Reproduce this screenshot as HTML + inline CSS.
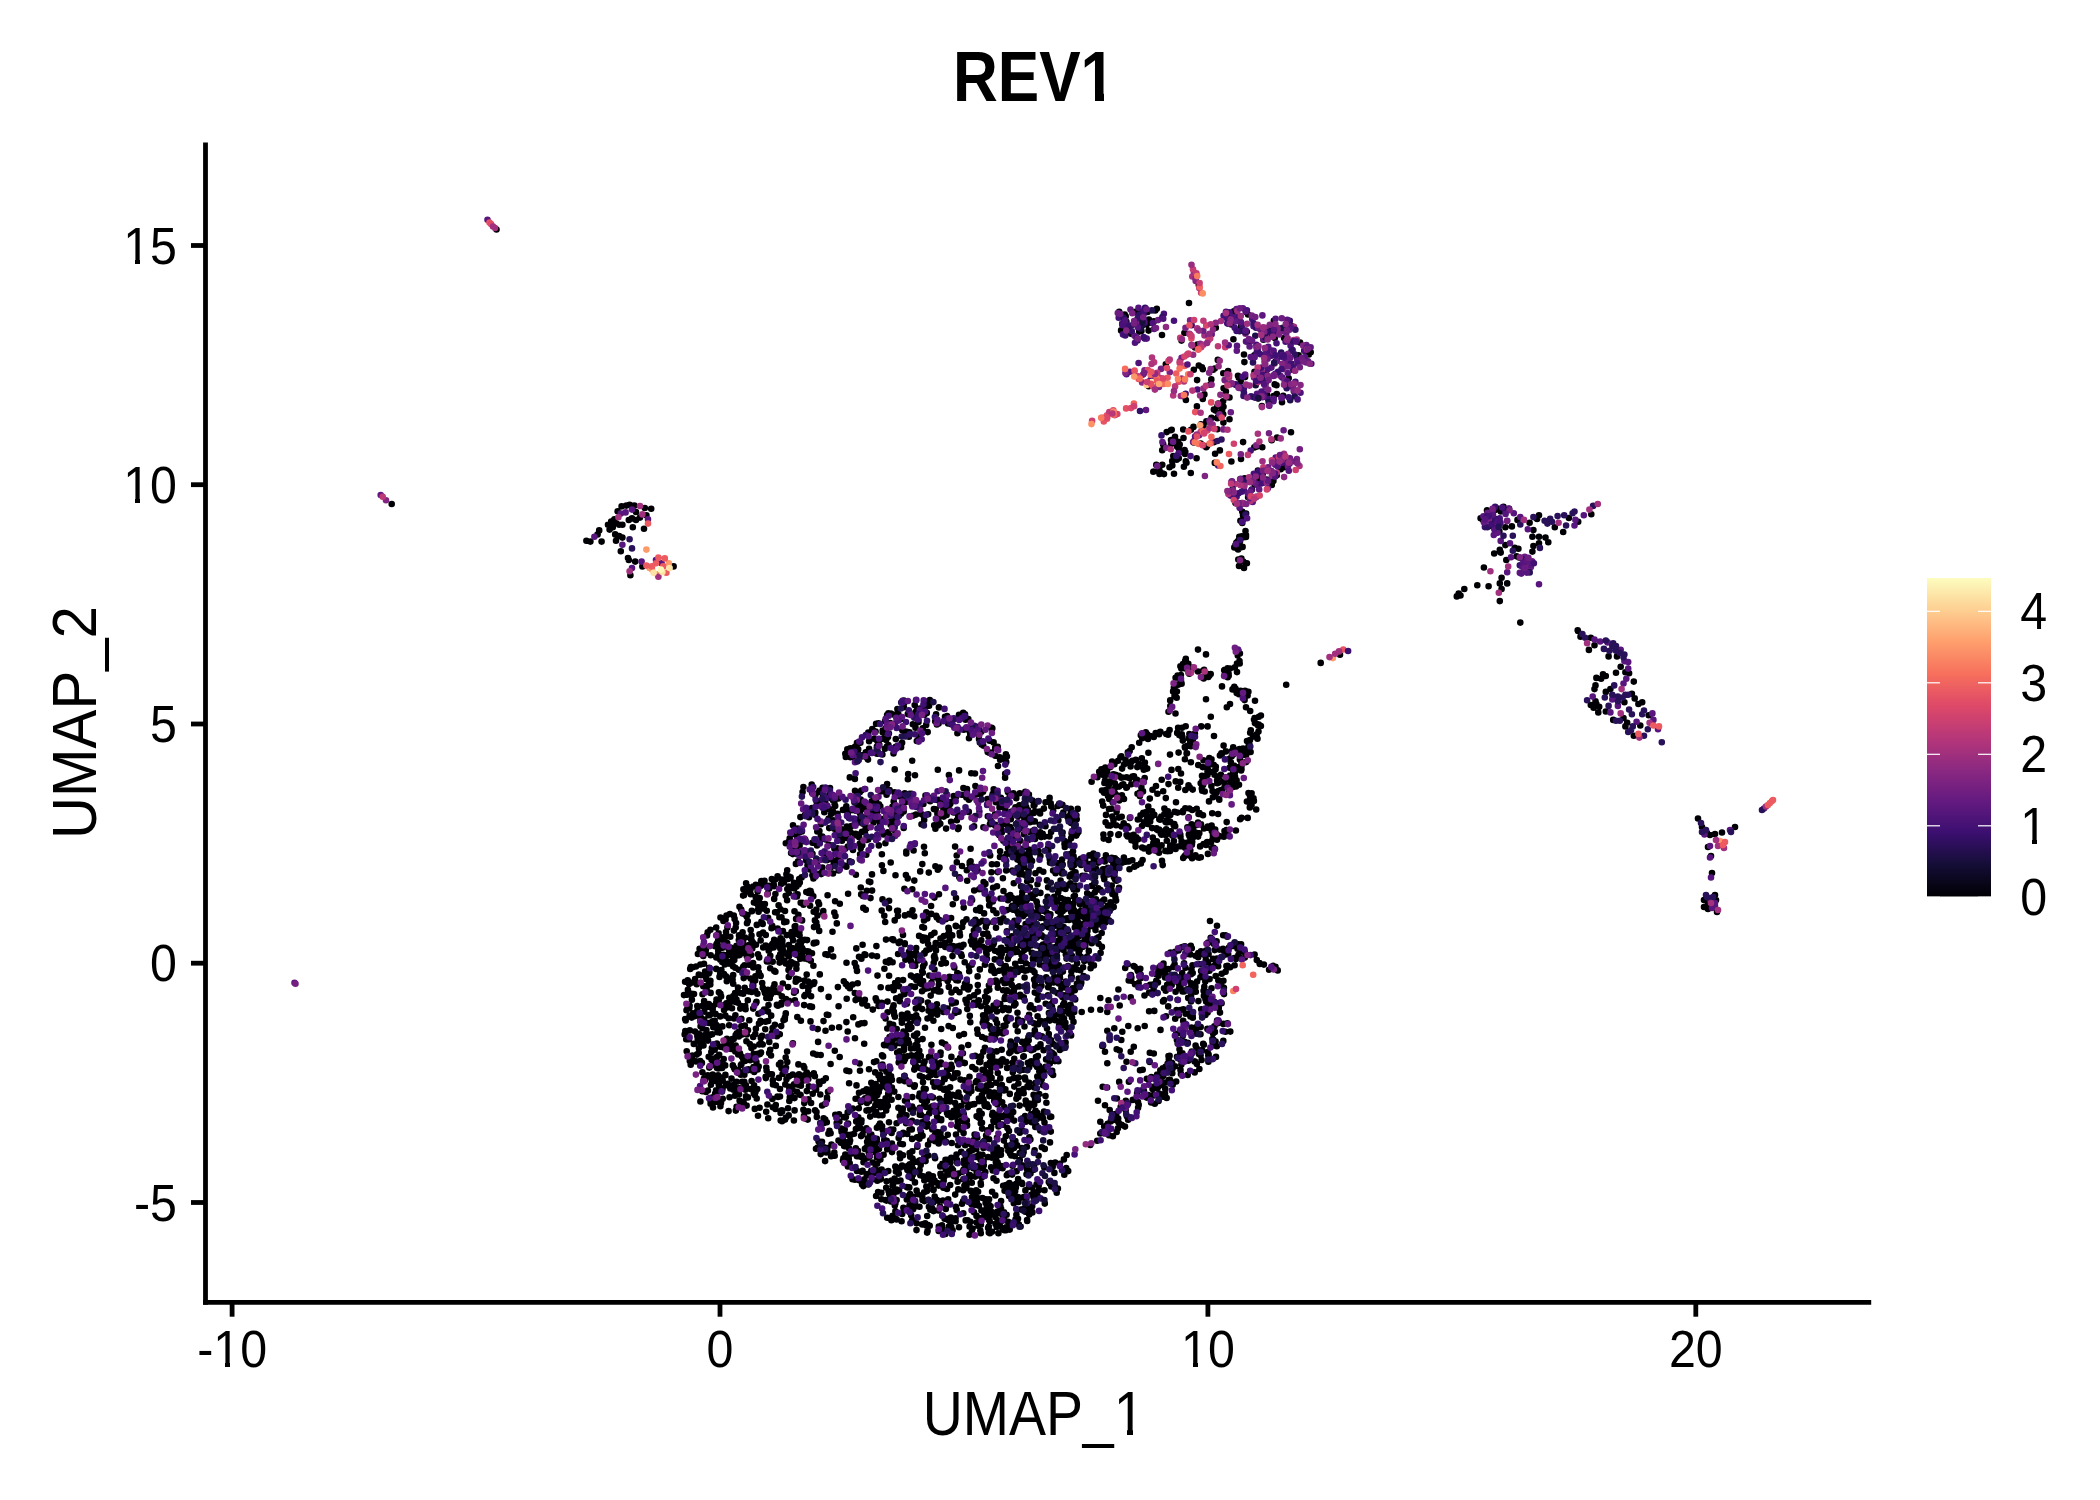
<!DOCTYPE html><html><head><meta charset="utf-8"><style>
html,body{margin:0;padding:0;background:#fff;width:2100px;height:1500px;overflow:hidden}
svg{display:block}
.tk{font-family:"Liberation Sans",sans-serif;font-size:52px;fill:#000}
.at{font-family:"Liberation Sans",sans-serif;font-size:63.4px;fill:#000}
.ttl{font-family:"Liberation Sans",sans-serif;font-size:70.9px;font-weight:bold;fill:#000}
</style></head><body><svg width="2100" height="1500" viewBox="0 0 2100 1500">
<line x1="205.5" y1="142.5" x2="205.5" y2="1304.8" stroke="#000" stroke-width="4.8" stroke-linecap="butt"/><line x1="203.1" y1="1302.4" x2="1871.2" y2="1302.4" stroke="#000" stroke-width="4.8"/><line x1="191" y1="245.5" x2="205.5" y2="245.5" stroke="#000" stroke-width="4.8"/><text transform="translate(177,263.5) scale(0.93,1)" text-anchor="end" class="tk">15</text><line x1="191" y1="484.7" x2="205.5" y2="484.7" stroke="#000" stroke-width="4.8"/><text transform="translate(177,502.7) scale(0.93,1)" text-anchor="end" class="tk">10</text><line x1="191" y1="724.0" x2="205.5" y2="724.0" stroke="#000" stroke-width="4.8"/><text transform="translate(177,742.0) scale(0.93,1)" text-anchor="end" class="tk">5</text><line x1="191" y1="963.2" x2="205.5" y2="963.2" stroke="#000" stroke-width="4.8"/><text transform="translate(177,981.2) scale(0.93,1)" text-anchor="end" class="tk">0</text><line x1="191" y1="1202.5" x2="205.5" y2="1202.5" stroke="#000" stroke-width="4.8"/><text transform="translate(177,1220.5) scale(0.93,1)" text-anchor="end" class="tk">-5</text><line x1="232.1" y1="1302.4" x2="232.1" y2="1316.7" stroke="#000" stroke-width="4.8"/><text transform="translate(232.1,1366.7) scale(0.93,1)" text-anchor="middle" class="tk">-10</text><line x1="720.0" y1="1302.4" x2="720.0" y2="1316.7" stroke="#000" stroke-width="4.8"/><text transform="translate(720.0,1366.7) scale(0.93,1)" text-anchor="middle" class="tk">0</text><line x1="1207.9" y1="1302.4" x2="1207.9" y2="1316.7" stroke="#000" stroke-width="4.8"/><text transform="translate(1207.9,1366.7) scale(0.93,1)" text-anchor="middle" class="tk">10</text><line x1="1695.8" y1="1302.4" x2="1695.8" y2="1316.7" stroke="#000" stroke-width="4.8"/><text transform="translate(1695.8,1366.7) scale(0.93,1)" text-anchor="middle" class="tk">20</text><text transform="translate(1034,100.8) scale(0.876,1)" text-anchor="middle" class="ttl">REV1</text><text transform="translate(1033.6,1435.3) scale(0.875,1)" text-anchor="middle" class="at">UMAP_1</text><text transform="translate(95.5,722.5) rotate(-90) scale(0.918,1)" x="0" y="0" text-anchor="middle" class="at">UMAP_2</text><defs><linearGradient id="cb" x1="0" y1="1" x2="0" y2="0"><stop offset="0.00" stop-color="#000004"/><stop offset="0.10" stop-color="#140E36"/><stop offset="0.20" stop-color="#3B0F70"/><stop offset="0.30" stop-color="#641A80"/><stop offset="0.40" stop-color="#8C2981"/><stop offset="0.50" stop-color="#B73779"/><stop offset="0.60" stop-color="#DE4968"/><stop offset="0.70" stop-color="#F7705C"/><stop offset="0.80" stop-color="#FE9F6D"/><stop offset="0.90" stop-color="#FECF92"/><stop offset="1.00" stop-color="#FCFDBF"/></linearGradient></defs><rect x="1927" y="578" width="64" height="318.5" fill="url(#cb)"/><line x1="1927" y1="897.3" x2="1940" y2="897.3" stroke="#fff" stroke-width="1.2"/><line x1="1978" y1="897.3" x2="1991" y2="897.3" stroke="#fff" stroke-width="1.2"/><text transform="translate(2020.2,915.3) scale(0.93,1)" class="tk">0</text><line x1="1927" y1="825.8" x2="1940" y2="825.8" stroke="#fff" stroke-width="1.2"/><line x1="1978" y1="825.8" x2="1991" y2="825.8" stroke="#fff" stroke-width="1.2"/><text transform="translate(2020.2,843.8) scale(0.93,1)" class="tk">1</text><line x1="1927" y1="754.3" x2="1940" y2="754.3" stroke="#fff" stroke-width="1.2"/><line x1="1978" y1="754.3" x2="1991" y2="754.3" stroke="#fff" stroke-width="1.2"/><text transform="translate(2020.2,772.3) scale(0.93,1)" class="tk">2</text><line x1="1927" y1="682.8" x2="1940" y2="682.8" stroke="#fff" stroke-width="1.2"/><line x1="1978" y1="682.8" x2="1991" y2="682.8" stroke="#fff" stroke-width="1.2"/><text transform="translate(2020.2,700.8) scale(0.93,1)" class="tk">3</text><line x1="1927" y1="611.3" x2="1940" y2="611.3" stroke="#fff" stroke-width="1.2"/><line x1="1978" y1="611.3" x2="1991" y2="611.3" stroke="#fff" stroke-width="1.2"/><text transform="translate(2020.2,629.3) scale(0.93,1)" class="tk">4</text><rect x="126" y="259" width="9" height="6" fill="#fff"/><rect x="140" y="259" width="9" height="6" fill="#fff"/><rect x="126" y="498" width="9" height="6" fill="#fff"/><rect x="140" y="498" width="9" height="6" fill="#fff"/><rect x="216" y="1362" width="9" height="6" fill="#fff"/><rect x="230" y="1362" width="9" height="6" fill="#fff"/><rect x="1183" y="1362" width="10" height="6" fill="#fff"/><rect x="1198" y="1362" width="9" height="6" fill="#fff"/><rect x="1083" y="92" width="12" height="10" fill="#fff"/><rect x="1104" y="92" width="11" height="10" fill="#fff"/><rect x="1117" y="1429" width="10" height="7" fill="#fff"/><rect x="1133" y="1429" width="10" height="7" fill="#fff"/><rect x="2023" y="839" width="9" height="6" fill="#fff"/><rect x="2037" y="839" width="9" height="6" fill="#fff"/><path stroke="#000004" stroke-width="6.6" stroke-linecap="round" fill="none" d="M1062.9 971.6h0M1520.3 622.6h0M793.1 940.3h0M927.7 1123.7h0M892.1 939.3h0M1049.7 925.0h0M843.0 1160.6h0M819.5 1147.8h0M737.3 955.4h0M1239.5 661.1h0M1610.4 689.1h0M848.1 893.8h0M1012.7 1185.3h0M839.7 838.4h0M1095.5 930.1h0M1026.5 908.0h0M1242.6 537.4h0M1178.2 787.8h0M1002.6 1059.2h0M739.5 906.8h0M725.4 1074.9h0M1090.1 919.5h0M760.5 1020.9h0M943.8 962.7h0M894.6 1190.2h0M825.5 1030.8h0M872.6 811.5h0M1187.6 745.7h0M1214.8 462.9h0M958.7 1114.0h0M1145.3 1095.7h0M1594.5 645.2h0M1130.7 997.4h0M1032.2 1105.1h0M1071.1 838.2h0M771.9 1074.4h0M919.6 1170.0h0M622.4 537.6h0M885.5 1200.0h0M1027.2 1221.0h0M938.4 1137.8h0M797.3 1076.7h0M1244.5 951.4h0M889.6 1037.1h0M914.7 705.0h0M1175.6 991.7h0M1005.3 809.5h0M1126.5 1102.9h0M1190.3 954.5h0M1145.8 732.2h0M898.0 1181.2h0M838.0 824.0h0M965.5 719.7h0M1158.0 830.2h0M913.6 1109.4h0M795.4 926.0h0M974.3 1104.1h0M924.5 963.7h0M750.7 894.3h0M786.5 1079.2h0M1101.4 769.2h0M1174.2 835.0h0M1036.6 1184.3h0M1129.7 751.1h0M958.6 1011.8h0M990.7 820.7h0M736.5 999.5h0M835.2 806.1h0M1036.5 901.5h0M1005.8 1136.3h0M845.3 848.7h0M1021.0 869.3h0M916.2 1015.3h0M1075.7 923.5h0M929.7 1225.8h0M733.4 1089.7h0M1013.0 838.7h0M1031.3 831.5h0M700.2 1021.0h0M808.2 1111.3h0M756.0 944.7h0M904.6 1075.9h0M916.0 700.3h0M966.9 1156.2h0M1039.7 811.6h0M1256.8 960.1h0M1016.3 851.1h0M1060.8 994.0h0M774.2 898.9h0M779.4 917.2h0M1023.2 916.1h0M1165.0 830.7h0M1071.4 971.6h0M758.7 1066.6h0M1013.8 883.2h0M1191.4 735.0h0M1090.7 962.6h0M1217.1 780.4h0M745.5 976.4h0M911.5 1055.6h0M800.9 1085.8h0M718.6 1002.8h0M1211.5 759.2h0M974.2 869.0h0M684.0 995.1h0M1623.5 718.0h0M882.7 732.2h0M740.9 1105.5h0M799.0 1074.4h0M802.6 1077.4h0M1172.7 1084.8h0M1144.1 822.3h0M814.6 872.6h0M590.4 541.6h0M910.2 1156.8h0M1192.2 810.0h0M1203.6 990.8h0M882.4 1064.6h0M745.0 1060.9h0M1005.6 805.6h0M988.5 936.8h0M1200.6 1055.3h0M744.8 1025.5h0M1028.8 1048.7h0M777.1 941.5h0M1048.1 847.9h0M1267.0 394.8h0M1580.5 636.8h0M1006.2 1019.0h0M1030.2 1116.4h0M1009.0 1131.1h0M1036.7 912.0h0M1025.9 908.5h0M985.6 1038.6h0M1119.2 1081.9h0M929.1 705.7h0M1226.0 952.7h0M933.9 1070.3h0M989.9 824.2h0M1487.0 510.4h0M1000.4 898.5h0M1624.4 702.2h0M1005.9 983.0h0M1032.4 1212.1h0M1210.8 716.8h0M1055.7 947.9h0M1054.1 967.0h0M948.3 1075.6h0M980.9 1184.8h0M1148.9 319.6h0M1052.5 900.5h0M1027.1 937.1h0M1211.5 988.2h0M1080.3 970.2h0M1217.8 359.9h0M882.0 1055.2h0M1157.2 829.1h0M860.7 848.3h0M1180.2 1053.2h0M1025.5 889.8h0M746.8 1034.5h0M1099.0 910.9h0M1456.8 596.4h0M1500.7 552.6h0M921.1 1000.6h0M1215.2 1045.7h0M1240.1 819.3h0M1266.8 479.5h0M933.4 1020.7h0M685.3 1033.5h0M1087.9 908.4h0M766.2 1111.7h0M1509.1 508.7h0M959.8 1096.7h0M1023.3 874.4h0M926.7 1126.6h0M1192.7 789.6h0M1010.7 1196.1h0M1039.1 931.5h0M984.2 1145.8h0M928.4 1199.7h0M1017.0 911.3h0M988.9 985.6h0M781.6 879.6h0M704.0 1078.6h0M1073.7 889.5h0M718.2 1027.8h0M1015.8 854.3h0M739.6 1100.8h0M951.1 918.0h0M1217.3 418.3h0M959.6 932.7h0M1249.1 741.1h0M916.6 710.9h0M1168.5 1056.0h0M1078.3 929.8h0M1116.5 863.7h0M1029.0 1186.7h0M1066.3 1027.3h0M1215.4 1004.7h0M1188.5 785.3h0M797.6 894.2h0M1013.7 1000.7h0M903.8 1209.9h0M805.2 839.6h0M869.7 1156.3h0M988.4 1085.1h0M838.8 832.1h0M993.4 922.0h0M967.7 1220.3h0M1251.4 799.4h0M689.5 1016.0h0M834.3 912.5h0M1191.6 824.4h0M746.7 916.5h0M826.6 954.3h0M798.1 1084.8h0M1038.9 833.5h0M1002.5 1228.3h0M970.8 1190.9h0M700.4 1101.5h0M1171.7 985.0h0M1025.9 963.2h0M974.1 995.2h0M755.2 980.6h0M1031.0 945.5h0M1033.1 835.7h0M1185.0 453.9h0M1192.1 858.3h0M1013.2 1112.0h0M789.4 877.8h0M1037.7 999.8h0M1005.1 856.7h0M1044.0 1111.5h0M980.9 1224.8h0M1108.7 785.8h0M996.9 864.2h0M750.7 938.8h0M1111.3 808.8h0M1216.7 834.4h0M838.5 857.6h0M976.6 1222.6h0M741.4 1064.2h0M780.3 948.4h0M959.5 992.3h0M819.8 974.4h0M1266.0 382.3h0M975.2 1201.0h0M948.8 1172.3h0M933.3 1190.0h0M1022.4 1165.3h0M843.0 1140.0h0M1221.4 985.2h0M1049.8 1183.5h0M995.1 814.4h0M953.7 1110.9h0M884.4 1045.2h0M827.1 855.4h0M790.1 1086.8h0M883.9 1133.3h0M926.4 1225.5h0M960.0 935.5h0M969.0 966.4h0M852.7 1108.6h0M1015.2 1191.0h0M1054.1 1054.8h0M708.3 1076.5h0M1223.2 935.2h0M1196.6 458.2h0M723.7 1059.0h0M1062.4 997.1h0M1202.3 781.0h0M986.6 954.4h0M986.0 1199.3h0M1266.7 352.2h0M1252.9 736.6h0M1093.8 859.2h0M1123.7 823.4h0M935.2 1141.2h0M728.8 949.5h0M863.5 1162.3h0M1031.2 1114.2h0M893.1 1024.8h0M1064.0 936.6h0M762.1 1035.9h0M1085.6 941.3h0M914.8 1085.4h0M995.0 950.8h0M1208.3 677.0h0M1170.2 821.9h0M955.8 1073.3h0M938.0 1140.2h0M1128.8 861.4h0M1038.7 1185.8h0M933.7 963.1h0M772.7 961.7h0M716.4 1081.3h0M1247.0 741.1h0M1037.3 1076.5h0M1028.0 1210.5h0M906.3 853.4h0M889.7 1023.9h0M1229.5 419.3h0M1168.5 784.1h0M1170.3 815.1h0M1225.9 751.4h0M787.3 889.0h0M733.2 1085.0h0M1064.0 967.6h0M1225.4 935.3h0M1007.1 1067.9h0M997.0 1137.9h0M1215.6 1041.5h0M1052.9 951.4h0M774.3 970.9h0M814.9 920.4h0M749.0 991.4h0M706.4 979.3h0M954.3 967.4h0M1171.5 769.9h0M1248.5 793.1h0M1140.0 312.7h0M1006.2 870.5h0M1207.5 775.1h0M934.0 947.6h0M1180.5 836.8h0M848.8 1158.9h0M918.5 720.3h0M1246.1 513.6h0M747.5 950.2h0M1163.8 1000.5h0M1263.4 339.7h0M888.2 1093.9h0M694.0 994.1h0M813.3 896.2h0M1039.1 1066.0h0M911.3 1209.3h0M1059.7 921.9h0M1010.7 1051.8h0M878.8 845.4h0M1230.0 704.0h0M1152.1 811.4h0M1213.2 834.9h0M1201.2 726.4h0M849.6 1142.5h0M1203.6 844.0h0M882.5 899.4h0M845.8 983.9h0M965.3 729.0h0M983.5 1019.9h0M751.8 910.8h0M992.0 1231.7h0M1100.6 952.9h0M1037.6 1016.3h0M1171.0 440.1h0M632.0 518.4h0M1058.5 911.3h0M867.0 1102.9h0M1216.9 837.7h0M1209.0 801.4h0M1102.2 925.4h0M772.2 944.4h0M925.3 937.7h0M706.1 1034.0h0M1146.4 986.2h0M1175.1 951.8h0M937.2 1014.6h0M810.5 1021.4h0M804.6 1112.0h0M969.2 971.3h0M1006.9 990.4h0M999.5 1154.2h0M897.4 709.1h0M1016.4 967.9h0M1121.3 1040.0h0M833.1 820.4h0M933.9 990.4h0M987.4 1091.5h0M1132.4 760.7h0M1074.8 927.6h0M1073.0 851.3h0M735.1 993.1h0M1008.9 956.1h0M1230.3 780.6h0M946.7 803.0h0M991.1 1167.2h0M930.7 995.6h0M1080.8 984.4h0M889.0 908.3h0M963.9 987.5h0M786.4 921.8h0M806.1 860.6h0M1077.7 918.0h0M1189.8 670.9h0M1256.4 446.7h0M708.7 1056.8h0M1019.0 913.8h0M1193.1 827.5h0M1180.9 675.0h0M846.5 984.5h0M884.4 968.8h0M1037.5 1047.2h0M701.1 975.2h0M1019.1 899.2h0M817.3 831.4h0M903.5 1031.6h0M1114.4 764.2h0M937.1 1116.5h0M886.8 1087.7h0M1013.8 991.6h0M1105.1 908.4h0M977.7 870.6h0M879.6 1088.5h0M736.1 1093.9h0M1258.8 481.1h0M817.7 1029.1h0M713.4 1101.3h0M899.1 1190.3h0M771.5 928.3h0M813.4 965.7h0M782.8 983.5h0M1190.6 946.9h0M866.6 1147.3h0M974.0 1167.2h0M813.8 1073.3h0M1062.7 864.5h0M1163.2 444.4h0M759.9 1054.1h0M1190.5 838.9h0M749.3 1020.2h0M1098.5 937.3h0M1027.5 1086.4h0M822.0 1141.8h0M764.5 880.9h0M1116.6 811.7h0M870.9 752.6h0M1034.1 1034.3h0M926.4 1116.8h0M959.1 770.4h0M716.5 999.5h0M747.4 953.7h0M753.6 1070.1h0M902.8 1108.5h0M1072.1 867.5h0M775.1 912.2h0M1156.0 786.0h0M825.1 1104.0h0M1215.2 829.5h0M903.4 990.6h0M1211.1 966.7h0M1163.2 791.2h0M1233.6 750.2h0M988.7 897.0h0M905.4 959.8h0M931.4 1073.1h0M911.2 986.3h0M967.0 789.0h0M1170.3 706.0h0M748.9 945.0h0M753.3 985.4h0M1090.6 968.3h0M898.2 715.2h0M856.2 1121.4h0M1189.7 787.4h0M1063.6 938.2h0M814.9 1076.3h0M904.1 1056.6h0M1034.8 927.8h0M1015.5 949.1h0M1191.9 844.8h0M1232.1 750.7h0M1234.6 495.0h0M810.6 891.1h0M889.1 900.7h0M1013.8 1203.2h0M979.0 739.0h0M945.8 1088.8h0M912.2 1174.1h0M1244.1 751.5h0M1026.8 942.4h0M995.9 1166.7h0M785.3 1084.4h0M628.0 558.0h0M1144.0 848.4h0M875.0 1114.6h0M1274.9 475.2h0M1248.9 341.9h0M986.1 1135.5h0M843.7 1131.2h0M1036.9 1119.0h0M1260.9 726.0h0M1241.9 503.0h0M1087.3 935.5h0M1021.3 827.7h0M977.7 1166.4h0M909.3 1187.4h0M1219.1 776.8h0M764.9 904.0h0M630.4 575.2h0M1199.4 1069.0h0M846.3 806.2h0M785.8 1013.4h0M952.4 977.4h0M958.3 1189.4h0M1060.8 898.1h0M812.5 853.8h0M889.7 960.4h0M1120.9 798.5h0M970.3 1022.3h0M796.4 950.2h0M868.2 1173.7h0M976.7 1172.4h0M891.4 1220.2h0M1029.8 853.6h0M938.7 1231.0h0M933.0 1097.5h0M1205.8 959.7h0M1072.1 959.3h0M1001.9 1085.1h0M965.7 1220.4h0M1024.6 977.5h0M1071.2 912.2h0M1190.2 741.2h0M720.4 993.8h0M969.6 986.7h0M911.8 1178.1h0M968.8 1093.6h0M1110.3 825.6h0M906.1 1035.0h0M881.4 1199.2h0M877.2 740.7h0M1058.1 1045.3h0M1179.2 1032.7h0M948.7 946.5h0M965.4 1170.8h0M707.9 1090.5h0M1006.0 1230.2h0M955.6 1218.2h0M1052.2 1070.9h0M1048.1 981.7h0M1017.8 845.3h0M757.8 904.6h0M1141.4 331.0h0M920.8 1056.1h0M1181.1 451.6h0M1044.8 1203.6h0M1142.5 735.0h0M1221.7 973.8h0M971.3 773.2h0M1073.6 988.6h0M808.4 813.5h0M691.9 999.8h0M978.4 1000.5h0M985.1 1024.3h0M951.3 724.2h0M804.5 980.5h0M1053.1 1075.0h0M1013.5 1146.4h0M720.3 1077.2h0M1062.7 1020.5h0M1025.6 846.4h0M780.6 1113.0h0M1022.5 928.6h0M1131.0 333.7h0M1206.9 775.0h0M1005.1 997.0h0M851.9 756.3h0M896.9 834.0h0M808.2 981.6h0M848.0 986.4h0M929.4 949.2h0M1172.3 465.4h0M755.4 976.4h0M744.5 1070.8h0M930.2 1140.2h0M783.0 950.2h0M988.1 1227.9h0M763.9 908.7h0M1213.9 409.6h0M1080.0 957.0h0M1002.4 1220.7h0M753.8 1053.7h0M844.0 1117.1h0M1017.6 951.8h0M1026.0 1121.8h0M856.3 948.4h0M1006.6 1214.7h0M788.8 893.0h0M712.7 1097.3h0M1034.2 1104.6h0M952.1 1003.5h0M1004.0 1090.4h0M939.5 867.6h0M1138.1 1107.8h0M983.9 1216.8h0M819.1 904.3h0M717.0 1068.1h0M1218.1 416.8h0M875.3 1105.3h0M778.9 1077.9h0M1115.2 863.3h0M931.2 913.9h0M924.9 702.7h0M1168.2 1006.4h0M964.4 1086.3h0M1165.6 822.0h0M877.0 1171.7h0M881.3 1192.7h0M810.2 808.7h0M1125.5 759.8h0M816.6 801.7h0M1125.0 1126.6h0M989.7 1026.0h0M1160.8 833.6h0M834.3 828.8h0M1340.0 654.8h0M1217.0 839.8h0M1026.5 1174.2h0M1116.9 795.4h0M927.5 1018.5h0M846.1 1146.3h0M980.2 1062.1h0M1005.6 974.9h0M1049.6 797.9h0M864.8 821.9h0M838.5 861.3h0M876.6 1000.8h0M1627.2 722.7h0M1198.1 836.6h0M1077.7 923.6h0M802.1 948.0h0M843.0 809.9h0M1005.0 1115.0h0M1257.5 738.7h0M923.8 1088.5h0M1239.8 547.7h0M1015.2 808.8h0M907.5 1013.5h0M788.6 841.7h0M993.4 1120.9h0M1083.3 924.8h0M997.6 1162.4h0M789.3 1089.0h0M1019.3 853.1h0M816.8 1054.7h0M1173.7 825.2h0M1071.9 955.8h0M1237.7 541.2h0M1027.6 936.9h0M1243.1 442.1h0M1249.4 744.3h0M1122.3 1031.7h0M1111.8 857.7h0M858.3 1117.2h0M755.3 990.7h0M1063.7 927.1h0M1000.4 1206.2h0M815.3 812.6h0M1176.7 459.7h0M1030.0 1118.2h0M1118.4 1122.2h0M1031.1 922.5h0M928.0 1144.7h0M1105.0 1051.7h0M1122.2 784.7h0M894.1 1192.6h0M1110.0 907.7h0M924.2 963.2h0M1460.5 595.5h0M879.8 826.9h0M1118.8 775.9h0M1118.9 817.6h0M815.1 1088.3h0M712.2 1034.3h0M796.0 978.9h0M1203.3 670.5h0M717.7 955.6h0M951.4 1056.9h0M771.8 879.1h0M799.8 882.6h0M1171.4 441.2h0M1026.1 795.3h0M751.8 941.1h0M887.1 784.0h0M1030.4 1139.6h0M890.7 862.5h0M1187.7 979.7h0M718.2 951.2h0M1203.9 1044.7h0M718.9 999.7h0M850.4 757.2h0M786.0 1067.6h0M1021.8 1182.8h0M1022.3 1183.9h0M777.6 876.3h0M1180.4 666.2h0M969.4 1151.7h0M748.5 1070.1h0M922.6 1039.1h0M1153.6 989.1h0M1052.7 1053.3h0M1018.1 1179.0h0M1257.9 470.5h0M975.3 794.7h0M788.1 878.9h0M959.2 1035.6h0M1152.8 837.6h0M993.9 943.0h0M996.5 1180.7h0M1205.1 973.3h0M1014.2 795.8h0M812.1 792.7h0M892.0 1152.1h0M983.1 1167.4h0M771.0 1055.5h0M939.5 1084.3h0M1292.0 326.4h0M1598.3 712.4h0M998.4 1126.5h0M831.0 814.0h0M840.7 1142.7h0M973.9 1200.4h0M926.8 712.9h0M931.2 935.1h0M967.8 1091.3h0M1017.8 971.9h0M969.5 1234.8h0M996.0 927.8h0M1138.7 1104.9h0M1135.0 984.2h0M1049.8 1063.4h0M1102.3 1046.0h0M859.0 956.8h0M1198.5 833.2h0M913.2 1055.9h0M1195.6 1045.6h0M1156.3 464.9h0M875.7 998.4h0M796.7 933.9h0M758.8 972.4h0M1143.0 791.4h0M1199.3 833.3h0M1236.0 786.4h0M1076.7 819.2h0M983.1 1015.4h0M935.4 828.8h0M965.6 1188.3h0M922.0 991.2h0M745.6 945.6h0M887.8 832.2h0M929.8 700.0h0M1142.7 1069.8h0M930.5 1075.2h0M906.7 1187.0h0M1200.5 1034.3h0M790.4 953.0h0M1150.2 821.4h0M1196.7 1048.2h0M912.3 889.3h0M1107.9 792.2h0M1142.6 860.0h0M947.0 716.0h0M1215.8 766.7h0M904.6 797.5h0M1033.5 1192.9h0M1212.9 835.2h0M742.0 1056.7h0M1219.3 799.8h0M1156.5 847.8h0M958.0 1145.3h0M935.1 1158.3h0M597.6 534.4h0M823.6 1118.3h0M709.7 1007.0h0M983.8 1165.2h0M1181.5 340.6h0M760.8 1037.9h0M855.7 810.8h0M879.9 1074.9h0M943.4 958.8h0M997.1 1023.3h0M951.8 1067.6h0M1070.6 858.0h0M1010.8 834.8h0M1109.2 798.9h0M983.2 889.4h0M760.7 975.9h0M1007.4 1128.1h0M1212.2 966.5h0M987.8 816.2h0M1059.7 928.7h0M897.4 911.3h0M976.5 924.8h0M1246.9 801.5h0M1245.1 377.1h0M839.7 1057.0h0M859.1 803.7h0M973.9 930.5h0M1191.1 995.6h0M1226.7 822.1h0M938.7 1143.4h0M904.0 1050.0h0M1143.9 1091.1h0M1090.2 904.0h0M757.4 993.7h0M789.0 1000.8h0M789.1 876.6h0M1186.8 980.0h0M1131.4 977.6h0M729.2 1025.2h0M705.8 976.7h0M1163.5 963.6h0M1183.2 810.8h0M966.9 792.3h0M1008.7 1008.6h0M1073.7 896.5h0M872.5 1146.4h0M1082.9 902.1h0M1005.9 800.2h0M816.4 909.6h0M855.1 819.5h0M1057.2 923.3h0M1027.2 881.2h0M1103.2 805.6h0M1162.8 1068.4h0M1096.1 868.9h0M703.5 1005.8h0M1015.0 1046.3h0M1710.0 835.0h0M798.1 861.3h0M1215.8 327.7h0M1064.1 899.5h0M1138.0 1102.1h0M1043.9 937.2h0M842.0 840.8h0M886.9 1106.7h0M1491.5 518.8h0M906.0 1079.9h0M782.2 1111.4h0M1066.2 1168.1h0M1625.4 672.3h0M907.8 714.1h0M966.5 919.4h0M811.1 1103.0h0M1225.9 391.6h0M1178.1 727.9h0M1108.0 796.0h0M859.2 837.2h0M1198.8 365.5h0M1229.1 792.5h0M1224.0 994.1h0M868.7 1110.0h0M1246.0 312.1h0M792.7 843.9h0M1034.5 805.0h0M1037.9 1100.0h0M722.2 962.1h0M1633.8 681.6h0M1086.4 931.4h0M1030.5 1173.4h0M724.0 1010.0h0M1514.7 547.9h0M1042.8 926.4h0M716.3 1025.9h0M697.4 1010.5h0M922.3 1197.0h0M1061.6 905.0h0M896.6 1200.0h0M1160.0 819.8h0M1012.8 943.2h0M850.4 831.9h0M936.9 1004.3h0M1247.7 817.9h0M967.2 880.7h0M901.6 1221.3h0M1196.1 1030.3h0M958.0 980.5h0M1091.2 895.2h0M1018.2 816.1h0M794.1 992.8h0M1104.3 879.2h0M1074.3 948.3h0M931.5 982.9h0M689.8 1061.1h0M988.9 1078.9h0M1045.5 802.2h0M1259.2 725.7h0M1241.8 536.2h0M1249.8 807.4h0M1007.9 813.0h0M916.4 980.1h0M1176.0 802.3h0M979.2 1101.2h0M804.4 996.1h0M785.8 843.2h0M1146.6 324.6h0M1102.1 773.6h0M995.2 747.9h0M1027.0 1169.3h0M1194.8 832.2h0M1010.9 1049.4h0M916.6 1034.0h0M1125.0 1106.9h0M736.6 1106.9h0M991.2 727.9h0M689.1 984.1h0M735.3 1047.5h0M858.1 1127.3h0M1181.3 668.5h0M749.3 891.4h0M868.3 732.6h0M987.3 933.6h0M1273.4 480.9h0M1223.2 414.3h0M1211.8 830.9h0M753.0 983.0h0M781.5 1068.2h0M786.8 935.1h0M726.8 944.5h0M804.7 939.8h0M827.8 955.0h0M1156.6 828.2h0M718.6 933.3h0M781.9 996.2h0M1177.2 732.9h0M821.2 874.1h0M1205.4 999.1h0M1019.5 928.0h0M1185.9 400.0h0M907.9 779.2h0M978.1 1191.7h0M804.3 1103.1h0M1578.0 631.0h0M1064.3 1174.7h0M845.3 1154.5h0M1040.5 1045.4h0M825.3 802.5h0M832.5 931.7h0M1018.1 1199.2h0M1043.1 1085.3h0M922.6 1122.3h0M1150.0 1078.9h0M1215.1 965.0h0M1258.9 716.8h0M919.5 1206.8h0M870.3 882.1h0M696.0 966.5h0M969.3 1151.2h0M934.6 1180.6h0M1180.5 1069.9h0M1012.6 906.1h0M1237.6 944.2h0M790.0 949.2h0M891.9 1087.6h0M1025.5 945.8h0M791.1 1095.1h0M720.2 1046.8h0M1151.8 321.2h0M759.7 898.1h0M705.0 1080.0h0M1013.4 972.5h0M877.3 811.5h0M981.3 940.3h0M1197.4 833.3h0M1127.8 752.4h0M920.0 982.9h0M948.9 775.0h0M807.4 958.8h0M740.9 1065.0h0M790.6 877.4h0M710.4 980.9h0M824.3 812.2h0M1060.6 948.2h0M704.0 963.8h0M1147.7 823.9h0M944.0 1139.4h0M888.5 1073.5h0M729.6 962.2h0M1142.5 324.0h0M967.3 1009.1h0M946.6 719.8h0M890.6 824.8h0M790.5 974.0h0M1028.4 1037.4h0M972.1 900.0h0M1212.4 1039.0h0M1140.3 968.7h0M895.5 875.2h0M1074.9 895.7h0M1006.8 1175.3h0M1037.3 932.7h0M997.6 1220.2h0M1200.1 846.4h0M1159.2 845.2h0M804.1 1005.1h0M947.6 1008.6h0M723.7 955.4h0M1032.5 1164.7h0M1235.5 545.1h0M924.0 920.5h0M1545.5 537.6h0M1103.1 869.4h0M1025.6 924.1h0M729.8 1002.7h0M1027.1 970.2h0M1018.3 914.1h0M891.9 987.2h0M912.1 1120.8h0M803.7 853.4h0M958.2 1126.8h0M852.5 1179.2h0M905.0 1100.8h0M763.1 932.5h0M1075.2 885.5h0M798.0 945.6h0M1004.4 1230.2h0M951.7 1168.2h0M1292.5 367.0h0M780.9 955.6h0M1066.5 1171.4h0M1007.4 1017.5h0M1238.4 693.1h0M906.1 1121.8h0M732.0 1008.2h0M864.5 1023.1h0M898.2 980.2h0M1103.4 909.6h0M1042.7 833.7h0M1000.3 1004.1h0M689.8 1030.4h0M1199.8 964.3h0M1154.8 1103.7h0M916.2 948.1h0M1161.3 816.6h0M962.2 927.0h0M794.9 1000.3h0M1001.7 954.0h0M1202.7 767.1h0M848.1 1123.6h0M1118.2 798.8h0M1226.8 707.2h0M923.0 1097.2h0M1179.3 985.1h0M716.3 957.4h0M743.9 895.3h0M689.0 1039.3h0M858.8 998.6h0M909.6 1153.0h0M979.7 1118.3h0M1118.3 834.9h0M914.2 1086.8h0M1023.7 1093.3h0M903.0 1155.2h0M985.4 883.9h0M1119.7 1050.6h0M1029.3 1208.1h0M1057.2 951.0h0M1233.1 771.2h0M876.9 1142.0h0M792.3 1089.2h0M1214.4 1026.4h0M1107.4 1133.4h0M1140.9 863.4h0M954.0 1174.4h0M866.5 1110.6h0M836.8 834.8h0M1192.8 740.1h0M1134.4 866.7h0M1214.5 774.8h0M1029.6 856.6h0M937.8 869.8h0M950.8 1068.7h0M827.6 1152.2h0M855.0 790.8h0M1085.0 858.3h0M644.0 528.8h0M917.9 1194.3h0M1204.4 954.4h0M803.4 787.0h0M980.8 1233.2h0M754.2 1072.0h0M1000.9 1154.7h0M971.8 1182.8h0M1174.7 811.8h0M845.0 831.3h0M1038.0 936.6h0M734.8 996.4h0M902.6 1110.8h0M927.7 988.3h0M1003.3 1116.9h0M1168.5 711.8h0M1191.2 983.2h0M922.1 1009.1h0M714.7 1049.8h0M759.2 957.4h0M1258.1 725.5h0M1016.4 1078.1h0M727.2 943.0h0M937.7 1119.9h0M1074.5 820.3h0M797.8 830.6h0M1019.7 805.3h0M961.1 954.4h0M856.9 1156.2h0M995.3 1195.4h0M975.9 1176.0h0M861.3 1156.6h0M1125.6 861.7h0M828.0 1091.7h0M1203.1 785.1h0M896.6 1219.4h0M1048.9 1013.0h0M736.2 953.4h0M1214.7 368.5h0M1016.4 1214.8h0M691.3 982.7h0M1025.3 1211.8h0M1148.4 752.7h0M974.5 939.9h0M1136.1 779.5h0M988.7 949.1h0M874.1 738.8h0M1207.4 1028.9h0M1036.0 1057.1h0M900.6 719.2h0M1063.3 936.6h0M1022.2 827.4h0M1219.9 755.5h0M1187.4 979.6h0M756.8 924.9h0M774.5 984.4h0M1077.7 808.9h0M774.1 886.2h0M722.7 1098.7h0M1254.3 447.4h0M1025.0 934.3h0M968.2 989.5h0M719.5 976.9h0M1034.8 821.4h0M1191.2 671.0h0M993.6 742.4h0M801.0 831.8h0M996.7 1002.7h0M1020.0 1091.4h0M727.1 1007.5h0M858.2 819.2h0M1207.9 853.9h0M895.8 739.1h0M916.6 1161.8h0M739.0 1031.6h0M1245.0 690.8h0M1288.7 378.3h0M908.4 956.9h0M1227.4 1023.2h0M1009.9 947.7h0M824.0 1147.3h0M815.2 795.4h0M1264.6 357.3h0M1516.6 556.3h0M1240.6 690.8h0M1246.8 331.8h0M1101.2 912.9h0M991.5 966.1h0M1023.7 899.9h0M846.4 1070.6h0M864.0 1161.9h0M701.9 1062.9h0M716.1 1090.3h0M946.5 1008.6h0M791.6 932.1h0M880.3 806.3h0M898.7 1062.5h0M1039.0 1190.0h0M1078.9 923.0h0M757.3 1065.7h0M733.3 996.0h0M905.9 875.1h0M811.7 784.5h0M1192.5 965.4h0M1003.1 990.3h0M860.5 859.8h0M899.0 986.2h0M1007.1 1185.4h0M1106.1 869.3h0M726.8 981.2h0M829.1 844.9h0M1021.0 811.5h0M1148.3 806.5h0M1050.1 1116.9h0M1004.7 973.3h0M1077.1 963.2h0M859.9 813.2h0M874.0 1062.1h0M833.0 873.5h0M1215.1 453.7h0M1246.9 563.3h0M1146.9 734.0h0M1248.0 314.5h0M803.4 1109.8h0M1142.3 316.2h0M1095.6 859.0h0M1001.3 947.8h0M1005.1 968.9h0M989.0 899.8h0M1175.6 677.8h0M695.1 979.0h0M792.9 1043.3h0M885.7 902.9h0M962.9 1053.3h0M1259.8 476.1h0M955.1 1103.1h0M1052.7 1166.7h0M724.8 964.4h0M1212.5 791.0h0M1118.0 1128.2h0M1164.2 969.3h0M1137.8 819.5h0M1029.3 1103.5h0M1014.2 1005.4h0M876.1 802.5h0M1219.7 415.8h0M824.1 1122.9h0M964.4 1185.8h0M815.1 876.7h0M1239.5 749.1h0M997.1 1147.5h0M775.8 1045.9h0M807.3 959.1h0M1109.7 1110.0h0M876.6 1102.5h0M1092.2 865.5h0M1057.6 981.5h0M1032.5 1195.1h0M909.4 913.9h0M686.7 1051.3h0M1194.6 1061.6h0M1002.3 824.6h0M995.4 1217.0h0M941.9 1042.6h0M690.8 967.1h0M1016.8 969.3h0M1064.5 843.9h0M1708.0 847.0h0M721.5 937.4h0M1702.0 827.0h0M780.2 954.3h0M1213.8 764.8h0M1017.4 859.6h0M1207.1 673.8h0M1224.5 831.1h0M1167.6 1063.9h0M1539.0 536.7h0M869.7 806.5h0M950.6 1225.9h0M1123.3 784.2h0M690.7 1064.8h0M1629.1 673.2h0M1241.8 949.7h0M1062.4 906.1h0M1073.1 908.3h0M1221.4 413.0h0M1226.2 777.2h0M1107.5 914.4h0M860.7 799.5h0M964.1 1163.4h0M893.5 1045.5h0M888.3 1171.0h0M918.1 1060.3h0M876.1 723.8h0M1090.2 909.4h0M1155.1 992.6h0M903.4 1207.7h0M990.9 752.5h0M1194.7 1072.4h0M1203.7 678.5h0M1182.8 1057.2h0M880.1 1102.1h0M743.8 1103.2h0M1224.8 669.9h0M1068.8 955.1h0M1262.9 473.3h0M893.3 1129.5h0M782.6 1073.7h0M730.3 1088.4h0M982.6 1142.9h0M1109.0 1135.3h0M942.5 805.9h0M969.0 1175.9h0M1053.2 810.5h0M902.5 805.3h0M1111.0 908.4h0M997.4 797.1h0M1199.2 857.7h0M391.7 504.0h0M891.9 1079.9h0M1196.4 1033.8h0M891.9 1146.7h0M1717.0 912.0h0M819.2 930.9h0M993.5 1152.7h0M1115.3 787.5h0M1084.5 936.4h0M1160.5 970.0h0M928.9 1206.8h0M912.1 1138.9h0M1244.8 957.6h0M987.7 998.3h0M1181.2 451.2h0M781.1 884.1h0M907.4 1169.9h0M1050.2 938.5h0M955.9 989.8h0M765.8 935.0h0M1157.4 793.7h0M965.5 999.9h0M932.3 1129.4h0M1013.9 925.4h0M1166.9 820.5h0M867.8 1098.9h0M693.0 1013.2h0M835.5 916.0h0M784.8 1019.5h0M787.8 953.4h0M1165.8 975.0h0M1051.3 1186.4h0M1057.4 993.1h0M1010.0 842.5h0M904.8 794.3h0M1010.1 1226.5h0M778.3 940.7h0M928.6 1178.9h0M739.0 1088.1h0M920.2 871.4h0M1059.4 927.9h0M1240.4 479.4h0M1035.6 1110.8h0M1191.8 948.2h0M915.5 1045.4h0M898.7 943.1h0M964.5 1080.3h0M915.2 955.6h0M830.8 867.3h0M1153.9 1095.5h0M774.6 942.5h0M816.5 1112.1h0M1191.5 667.5h0M733.8 915.6h0M956.5 1154.6h0M1187.4 827.3h0M989.6 1056.2h0M1040.4 856.1h0M693.9 1015.0h0M842.7 836.1h0M1153.2 844.4h0M865.8 752.3h0M1083.8 917.1h0M1121.7 816.8h0M993.5 1178.3h0M1287.6 328.4h0M1127.6 964.3h0M1284.1 467.2h0M933.9 809.1h0M1183.4 1009.3h0M1532.4 551.6h0M1024.6 806.5h0M697.7 1039.1h0M1212.3 772.0h0M1023.6 1152.3h0M699.7 1041.9h0M762.7 1044.5h0M1235.9 830.5h0M894.4 1045.5h0M1230.1 967.3h0M1180.9 1073.9h0M1233.9 311.4h0M752.7 1070.8h0M822.0 872.5h0M1711.0 856.0h0M797.3 1017.0h0M1210.7 1002.6h0M1071.1 993.7h0M1108.6 839.9h0M869.9 1134.3h0M850.1 1140.5h0M1055.6 873.2h0M991.8 967.3h0M1050.4 914.4h0M1159.5 732.4h0M878.9 804.3h0M685.7 1020.5h0M1223.4 1023.9h0M902.7 1119.0h0M1025.1 914.1h0M1047.0 948.6h0M933.2 1202.5h0M1037.7 1196.5h0M1033.5 1197.0h0M868.0 759.6h0M710.4 929.8h0M1105.6 822.2h0M1255.3 735.7h0M868.9 881.5h0M1496.0 507.7h0M1242.3 523.0h0M1075.5 872.2h0M1205.5 675.1h0M1117.2 797.7h0M1114.9 879.2h0M887.2 1149.3h0M1283.2 395.7h0M1001.8 832.4h0M818.4 792.2h0M732.8 1065.4h0M1172.1 846.6h0M984.1 1212.0h0M1040.2 832.2h0M869.1 1101.3h0M1229.0 947.6h0M735.2 967.7h0M945.9 963.1h0M1024.9 1077.5h0M981.2 1089.0h0M876.9 1157.3h0M1113.3 863.8h0M978.5 1225.9h0M819.4 1084.3h0M1182.0 727.8h0M976.2 943.2h0M1207.2 827.8h0M1019.6 1105.6h0M1175.0 436.8h0M803.5 1066.1h0M729.5 1097.3h0M1004.8 1061.6h0M890.5 1193.3h0M895.8 746.7h0M1198.5 814.0h0M944.4 1108.5h0M945.7 1169.6h0M949.9 1065.6h0M1238.0 375.8h0M927.1 1232.6h0M947.8 934.9h0M1238.9 542.0h0M958.5 1173.6h0M909.9 1024.0h0M845.9 1117.1h0M995.8 1162.0h0M757.8 1053.9h0M889.3 1143.6h0M1084.6 916.6h0M923.4 803.9h0M687.9 989.9h0M1225.5 1031.8h0M1196.5 1027.0h0M1205.1 955.6h0M1049.7 1020.6h0M1041.5 956.3h0M1228.1 371.1h0M798.6 979.6h0M996.4 1157.1h0M1195.4 832.5h0M860.1 1128.0h0M794.0 882.8h0M972.3 1067.0h0M1064.2 1003.1h0M1075.3 945.8h0M748.9 964.8h0M1243.1 754.9h0M869.9 1092.3h0M937.7 1010.0h0M907.1 1040.7h0M1191.0 429.7h0M1060.6 880.5h0M772.8 1080.4h0M705.6 953.1h0M1261.7 377.4h0M1177.2 446.7h0M1131.3 835.6h0M914.2 916.2h0M1137.1 1093.3h0M817.7 1147.5h0M1156.8 308.7h0M1033.5 1049.4h0M1230.7 384.1h0M740.0 1053.2h0M1124.0 764.5h0M770.2 1049.7h0M1238.3 559.6h0M797.1 836.9h0M1115.4 867.9h0M1062.1 859.6h0M898.3 714.1h0M1003.5 891.0h0M1157.2 1074.6h0M799.2 879.1h0M800.2 955.5h0M963.8 1115.2h0M1059.9 1163.7h0M804.0 1116.0h0M916.5 1230.1h0M1104.2 899.6h0M1177.5 812.6h0M1599.2 706.8h0M1034.6 1112.7h0M950.2 1222.1h0M1060.0 978.0h0M940.3 823.8h0M1178.6 752.6h0M700.5 1044.5h0M961.3 1121.1h0M970.9 941.2h0M1131.5 840.3h0M1198.4 1001.1h0M1011.2 897.2h0M1201.8 788.5h0M1006.1 1185.1h0M903.5 808.2h0M857.2 810.4h0M903.7 827.9h0M760.7 940.4h0M1159.2 1093.6h0M1178.9 980.7h0M1276.8 394.0h0M1019.8 1160.0h0M980.1 907.8h0M1256.7 734.2h0M976.7 1081.1h0M1214.8 794.2h0M1153.6 471.5h0M900.1 1143.7h0M1149.8 798.6h0M957.4 1060.7h0M1202.2 790.7h0M1524.8 568.2h0M1019.5 874.6h0M1122.3 777.5h0M1292.2 341.5h0M857.7 983.2h0M912.6 1196.5h0M1104.7 869.3h0M978.8 1000.4h0M924.6 953.6h0M1193.8 990.6h0M975.7 929.2h0M947.0 1096.1h0M1002.9 878.3h0M1164.4 814.0h0M768.5 1005.0h0M1156.8 841.3h0M875.6 731.5h0M974.0 1195.2h0M1223.4 980.8h0M1132.3 860.2h0M1000.1 805.4h0M930.2 1056.4h0M715.2 1093.6h0M970.4 1221.8h0M775.2 879.6h0M1097.2 1140.7h0M978.8 1098.5h0M1043.9 1068.9h0M969.6 1226.6h0M899.5 1080.4h0M1077.4 948.9h0M788.9 1076.4h0M974.6 1205.1h0M934.5 959.0h0M963.5 944.7h0M916.9 999.9h0M1004.1 1219.0h0M889.0 1089.4h0M743.3 1101.5h0M808.0 987.4h0M1135.5 311.9h0M916.0 814.6h0M1044.5 1122.6h0M1020.2 1049.8h0M801.5 841.8h0M728.6 1018.2h0M1048.2 961.5h0M872.9 1173.3h0M1000.0 857.0h0M1027.4 899.1h0M1000.7 1124.2h0M984.0 1210.8h0M1078.9 936.2h0M760.9 1043.2h0M1027.2 1040.6h0M1193.2 827.5h0M981.8 1177.5h0M902.2 1213.9h0M899.4 1051.3h0M1061.4 984.1h0M906.5 1115.2h0M800.2 958.7h0M970.6 861.2h0M766.9 961.4h0M938.8 1226.5h0M756.5 1001.9h0M1215.6 769.2h0M1129.1 835.9h0M1113.1 781.7h0M872.4 803.7h0M938.7 1185.6h0M1042.8 957.7h0M1189.9 1013.4h0M1099.2 771.8h0M1223.3 373.2h0M1140.5 978.3h0M759.6 1107.8h0M971.7 964.8h0M982.5 1154.8h0M1064.6 887.2h0M691.5 993.8h0M755.9 1028.7h0M1201.0 824.4h0M1023.7 854.4h0M745.5 1089.8h0M1237.5 948.7h0M1147.2 768.6h0M878.0 741.8h0M979.3 1079.2h0M997.8 1073.0h0M1104.8 790.4h0M753.1 963.1h0M900.5 996.5h0M1067.9 885.4h0M1070.4 958.0h0M1185.6 1013.8h0M1019.8 812.1h0M786.4 874.3h0M1005.4 1089.3h0M1034.5 1116.7h0M783.5 1020.3h0M1180.3 1010.0h0M1246.1 755.0h0M1183.5 438.0h0M1081.7 1012.0h0M1199.8 813.9h0M1011.8 850.6h0M1012.0 793.5h0M1141.8 765.5h0M1529.6 522.7h0M803.5 904.8h0M1159.3 819.3h0M963.7 907.6h0M1539.0 515.2h0M698.7 1052.9h0M968.3 719.1h0M758.4 1013.7h0M1101.9 946.9h0M725.8 961.9h0M1233.2 747.2h0M716.8 1025.6h0M785.7 1013.9h0M935.3 958.8h0M841.6 829.4h0M1106.0 814.9h0M1203.2 1043.9h0M750.7 964.9h0M751.4 1048.1h0M861.3 1122.6h0M1015.9 1187.5h0M717.9 1091.1h0M1067.4 944.1h0M1012.9 1139.5h0M928.2 814.3h0M755.8 884.8h0M981.3 731.8h0M816.1 1089.6h0M708.8 973.4h0M871.3 1082.7h0M1074.1 941.0h0M994.8 959.4h0M928.7 1174.6h0M1086.6 936.5h0M1091.1 920.3h0M857.9 1150.8h0M1238.2 944.2h0M718.2 940.2h0M990.6 1206.2h0M946.6 815.0h0M844.4 865.5h0M882.1 1126.2h0M889.2 1085.5h0M1120.7 1106.8h0M707.0 1006.7h0M1212.2 813.2h0M1095.1 876.9h0M1176.9 691.6h0M825.1 1161.1h0M1019.8 1132.7h0M1153.4 842.7h0M1148.9 851.6h0M1170.2 845.7h0M909.5 1129.7h0M715.9 1024.6h0M1159.2 1081.9h0M1166.7 432.1h0M789.0 956.2h0M1298.6 355.4h0M783.9 882.5h0M1232.5 689.4h0M747.9 1097.4h0M870.2 1116.6h0M782.2 943.5h0M1046.7 1127.5h0M958.2 816.0h0M923.0 1082.3h0M823.1 912.5h0M920.1 1068.1h0M1149.8 1052.8h0M915.8 1045.1h0M917.4 1046.0h0M957.6 1181.8h0M796.1 918.9h0M958.9 1114.7h0M1162.0 335.0h0M880.8 791.4h0M1034.4 1087.4h0M1161.7 779.8h0M1055.1 1186.9h0M1237.8 655.5h0M1158.7 1085.3h0M1074.2 910.6h0M990.2 855.5h0M1715.0 895.0h0M979.2 889.3h0M1631.9 693.8h0M1156.3 980.8h0M1603.0 674.2h0M1095.2 923.2h0M1014.6 1186.8h0M857.6 1117.3h0M1175.0 1066.2h0M1183.0 664.0h0M1167.9 811.2h0M948.8 986.9h0M1008.7 1010.3h0M883.1 1056.4h0M1068.7 1029.6h0M1220.0 1012.6h0M1119.1 786.6h0M1036.3 976.8h0M1068.9 1012.1h0M1181.4 846.2h0M915.5 727.8h0M978.0 1088.6h0M1057.5 941.0h0M969.8 1175.0h0M1147.5 312.0h0M1014.5 920.8h0M786.9 877.3h0M1028.3 1038.6h0M892.6 962.3h0M1048.6 1036.2h0M923.1 1176.3h0M893.3 1006.6h0M1114.8 871.5h0M1063.0 920.2h0M1084.4 924.5h0M745.2 1006.1h0M908.2 988.8h0M1178.8 1015.2h0M1030.4 859.3h0M1009.4 1183.1h0M780.3 959.0h0M1211.1 841.9h0M957.6 1073.4h0M822.9 797.4h0M928.4 1077.2h0M921.5 824.2h0M702.3 1091.2h0M959.6 1061.8h0M876.1 801.0h0M1153.3 471.7h0M1041.2 837.1h0M948.1 1047.5h0M919.9 1107.9h0M1170.1 850.9h0M1016.8 922.8h0M841.8 835.2h0M1012.6 1062.9h0M1183.2 858.0h0M700.3 1037.6h0M1013.0 909.7h0M1109.0 809.0h0M858.4 1024.4h0M1107.7 905.8h0M1032.1 861.1h0M861.3 1171.7h0M975.4 786.1h0M781.8 1110.4h0M1507.2 583.4h0M1061.0 864.9h0M758.0 1115.8h0M880.1 1179.5h0M1029.3 908.6h0M881.2 739.0h0M927.9 702.4h0M882.8 1067.4h0M830.6 1133.3h0M996.6 1051.4h0M1135.0 324.2h0M1040.4 953.3h0M989.7 1221.3h0M1215.7 976.1h0M938.5 1111.2h0M827.5 1014.8h0M931.8 797.9h0M962.0 1203.8h0M871.8 801.2h0M1043.1 1118.6h0M719.4 1062.9h0M999.7 757.3h0M1003.1 980.0h0M1085.7 907.8h0M1229.6 767.8h0M894.7 920.4h0M752.3 948.5h0M877.6 1093.8h0M698.8 1040.1h0M898.4 1097.0h0M1001.6 1214.1h0M1069.9 815.5h0M734.0 1067.8h0M979.9 910.8h0M1081.2 865.0h0M1082.5 875.8h0M1198.0 671.5h0M930.3 1209.8h0M1088.5 959.6h0M1050.8 1131.6h0M1107.3 1012.0h0M974.1 826.2h0M1185.3 790.0h0M897.2 1052.6h0M980.5 794.2h0M759.0 1023.6h0M966.8 1120.6h0M936.2 915.9h0M1175.5 713.5h0M774.9 1024.8h0M790.2 888.1h0M1185.9 953.1h0M1017.9 1199.8h0M1185.3 451.7h0M899.7 1153.6h0M1080.2 942.8h0M917.6 1040.5h0M1170.8 831.2h0M945.9 809.1h0M875.2 1072.4h0M903.0 934.9h0M1160.4 731.9h0M1172.2 1063.2h0M956.0 797.1h0M749.2 954.4h0M1067.9 900.1h0M740.9 1074.7h0M1043.8 965.8h0M878.2 745.6h0M992.7 1112.8h0M794.5 1098.1h0M1178.3 769.0h0M1034.8 992.6h0M1046.2 977.3h0M640.0 517.6h0M1148.2 1095.1h0M1275.5 966.9h0M1097.8 918.4h0M862.0 1155.8h0M1594.5 689.1h0M1104.2 1126.6h0M895.4 1211.2h0M769.2 888.4h0M1175.9 691.1h0M1189.4 836.1h0M990.1 1062.2h0M1141.8 758.2h0M1625.4 726.4h0M979.8 969.4h0M1181.0 947.6h0M1235.5 503.1h0M983.2 1091.7h0M747.8 921.2h0M1004.0 1212.2h0M1034.7 930.3h0M791.1 962.0h0M726.0 976.2h0M1240.3 947.6h0M1021.7 968.4h0M981.4 1210.4h0M1165.4 850.9h0M1200.4 977.2h0M883.4 870.9h0M940.9 1062.5h0M1214.7 950.1h0M1151.1 1102.5h0M743.4 889.2h0M1242.2 511.5h0M1023.8 1056.3h0M845.3 753.7h0M1244.4 482.9h0M966.4 1186.1h0M1196.7 808.7h0M915.4 712.2h0M1208.6 992.0h0M782.7 946.6h0M1018.2 1022.6h0M886.2 1110.5h0M859.0 808.6h0M1172.3 1073.2h0M987.2 1008.1h0M730.5 947.6h0M1020.8 862.2h0M1012.1 855.0h0M1198.3 953.0h0M797.9 850.2h0M750.8 978.6h0M1114.3 1028.3h0M938.7 1063.8h0M855.9 1129.0h0M1046.5 912.3h0M1482.5 519.5h0M775.8 1105.1h0M969.5 1076.8h0M911.1 800.5h0M1519.1 557.5h0M847.9 1157.4h0M927.9 1002.6h0M931.4 1110.7h0M709.4 972.2h0M1218.8 782.6h0M1187.1 989.3h0M915.1 1065.3h0M1500.8 511.4h0M1128.1 1119.8h0M1064.8 929.6h0M1228.6 673.7h0M816.7 801.1h0M982.0 1122.8h0M1014.2 1202.0h0M1320.7 662.9h0M950.8 1217.5h0M953.0 1170.0h0M1010.8 819.3h0M1000.7 957.4h0M866.7 1174.6h0M780.5 909.3h0M912.1 1106.6h0M706.4 1030.0h0M756.0 1003.0h0M906.8 1101.2h0M738.0 1069.9h0M720.4 1106.2h0M1115.5 897.7h0M788.5 970.1h0M725.4 1075.2h0M726.8 961.3h0M1068.0 918.2h0M977.2 1029.6h0M963.2 712.9h0M1240.9 559.3h0M1045.5 826.2h0M1181.9 976.9h0M944.4 978.3h0M1183.9 466.7h0M1192.7 973.1h0M1163.2 1096.7h0M985.1 996.8h0M1181.4 1064.4h0M956.1 1176.6h0M880.0 1079.1h0M1208.4 1061.7h0M1077.0 939.6h0M1076.4 815.3h0M915.0 1182.4h0M861.3 790.6h0M734.9 1095.8h0M1009.8 1093.9h0M1506.3 560.0h0M947.0 1113.0h0M1031.3 922.9h0M982.5 1198.0h0M1173.9 687.5h0M984.9 1047.9h0M719.8 946.6h0M972.3 940.7h0M1262.7 472.0h0M1640.3 725.5h0M869.1 1110.3h0M1239.9 759.4h0M1075.6 942.6h0M1145.5 734.3h0M1533.4 546.0h0M1060.5 888.4h0M1060.4 941.9h0M955.0 1116.6h0M1149.2 817.8h0M797.0 1084.0h0M991.6 1157.6h0M735.3 1051.5h0M830.0 788.1h0M1134.7 966.8h0M796.5 964.4h0M779.6 1034.2h0M956.6 1096.3h0M697.3 1036.1h0M1103.7 874.9h0M833.9 800.0h0M1203.5 760.2h0M979.8 1158.2h0M799.8 1094.6h0M831.6 796.8h0M1015.5 905.5h0M863.0 823.7h0M918.6 1137.1h0M940.5 1132.3h0M697.9 1015.4h0M1276.5 385.3h0M988.1 1157.0h0M1176.5 1010.0h0M1026.9 1146.7h0M1227.3 936.7h0M703.3 986.2h0M942.5 1228.9h0M739.6 955.1h0M1016.2 1183.9h0M1061.1 932.5h0M1033.7 939.9h0M1090.8 909.4h0M931.3 1184.6h0M1054.1 899.1h0M795.8 991.2h0M1634.7 698.4h0M1035.8 1200.6h0M769.8 948.7h0M955.1 846.6h0M1212.1 1000.7h0M1158.1 851.5h0M909.5 1205.6h0M880.2 824.8h0M878.7 1125.8h0M980.0 1088.1h0M753.7 1046.5h0M1072.8 988.2h0M1087.2 956.6h0M987.2 1130.4h0M947.1 1074.4h0M1198.2 857.5h0M1083.1 967.3h0M980.5 1218.2h0M996.5 913.3h0M944.2 1177.0h0M722.1 1067.9h0M1027.7 948.5h0M1028.2 935.5h0M825.6 839.5h0M1008.7 938.8h0M945.3 946.9h0M717.4 945.7h0M847.8 814.1h0M1130.6 766.4h0M1034.1 1103.0h0M1047.5 896.8h0M982.2 1099.3h0M847.7 1112.4h0M1005.4 1117.0h0M1178.5 950.4h0M759.3 1044.5h0M954.0 1176.3h0M988.8 1226.6h0M1028.9 1086.4h0M1004.6 1190.8h0M707.7 932.3h0M1210.1 384.8h0M1240.7 381.2h0M748.9 951.1h0M1239.0 694.2h0M963.4 1179.4h0M1050.2 940.7h0M748.2 956.1h0M1172.6 1068.4h0M736.1 923.1h0M1174.0 473.8h0M949.5 976.8h0M1036.4 1063.4h0M770.3 955.8h0M905.7 1018.1h0M1193.0 837.4h0M784.2 922.3h0M873.5 822.4h0M1241.6 817.8h0M1010.6 832.6h0M876.9 746.5h0M906.2 1167.5h0M718.8 1085.0h0M1116.7 1131.9h0M980.7 1183.1h0M1596.4 704.0h0M827.6 895.3h0M708.8 1004.1h0M969.5 997.3h0M1216.0 793.3h0M1141.6 766.6h0M749.1 1056.5h0M898.4 1107.8h0M855.6 833.9h0M1035.0 985.7h0M750.8 1089.1h0M1183.2 1020.9h0M778.6 905.3h0M838.2 817.5h0M1192.0 1053.3h0M1054.6 954.1h0M893.5 940.3h0M1035.4 894.1h0M949.7 940.3h0M651.2 508.8h0M1129.7 778.2h0M847.8 846.6h0M996.2 1082.8h0M856.9 1170.9h0M1170.0 754.6h0M726.9 1038.7h0M952.8 1028.0h0M1054.9 905.6h0M712.7 1074.5h0M995.9 802.2h0M1219.3 949.6h0M1012.5 1165.8h0M784.9 1017.5h0M1016.8 1067.9h0M941.2 1120.3h0M829.5 1130.7h0M710.3 984.5h0M1176.7 697.8h0M758.2 967.3h0M1217.0 925.7h0M1044.7 947.5h0M951.3 719.5h0M994.2 1100.9h0M938.9 707.4h0M967.0 1142.6h0M1140.8 735.2h0M917.2 1033.6h0M923.1 981.0h0M1052.9 1012.3h0M798.6 884.5h0M1273.6 396.0h0M938.4 1210.5h0M884.0 1044.8h0M1191.5 1027.5h0M1079.7 950.0h0M705.0 986.4h0M719.7 1032.6h0M785.7 1057.6h0M940.1 1087.7h0M940.6 1052.6h0M1184.9 946.4h0M1089.4 855.4h0M818.1 1041.9h0M1244.4 362.1h0M1165.8 831.1h0M1040.3 1130.4h0M771.9 1033.0h0M1245.6 693.4h0M787.2 870.3h0M1057.9 1188.5h0M1144.5 995.5h0M920.0 708.5h0M885.2 922.0h0M995.3 755.7h0M907.7 878.4h0M1186.5 462.8h0M1069.8 947.3h0M992.8 969.0h0M1069.4 1008.4h0M922.2 1224.4h0M794.7 926.5h0M686.5 1010.3h0M943.9 1089.8h0M975.0 773.5h0M991.4 872.2h0M979.2 1062.0h0M1110.9 795.0h0M1024.5 1026.5h0M1539.0 543.2h0M1151.4 1077.1h0M851.4 826.0h0M952.6 1078.1h0M881.7 910.6h0M1062.9 1017.6h0M826.5 859.2h0M921.1 1115.0h0M1048.2 968.4h0M981.7 1113.7h0M790.7 844.3h0M983.5 1147.9h0M815.1 1110.3h0M957.1 1126.2h0M930.5 1201.8h0M759.5 934.3h0M919.9 1075.7h0M1235.0 776.6h0M734.6 918.9h0M1101.7 933.0h0M1022.4 1130.8h0M791.1 853.0h0M966.8 1161.4h0M871.3 1134.6h0M903.1 980.1h0M1226.4 966.0h0M1109.1 885.8h0M1070.7 874.8h0M710.7 955.3h0M964.3 1143.6h0M1060.6 910.9h0M957.2 1162.7h0M830.7 798.0h0M764.9 993.2h0M868.8 1152.7h0M717.5 1032.3h0M776.9 1036.3h0M907.0 990.4h0M765.6 1021.7h0M1147.6 1096.3h0M716.2 927.5h0M915.0 986.9h0M849.7 1163.2h0M1006.9 1145.9h0M1068.1 966.0h0M920.3 1175.3h0M1224.2 781.3h0M1274.8 338.1h0M781.2 1026.1h0M808.9 1086.4h0M820.2 1143.2h0M910.3 1109.1h0M888.7 1071.8h0M877.3 1180.8h0M1054.2 896.7h0M1230.3 1031.6h0M1045.1 1021.2h0M992.7 1170.5h0M903.9 707.2h0M861.4 958.7h0M906.5 797.4h0M966.2 1101.3h0M1026.6 808.7h0M1049.5 836.5h0M915.9 952.6h0M982.1 1037.0h0M898.1 954.0h0M762.7 923.9h0M1251.6 793.3h0M1248.1 497.2h0M910.2 914.5h0M1039.9 1021.7h0M955.7 925.7h0M1008.2 1190.2h0M834.2 860.9h0M886.0 939.6h0M1159.1 734.3h0M725.2 1065.4h0M912.0 804.8h0M1081.3 982.7h0M1183.4 665.4h0M781.5 1002.7h0M1196.9 406.4h0M769.1 885.9h0M741.8 1033.7h0M1035.4 873.3h0M1184.5 1041.8h0M1201.9 975.2h0M1190.8 473.0h0M1187.0 753.2h0M1181.0 1057.2h0M986.1 1075.0h0M1722.0 832.5h0M938.2 816.7h0M1524.2 561.8h0M1041.8 1147.2h0M1159.1 829.5h0M989.1 1139.2h0M884.9 748.7h0M894.8 1205.6h0M994.3 1121.8h0M1208.1 962.3h0M1293.4 369.9h0M1217.4 406.3h0M1098.0 1100.7h0M684.7 1034.4h0M1016.4 1098.8h0M1131.2 980.7h0M817.5 915.4h0M1240.4 520.8h0M919.8 1114.8h0M1181.9 1030.9h0M890.2 723.0h0M922.7 728.3h0M1091.7 885.9h0M947.8 1134.8h0M716.9 1043.5h0M1050.0 1142.4h0M894.3 817.7h0M1015.5 807.3h0M969.7 862.4h0M1001.4 1166.0h0M1014.8 812.6h0M1236.6 780.3h0M877.6 751.3h0M1090.9 863.8h0M1220.2 836.2h0M785.7 895.8h0M1016.7 932.4h0M1008.4 1173.7h0M820.8 839.2h0M1548.3 542.3h0M846.4 1022.1h0M690.2 968.9h0M714.7 1020.7h0M1027.9 1062.8h0M1172.3 835.6h0M841.5 1131.0h0M813.6 984.0h0M1210.0 921.0h0M1039.3 917.6h0M1165.8 835.0h0M1075.8 917.4h0M1158.6 975.7h0M869.6 1156.5h0M1031.3 1194.8h0M1079.0 954.0h0M1013.5 1194.0h0M881.7 1068.5h0M880.1 1174.7h0M1035.3 1127.0h0M724.9 1040.7h0M763.2 1011.3h0M1017.7 1031.3h0M720.2 1016.4h0M777.6 928.6h0M1040.9 918.0h0M644.8 508.0h0M1182.8 740.6h0M1051.7 1073.6h0M1086.9 869.0h0M755.7 897.1h0M1150.3 736.0h0M862.5 1134.6h0M1142.2 847.5h0M924.4 1201.1h0M947.7 981.0h0M1085.9 959.1h0M1091.0 1009.7h0M978.0 733.8h0M1164.3 972.8h0M1046.1 1059.4h0M1058.2 892.5h0M1145.9 814.2h0M689.6 1005.8h0M919.4 709.6h0M988.8 1219.8h0M1269.1 969.7h0M729.0 963.6h0M1029.3 1082.8h0M1258.2 398.4h0M1129.7 763.4h0M995.8 980.6h0M1023.5 1042.9h0M814.0 927.1h0M1112.3 816.5h0M904.6 994.1h0M1499.8 549.8h0M787.3 1062.0h0M1069.0 919.9h0M914.7 964.7h0M954.5 718.8h0M1207.2 842.0h0M813.4 878.5h0M996.2 1005.7h0M1222.2 790.5h0M1020.3 939.9h0M1102.7 1086.7h0M1025.7 1100.6h0M761.0 885.7h0M985.3 1172.0h0M1007.8 998.7h0M1169.2 983.1h0M989.0 1216.3h0M943.4 1181.6h0M898.7 1137.9h0M1189.3 673.8h0M1051.2 1052.2h0M912.7 954.2h0M1008.0 900.2h0M1041.7 1116.9h0M869.1 748.7h0M882.8 1080.1h0M1062.2 871.4h0M751.9 911.3h0M744.4 1074.8h0M766.3 1067.6h0M855.0 835.3h0M975.2 947.6h0M1178.1 441.7h0M1091.7 940.4h0M1181.2 682.0h0M788.1 987.1h0M919.4 1138.7h0M696.0 1061.4h0M1135.6 846.6h0M1108.1 874.5h0M820.1 838.8h0M944.6 1218.8h0M1529.0 566.3h0M1071.8 938.6h0M861.5 1120.2h0M1125.2 968.0h0M1232.8 944.5h0M864.9 999.8h0M740.6 1088.8h0M868.0 1138.3h0M977.8 985.1h0M1160.5 1029.9h0M1239.0 784.8h0M748.1 891.5h0M769.2 1053.1h0M1202.8 369.2h0M983.1 791.8h0M876.1 1196.0h0M1153.3 1094.9h0M889.6 790.0h0M727.7 1083.9h0M636.0 520.0h0M948.0 1112.7h0M792.4 948.0h0M1197.1 981.6h0M826.8 1122.2h0M899.3 796.3h0M1707.0 833.0h0M901.1 747.3h0M809.7 985.9h0M739.1 1094.2h0M1029.0 924.8h0M872.7 1086.8h0M1020.6 1226.5h0M1040.5 1044.2h0M981.8 1095.2h0M1532.4 536.7h0M989.5 740.7h0M1577.7 630.3h0M1007.7 943.8h0M947.0 1188.9h0M1024.5 909.8h0M1023.9 834.3h0M822.1 1105.5h0M869.9 779.5h0M885.6 1018.5h0M1149.5 847.1h0M1182.4 1061.4h0M986.2 952.4h0M816.0 1148.7h0M1109.2 781.5h0M1222.0 686.4h0M889.2 1199.6h0M1005.6 823.2h0M1064.3 918.9h0M776.2 945.6h0M1081.2 910.5h0M725.6 919.5h0M825.4 954.3h0M924.2 916.0h0M1493.3 508.9h0M773.5 1031.3h0M729.9 914.0h0M1033.7 805.6h0M868.2 839.4h0M1071.1 1035.4h0M860.4 742.7h0M1220.9 982.2h0M885.6 1098.2h0M1236.3 542.8h0M1033.2 821.5h0M892.5 1008.8h0M941.2 1029.0h0M751.2 955.1h0M753.5 1067.1h0M938.7 980.0h0M837.9 987.1h0M1161.6 1082.9h0M959.4 814.5h0M685.1 1019.1h0M718.1 1075.4h0M1073.3 903.8h0M952.2 935.4h0M1116.1 900.6h0M1133.6 834.8h0M1062.8 911.1h0M1240.0 541.5h0M997.6 1211.6h0M1284.1 338.0h0M1116.4 859.9h0M1070.5 1004.8h0M731.3 1044.6h0M621.6 506.4h0M1605.8 711.5h0M1052.2 1014.6h0M1000.3 1078.4h0M802.1 920.4h0M745.6 1009.3h0M975.6 1069.2h0M845.8 757.0h0M974.1 1139.8h0M951.3 1227.4h0M1166.2 734.0h0M698.9 1048.0h0M1213.2 369.8h0M1030.7 965.1h0M934.5 932.8h0M1142.7 781.1h0M1246.0 536.9h0M1238.6 956.5h0M872.3 729.0h0M850.3 748.3h0M797.0 955.1h0M989.3 989.7h0M1112.6 781.2h0M1191.2 740.6h0M1048.5 918.4h0M1010.9 1150.1h0M761.4 921.9h0M1185.1 747.7h0M895.4 1211.3h0M822.3 836.5h0M922.6 1135.7h0M1026.2 807.1h0M1008.1 847.9h0M1008.7 1118.9h0M1185.8 1024.2h0M1233.2 787.0h0M780.0 1089.0h0M1234.3 958.0h0M857.5 834.3h0M911.4 1027.6h0M953.6 812.5h0M761.0 903.8h0M1081.2 927.6h0M904.0 1061.3h0M1235.6 688.7h0M1608.6 656.4h0M1065.8 954.6h0M985.8 926.9h0M1108.9 920.4h0M1037.1 1193.0h0M1103.1 1045.5h0M1061.5 945.0h0M794.1 1084.4h0M892.6 1185.6h0M1230.8 762.2h0M978.1 1117.2h0M996.7 1227.0h0M887.3 789.4h0M1013.4 990.5h0M1241.5 766.3h0M1045.6 1066.8h0M896.7 1029.1h0M895.4 1203.4h0M856.2 967.0h0M860.0 1070.8h0M945.8 1141.5h0M882.4 1102.5h0M973.3 1143.7h0M966.8 1164.4h0M1039.2 1094.1h0M935.7 943.1h0M1276.8 475.2h0M1209.6 979.1h0M973.9 1002.8h0M991.2 1067.8h0M989.4 1096.1h0M725.4 1015.6h0M1193.5 426.9h0M841.2 1128.6h0M903.7 798.1h0M866.8 890.8h0M888.9 1082.2h0M1018.5 1202.0h0M1008.3 1150.8h0M864.9 831.9h0M893.7 990.3h0M1133.8 1046.8h0M1256.2 809.5h0M912.5 1158.5h0M939.0 894.2h0M1048.3 850.6h0M1022.3 892.0h0M720.2 973.9h0M1034.1 979.6h0M1176.2 1081.5h0M1182.4 947.0h0M1029.2 813.6h0M1056.9 886.4h0M1028.9 794.5h0M1213.8 1041.7h0M1062.8 1048.2h0M890.1 814.0h0M702.4 1023.5h0M868.5 1142.0h0M823.6 800.7h0M946.9 809.4h0M772.4 1098.9h0M753.3 967.5h0M922.0 1122.4h0M880.0 1123.5h0M877.2 819.9h0M1499.4 531.5h0M1118.4 989.5h0M943.7 1180.5h0M951.4 1117.3h0M1103.5 1133.1h0M873.4 1109.0h0M923.7 1064.0h0M952.9 949.5h0M1067.4 816.7h0M1057.9 806.0h0M1190.5 856.0h0M994.8 1033.5h0M943.5 1011.9h0M1207.6 1012.6h0M893.5 753.5h0M830.3 867.3h0M912.8 724.2h0M979.5 1154.5h0M1023.8 1069.7h0M976.1 910.1h0M1003.3 840.7h0M1059.8 975.6h0M998.3 1114.4h0M1000.2 1065.5h0M964.0 1100.6h0M944.9 942.8h0M866.5 1130.0h0M1150.3 848.5h0M1202.1 1050.1h0M1259.8 963.9h0M710.2 1034.9h0M929.0 1057.1h0M1204.4 394.4h0M1221.7 754.5h0M953.7 796.1h0M909.7 1083.9h0M726.5 915.6h0M1244.6 515.8h0M1488.6 586.2h0M862.0 831.9h0M712.6 1021.4h0M896.7 1036.1h0M839.1 1027.2h0M938.8 984.6h0M928.6 1010.7h0M994.9 1151.0h0M1033.0 959.6h0M1039.3 1035.5h0M806.5 1073.1h0M952.6 1230.3h0M948.9 1174.4h0M812.7 1093.8h0M927.7 1224.8h0M744.8 1085.5h0M1013.4 793.2h0M1004.6 983.3h0M1010.6 969.5h0M983.6 1161.4h0M702.4 1072.2h0M690.4 993.7h0M1065.5 1046.3h0M882.4 1080.6h0M924.8 853.3h0M903.2 1132.8h0M716.6 944.0h0M1204.7 791.5h0M949.6 1099.9h0M870.4 815.2h0M1019.8 793.2h0M685.3 1031.0h0M1036.5 954.1h0M890.4 836.1h0M1234.3 547.4h0M1126.4 321.7h0M1011.3 1155.4h0M1214.9 1031.9h0M708.5 1015.3h0M774.9 991.9h0M1126.3 787.7h0M917.0 1137.2h0M963.3 1213.3h0M1064.6 841.1h0M894.7 769.4h0M712.8 1058.5h0M983.6 882.1h0M888.5 962.6h0M849.8 988.3h0M1078.8 926.0h0M974.0 1004.1h0M769.3 1041.9h0M765.8 945.5h0M1065.7 919.9h0M1716.0 900.0h0M1180.3 834.5h0M1226.5 785.9h0M646.4 515.2h0M1233.2 754.6h0M1057.5 925.2h0M1165.8 798.1h0M985.3 1015.8h0M1028.1 810.2h0M1021.9 996.6h0M1027.7 911.4h0M1060.9 1010.4h0M1171.7 429.8h0M1208.3 770.6h0M984.9 1105.9h0M1262.5 473.7h0M993.3 910.2h0M689.4 1007.8h0M873.4 801.0h0M948.2 1199.4h0M1067.7 1007.0h0M937.1 1132.0h0M750.5 889.4h0M1191.2 837.8h0M1006.0 1227.4h0M801.6 877.4h0M1062.6 832.5h0M861.2 894.4h0M858.8 1108.3h0M906.1 1123.3h0M1139.2 331.6h0M877.8 753.6h0M1223.9 836.8h0M1204.3 986.9h0M926.9 1191.1h0M1533.4 530.1h0M977.7 1033.7h0M982.1 1128.6h0M1121.6 1124.8h0M1071.1 823.0h0M1477.3 585.2h0M1216.6 941.4h0M1198.0 822.6h0M947.8 1114.8h0M1060.2 1048.0h0M871.6 1098.3h0M1035.2 811.4h0M1156.5 1078.8h0M1525.9 571.0h0M1092.3 922.1h0M820.6 873.2h0M1019.7 903.8h0M1063.6 950.0h0M1084.5 941.1h0M1058.4 820.2h0M1010.5 1109.4h0M990.9 1029.0h0M831.6 859.2h0M711.3 1052.0h0M1118.2 760.8h0M1152.5 1089.0h0M1024.0 1208.9h0M1179.8 1059.1h0M1178.3 1058.3h0M1180.1 678.5h0M723.6 1047.5h0M1156.3 974.2h0M831.0 949.4h0M1201.1 971.0h0M1173.9 841.1h0M855.9 874.8h0M912.8 815.8h0M922.3 864.1h0M889.3 1194.1h0M970.2 1202.6h0M999.3 920.0h0M773.0 1084.5h0M856.5 1085.4h0M1043.0 944.5h0M966.2 1090.0h0M1002.7 1010.1h0M1207.1 943.7h0M743.7 978.1h0M1055.6 1014.9h0M839.1 1114.4h0M928.1 944.1h0M916.4 1066.8h0M991.3 970.5h0M927.3 939.2h0M828.4 1133.7h0M1036.0 850.8h0M786.0 999.1h0M1055.7 954.5h0M713.1 1006.5h0M971.8 1104.6h0M922.5 1200.1h0M769.2 961.5h0M1277.1 437.6h0M838.6 1006.2h0M722.4 1026.4h0M1009.4 1119.3h0M1195.8 991.7h0M780.8 931.6h0M994.1 1061.5h0M801.9 831.5h0M1128.1 1103.6h0M937.5 989.4h0M868.2 1157.6h0M958.0 829.1h0M1026.0 1104.4h0M1003.6 969.2h0M1242.8 752.3h0M726.4 1041.5h0M823.1 1080.8h0M1031.8 952.7h0M1024.3 950.1h0M844.5 1141.7h0M1097.4 777.3h0M773.0 943.3h0M1086.9 914.1h0M836.8 827.2h0M700.3 1061.1h0M1049.3 1018.4h0M959.0 1227.2h0M1057.4 863.0h0M901.4 1112.0h0M877.0 956.2h0M926.3 912.2h0M1237.0 672.1h0M984.1 913.4h0M1221.5 404.1h0M1210.3 1059.4h0M1075.2 999.5h0M1085.2 860.5h0M711.0 1006.1h0M1051.3 806.4h0M814.1 942.8h0M908.4 1196.0h0M1025.8 902.9h0M796.4 930.6h0M931.0 1015.1h0M1064.1 1025.7h0M1021.2 857.6h0M761.3 881.0h0M673.6 566.4h0M925.0 1027.7h0M961.4 947.1h0M789.3 965.2h0M1243.6 519.1h0M795.9 863.9h0M1071.4 997.3h0M817.1 862.1h0M897.8 814.9h0M792.7 1074.6h0M1000.1 851.2h0M1098.5 943.7h0M1187.8 1042.9h0M712.6 1097.6h0M1064.8 847.0h0M785.2 921.6h0M834.5 803.8h0M1082.0 927.7h0M1291.3 363.8h0M1096.8 938.3h0M1129.0 836.0h0M1243.2 561.6h0M919.1 935.9h0M976.2 1190.4h0M979.6 1061.2h0M982.5 1069.9h0M951.3 1157.7h0M875.4 1172.6h0M808.3 990.8h0M1206.2 447.2h0M904.8 944.3h0M1190.4 1016.5h0M1206.1 950.6h0M858.7 1180.1h0M811.1 996.2h0M876.9 1127.8h0M966.4 797.5h0M1032.4 1212.4h0M943.9 936.1h0M1061.6 936.4h0M956.5 1106.6h0M1250.0 795.9h0M1265.9 373.8h0M1068.9 1013.6h0M882.4 754.5h0M1153.8 1053.5h0M1035.2 1064.3h0M1049.7 938.7h0M914.8 1048.1h0M854.9 1179.7h0M940.5 938.6h0M872.1 890.6h0M1073.5 1021.9h0M1038.7 911.8h0M942.4 1163.9h0M1011.1 1116.1h0M754.9 1055.4h0M702.4 1028.2h0M811.2 893.4h0M789.3 1101.0h0M847.9 1166.5h0M770.1 946.6h0M936.6 1199.9h0M1207.6 780.8h0M880.7 987.2h0M828.7 818.6h0M1008.0 1173.7h0M1015.4 812.7h0M886.2 1171.7h0M1137.0 779.9h0M895.9 1171.6h0M1209.5 826.9h0M1050.8 1163.0h0M735.7 1045.6h0M1168.2 733.1h0M897.1 910.8h0M1167.6 851.3h0M1107.3 1030.7h0M1231.4 324.5h0M715.5 1013.9h0M1043.9 911.0h0M1071.9 942.7h0M854.9 778.9h0M845.9 756.7h0M1052.8 963.3h0M733.9 930.6h0M1071.7 976.9h0M782.0 1121.3h0M1063.1 1004.7h0M1015.2 963.8h0M792.4 833.9h0M1170.1 846.9h0M945.6 1101.5h0M731.5 1078.6h0M1033.9 1023.2h0M1027.1 1220.0h0M1057.0 924.9h0M1195.4 986.9h0M1047.0 1028.5h0M1075.8 934.9h0M799.6 935.5h0M1050.5 966.4h0M1027.7 1045.7h0M820.7 836.9h0M1135.3 842.5h0M780.0 1096.5h0M862.6 944.7h0M1090.1 868.7h0M1038.7 1181.6h0M1054.7 861.8h0M876.1 1112.0h0M1057.9 911.1h0M934.4 1009.9h0M997.6 1029.4h0M714.6 1100.1h0M814.3 982.3h0M1158.0 1087.3h0M1019.3 805.3h0M874.0 1088.7h0M991.9 864.3h0M859.8 792.3h0M896.1 998.2h0M1059.1 970.2h0M748.6 956.4h0M1033.2 1170.0h0M1184.1 963.3h0M768.1 917.7h0M763.2 947.4h0M743.2 993.8h0M1258.8 724.6h0M1179.2 735.1h0M849.8 861.4h0M976.2 1156.5h0M913.3 1061.9h0M1246.1 762.1h0M772.2 925.8h0M993.1 1008.8h0M1040.4 892.9h0M937.3 825.0h0M886.5 1200.6h0M1045.8 918.8h0M926.9 1101.1h0M1206.1 1001.6h0M1227.7 677.3h0M1052.6 980.9h0M906.8 1003.7h0M868.3 1184.4h0M710.6 1103.8h0M831.1 1156.2h0M920.1 1113.2h0M1218.1 814.0h0M924.2 953.1h0M1021.0 886.2h0M909.5 732.3h0M1260.9 715.5h0M1201.0 424.4h0M784.4 960.6h0M1241.5 769.3h0M1068.2 931.1h0M984.5 1140.8h0M809.9 869.5h0M1025.3 941.9h0M876.8 1138.7h0M950.1 1087.3h0M1207.8 826.5h0M1217.3 783.2h0M901.9 1022.8h0M720.3 959.8h0M1043.6 1050.2h0M751.2 938.3h0M635.2 561.6h0M1024.8 805.3h0M991.3 1051.1h0M1185.9 661.5h0M869.3 1175.2h0M1003.6 1031.1h0M849.1 1083.2h0M940.3 945.0h0M1035.9 1034.0h0M1034.2 933.5h0M1189.4 734.0h0M1218.1 1023.1h0M818.9 1081.7h0M1053.6 982.4h0M1005.2 773.7h0M948.4 927.9h0M717.1 1056.7h0M900.1 1158.2h0M906.3 851.6h0M923.6 816.1h0M725.9 955.2h0M1244.0 354.5h0M1166.4 1082.2h0M922.5 1077.1h0M1085.2 922.5h0M889.1 1093.9h0M731.1 1048.9h0M1158.6 847.9h0M1708.0 903.0h0M786.0 1117.6h0M1090.9 926.1h0M915.2 965.7h0M1273.0 965.9h0M745.4 950.1h0M915.0 775.3h0M1131.3 784.3h0M934.5 1060.4h0M1125.4 316.4h0M940.0 1206.6h0M898.0 910.9h0M1105.0 1105.3h0M914.4 1206.9h0M886.4 1071.7h0M1073.6 856.4h0M1136.3 837.2h0M857.0 970.9h0M1037.5 884.2h0M774.2 939.9h0M1274.2 329.7h0M1080.9 858.8h0M611.2 521.6h0M1050.0 862.7h0M1026.3 1199.7h0M992.1 1191.8h0M705.1 971.6h0M1517.5 519.9h0M867.1 1141.8h0M777.5 1096.6h0M1254.4 355.3h0M809.0 817.3h0M1026.0 1047.2h0M1241.4 558.5h0M829.2 808.9h0M772.9 1107.2h0M948.9 1226.6h0M925.5 795.5h0M992.2 1056.7h0M1093.9 965.4h0M886.6 794.7h0M817.0 845.5h0M1030.0 822.2h0M1011.3 829.2h0M899.4 1043.1h0M887.5 1001.6h0M945.5 1159.9h0M1207.6 771.6h0M1056.2 954.7h0M1208.4 826.9h0M1111.7 885.6h0M885.8 961.7h0M966.8 870.2h0M1137.3 767.1h0M1112.4 893.9h0M1009.7 848.4h0M984.9 964.7h0M1041.5 985.8h0M1019.2 933.2h0M934.1 1210.5h0M1239.8 750.9h0M1113.3 774.4h0M877.1 1089.9h0M733.7 1085.1h0M985.7 960.7h0M985.5 948.2h0M708.9 1023.0h0M1593.6 707.8h0M902.1 742.8h0M951.1 1064.9h0M888.6 1191.0h0M779.8 1034.2h0M992.8 901.5h0M1211.4 785.9h0M978.9 1205.7h0M800.7 902.7h0M1077.9 985.1h0M959.0 714.7h0M1069.5 903.9h0M1059.2 828.8h0M754.8 1095.0h0M1185.4 855.4h0M1011.8 985.1h0M966.7 1002.1h0M741.4 1018.9h0M1173.1 691.4h0M778.3 941.7h0M1165.5 1066.9h0M984.7 1070.9h0M1038.5 979.4h0M745.9 1085.2h0M1162.2 450.3h0M709.2 982.9h0M1180.3 781.9h0M836.8 923.4h0M1113.1 867.1h0M1005.9 950.0h0M1190.2 988.0h0M782.9 931.1h0M632.8 527.2h0M996.7 1120.1h0M1020.1 994.9h0M1012.1 1174.6h0M893.6 1005.4h0M893.3 1183.8h0M907.7 1016.7h0M1208.3 1055.4h0M716.8 1080.0h0M884.2 1140.1h0M1011.2 979.0h0M863.3 1091.2h0M1002.9 1124.8h0M1184.0 396.4h0M909.0 951.8h0M775.9 1085.3h0M733.2 975.1h0M789.4 966.5h0M1200.8 857.2h0M1050.8 1041.5h0M1018.0 1019.4h0M1054.3 977.0h0M802.6 792.0h0M795.7 981.7h0M1205.7 767.4h0M886.9 1103.2h0M921.7 984.2h0M904.8 943.2h0M866.7 840.0h0M989.1 1199.3h0M977.9 991.6h0M891.9 1143.5h0M948.3 1093.6h0M757.6 891.4h0M1025.3 798.4h0M760.7 1022.3h0M1176.9 1040.1h0M1029.0 851.8h0M891.6 1180.6h0M1014.8 872.5h0M1167.2 984.8h0M1065.2 844.6h0M779.6 962.6h0M919.1 1096.5h0M778.7 957.4h0M975.4 919.8h0M766.3 998.0h0M838.5 798.4h0M1110.5 902.2h0M1166.9 1071.8h0M1140.0 1070.3h0M1227.5 965.7h0M1182.3 736.8h0M1036.5 1060.7h0M1032.8 897.9h0M1177.0 1056.8h0M805.4 994.8h0M1045.5 1096.0h0M1285.1 461.6h0M818.5 1141.3h0M1065.1 909.2h0M968.9 799.7h0M1032.5 800.6h0M1005.1 777.7h0M1203.0 815.2h0M1246.0 535.0h0M919.7 1093.5h0M1123.2 798.3h0M940.4 1054.9h0M1029.1 1014.8h0M1024.7 941.9h0M764.3 990.5h0M1066.2 905.3h0M835.1 901.3h0M744.5 965.4h0M989.9 1084.4h0M1263.9 964.6h0M890.9 1201.5h0M1031.1 910.9h0M1054.4 1172.9h0M1035.8 1064.9h0M819.6 790.6h0M1010.8 1041.6h0M1704.0 907.0h0M1023.3 1056.7h0M1067.4 942.5h0M954.1 1077.4h0M1064.2 940.0h0M1132.8 1099.9h0M975.4 925.4h0M1244.8 952.5h0M758.6 911.7h0M802.6 986.0h0M798.4 914.9h0M1234.3 686.9h0M767.4 1104.5h0M989.6 1039.4h0M1285.9 328.3h0M1094.8 892.5h0M826.8 1014.8h0M1174.3 824.1h0M961.7 956.0h0M1188.2 1060.7h0M1148.6 330.6h0M955.0 1012.9h0M1023.5 1089.1h0M1211.5 417.9h0M1011.4 947.2h0M1165.0 1093.4h0M851.6 862.0h0M927.9 1107.2h0M619.2 536.0h0M907.4 1056.3h0M832.7 799.9h0M1271.2 471.2h0M785.8 963.5h0M1041.4 951.1h0M1144.9 762.6h0M922.2 971.2h0M999.5 807.5h0M1040.3 1020.8h0M947.0 1218.7h0M1102.6 901.1h0M864.2 1043.8h0M741.3 1026.2h0M1181.8 734.3h0M924.3 1180.3h0M820.3 1094.5h0M1177.6 999.7h0M726.4 1084.4h0M1046.9 880.4h0M960.0 1058.1h0M736.6 946.2h0M831.9 1027.7h0M1153.3 847.1h0M1227.5 833.2h0M928.8 872.6h0M1075.3 900.6h0M1006.8 853.9h0M1230.0 668.6h0M977.6 976.4h0M1178.7 1042.4h0M1234.0 765.5h0M851.3 748.6h0M742.6 932.2h0M950.2 803.9h0M1274.7 384.4h0M1015.7 1025.2h0M908.2 774.0h0M997.7 748.5h0M1009.1 1196.0h0M908.0 1040.0h0M899.8 1001.2h0M1287.0 383.4h0M1029.7 936.9h0M1208.6 954.1h0M1259.5 963.1h0M1078.6 946.6h0M1017.5 1012.7h0M1492.1 526.2h0M1247.6 695.5h0M988.8 1232.6h0M1026.0 905.8h0M1111.5 889.7h0M1108.5 1000.3h0M1224.2 670.2h0M894.6 1178.5h0M983.6 1100.4h0M702.6 1005.9h0M1037.8 852.1h0M1590.8 705.0h0M1068.4 819.0h0M879.3 744.7h0M731.7 950.8h0M1061.6 929.4h0M1018.7 1077.5h0M1605.8 691.9h0M789.8 1097.3h0M1172.2 461.1h0M956.7 1209.9h0M834.7 1155.7h0M882.7 730.5h0M1251.6 804.6h0M735.4 1015.2h0M994.3 1092.6h0M883.4 834.4h0M1026.6 934.1h0M1156.9 829.5h0M1017.1 1050.9h0M902.1 1165.6h0M1480.6 518.3h0M963.6 1133.0h0M736.6 1081.7h0M1308.9 354.5h0M1016.0 903.3h0M1022.1 1021.0h0M1237.4 957.1h0M1029.3 1137.3h0M1283.9 456.1h0M704.1 1001.0h0M972.9 866.5h0M952.7 868.2h0M1254.5 483.9h0M987.4 799.0h0M875.7 1084.0h0M1007.4 896.4h0M1184.5 856.2h0M1126.1 330.3h0M1241.3 328.6h0M1033.6 1094.9h0M768.7 950.8h0M1035.0 981.9h0M1114.9 858.2h0M925.6 1161.1h0M846.7 998.8h0M720.5 917.5h0M1006.2 762.1h0M1206.4 421.4h0M1250.2 732.8h0M1241.1 326.3h0M1045.7 953.5h0M1036.3 1024.4h0M864.5 1179.4h0M1092.4 871.4h0M1254.9 722.9h0M935.7 809.3h0M709.3 1067.6h0M902.4 1134.3h0M732.6 979.7h0M860.1 854.2h0M1052.6 956.2h0M1212.6 1042.6h0M1038.2 1024.3h0M1051.1 1116.7h0M973.3 1168.3h0M1235.6 319.2h0M727.5 1045.4h0M887.9 1045.5h0M888.0 736.9h0M808.0 861.4h0M966.3 1182.1h0M1168.8 1059.4h0M1056.9 901.5h0M1250.6 752.0h0M924.2 820.1h0M901.8 1037.9h0M1164.7 968.4h0M1092.6 919.3h0M1048.0 995.3h0M819.4 831.0h0M998.1 1119.6h0M980.8 1123.2h0M1178.8 448.6h0M1213.6 847.8h0M904.0 1047.0h0M924.2 1157.7h0M885.0 721.2h0M849.1 1148.6h0M711.9 1080.5h0M1031.4 1050.2h0M1006.1 981.7h0M1010.4 1147.1h0M1126.9 787.3h0M1300.1 342.6h0M917.2 976.2h0M956.2 926.2h0M1112.4 892.9h0M1184.6 450.1h0M1037.5 977.6h0M803.4 1078.2h0M707.1 986.3h0M1030.1 815.3h0M800.4 817.1h0M1055.2 1162.5h0M785.0 911.0h0M1216.0 1056.9h0M829.2 828.1h0M1206.0 844.9h0M952.5 956.1h0M955.9 1206.9h0M775.5 1109.0h0M1146.7 1097.6h0M885.2 1143.6h0M1595.5 701.2h0M1053.3 926.5h0M916.8 741.0h0M1049.8 916.5h0M918.0 960.4h0M1067.1 918.3h0M964.2 1169.1h0M727.4 927.5h0M1202.0 775.8h0M972.2 935.9h0M1048.1 887.2h0M1078.4 832.1h0M983.4 827.3h0M888.4 745.1h0M948.8 929.1h0M872.0 874.4h0M1180.6 987.7h0M1178.0 846.5h0M1070.4 883.4h0M924.7 989.1h0M866.3 854.8h0M1197.4 344.6h0M1028.9 1087.1h0M938.6 723.6h0M806.7 974.6h0M1003.8 840.6h0M707.0 935.4h0M974.6 1134.5h0M862.3 1003.4h0M704.3 1011.6h0M1192.2 842.1h0M911.8 1129.4h0M996.4 1061.7h0M1011.6 811.6h0M992.7 794.1h0M1158.3 969.6h0M844.1 1146.1h0M1242.6 546.9h0M1114.7 792.8h0M1063.8 1004.3h0M1236.1 545.7h0M1168.1 734.8h0M870.5 898.1h0M1071.8 836.2h0M1065.1 907.8h0M780.6 1062.7h0M893.3 829.7h0M1007.3 1021.1h0M1174.5 696.3h0M1089.8 894.9h0M965.8 1082.0h0M1198.0 649.6h0M925.0 1069.0h0M997.7 872.1h0M1028.7 1040.3h0M915.1 1206.6h0M935.2 721.2h0M1152.1 828.1h0M904.2 702.7h0M913.1 1209.3h0M1008.5 949.8h0M738.0 987.5h0M711.9 1048.1h0M820.7 1055.0h0M1060.9 863.6h0M916.5 1223.2h0M924.2 701.4h0M1238.5 954.9h0M1069.6 876.6h0M806.0 1118.8h0M788.7 1115.4h0M854.8 993.1h0M1234.9 667.4h0M873.3 1147.6h0M1226.4 830.1h0M984.2 1086.7h0M888.1 1079.0h0M726.9 955.4h0M1518.4 548.8h0M907.7 1018.5h0M608.0 524.8h0M1149.1 1011.2h0M913.6 850.5h0M846.8 826.6h0M912.3 1151.2h0M1018.0 1218.8h0M1163.0 1001.4h0M1022.1 895.9h0M1109.5 1038.1h0M970.2 733.7h0M1231.7 756.3h0M1218.8 1021.7h0M1220.9 774.8h0M881.9 854.2h0M612.8 527.2h0M1209.4 970.8h0M1138.9 970.8h0M903.9 700.5h0M886.8 738.0h0M1037.2 1112.7h0M692.8 967.3h0M804.9 815.1h0M1129.5 869.2h0M1213.7 943.8h0M1212.9 829.9h0M1144.9 766.9h0M942.9 1200.5h0M1044.5 1190.2h0M1018.0 822.3h0M717.6 1098.7h0M1254.5 371.8h0M711.6 1059.8h0M1128.7 980.5h0M1077.1 918.4h0M742.7 913.5h0M902.9 1144.3h0M1062.3 886.6h0M839.4 1121.6h0M773.9 990.6h0M959.0 974.0h0M1030.9 894.6h0M959.3 877.3h0M1142.5 318.4h0M804.3 1067.8h0M616.0 523.2h0M753.8 1093.5h0M1126.6 835.0h0M910.9 1048.6h0M944.1 1078.1h0M987.9 1209.7h0M896.1 815.9h0M861.4 958.1h0M1595.5 685.4h0M879.0 1149.1h0M724.5 939.9h0M1006.5 824.1h0M881.9 865.2h0M1060.9 1043.3h0M1034.6 1150.3h0M866.4 1128.3h0M1061.4 1043.7h0M982.0 791.6h0M889.1 975.7h0M713.0 1107.5h0M1034.5 829.7h0M1186.7 953.9h0M803.3 1080.6h0M1014.9 952.1h0M752.7 942.4h0M609.6 529.6h0M924.3 714.9h0M1310.7 352.3h0M1001.7 1049.7h0M785.9 953.7h0M1282.0 402.3h0M1107.7 1123.7h0M1014.6 1188.9h0M849.3 1071.3h0M1190.4 974.0h0M1005.4 1025.8h0M1166.7 831.3h0M906.9 731.8h0M1177.6 675.5h0M989.2 905.4h0M717.8 1101.2h0M1022.5 1118.2h0M1001.7 949.3h0M1055.4 947.0h0M804.4 958.4h0M1181.6 683.7h0M887.5 1041.3h0M1041.5 1073.9h0M742.4 1106.0h0M938.9 1106.3h0M836.4 851.1h0M745.0 937.6h0M1511.9 526.4h0M1187.7 1074.9h0M1198.2 765.0h0M966.7 1003.2h0M1043.9 808.6h0M1201.2 1009.3h0M1210.7 937.7h0M894.9 1016.8h0M925.8 1117.1h0M1060.5 936.0h0M756.7 1098.5h0M1178.2 684.8h0M936.8 917.4h0M1076.2 835.6h0M809.8 890.7h0M854.7 963.0h0M1003.4 1116.0h0M1104.4 783.0h0M775.4 894.0h0M1103.4 834.5h0M940.6 805.4h0M1211.9 1029.1h0M1100.3 1009.7h0M1105.0 780.7h0M1032.7 970.3h0M1087.1 866.2h0M775.4 971.8h0M975.8 1082.2h0M1139.2 742.7h0M812.0 1006.9h0M906.5 795.6h0M736.4 952.4h0M1159.3 967.4h0M834.4 848.7h0M1228.2 954.2h0M1003.6 1025.9h0M1124.7 314.6h0M922.3 927.0h0M1008.8 944.1h0M951.5 992.5h0M866.6 828.2h0M1033.6 1201.6h0M1059.2 918.7h0M910.9 975.6h0M1060.6 914.0h0M1127.7 836.4h0M1104.8 861.5h0M1146.3 812.0h0M1233.4 339.2h0M906.8 1199.4h0M1227.6 668.4h0M1237.0 663.5h0M1086.5 912.1h0M911.1 961.4h0M875.2 1145.4h0M1173.3 966.9h0M975.7 1156.9h0M1286.4 327.0h0M1121.1 330.4h0M894.5 792.4h0M852.6 984.6h0M773.6 947.4h0M849.1 838.2h0M1059.3 926.5h0M699.8 1034.6h0M1181.0 773.5h0M1139.7 792.6h0M1238.1 549.4h0M1091.6 781.8h0M1045.7 1003.7h0M738.5 1073.1h0M1034.8 1030.2h0M928.0 703.1h0M857.7 822.8h0M946.1 828.6h0M881.6 1086.4h0M1225.6 971.7h0M912.2 760.8h0M796.4 968.8h0M1074.2 1012.1h0M725.1 936.5h0M1151.5 816.9h0M1185.2 660.8h0M628.8 520.0h0M936.1 1075.0h0M795.7 896.5h0M816.4 942.6h0M1103.4 775.1h0M1154.3 1010.9h0M1002.2 1102.3h0M845.8 837.8h0M898.6 942.6h0M1124.0 799.0h0M949.9 1101.4h0M1213.0 958.9h0M963.9 1160.5h0M1116.7 1049.3h0M1246.4 752.6h0M1036.1 1192.3h0M901.0 813.8h0M896.2 812.0h0M756.4 903.3h0M1000.0 1087.7h0M761.1 1052.5h0M746.1 883.3h0M1133.7 966.0h0M1038.5 959.1h0M1188.8 834.5h0M747.4 915.1h0M695.0 1031.6h0M1175.6 848.9h0M1170.5 952.5h0M1034.5 1009.1h0M1074.7 946.1h0M963.8 1114.4h0M855.8 1148.2h0M1188.3 663.8h0M1185.7 726.3h0M987.7 752.1h0M1131.9 761.2h0M1037.6 906.5h0M1214.5 1005.1h0M992.1 946.6h0M1458.7 593.6h0M1252.0 489.5h0M939.5 1098.7h0M1060.5 863.8h0M1098.4 862.6h0M1190.9 746.3h0M813.7 911.7h0M1042.3 1115.8h0M1464.3 589.0h0M1212.5 839.5h0M1228.7 675.7h0M869.0 1069.3h0M718.5 1027.6h0M964.7 962.2h0M768.2 1118.2h0M768.2 1021.0h0M883.6 1154.8h0M1211.6 825.5h0M1237.7 692.6h0M1072.2 874.1h0M1052.0 1006.9h0M691.4 967.0h0M1178.4 977.3h0M952.8 904.2h0M904.4 888.7h0M1093.4 853.6h0M900.0 1167.8h0M1030.0 926.9h0M831.7 796.3h0M1036.8 902.3h0M894.6 986.9h0M1123.9 857.6h0M926.3 950.6h0M934.5 969.5h0M865.1 1098.3h0M1019.7 1153.0h0M807.5 865.6h0M1028.9 1139.7h0M938.0 1200.7h0M1154.0 321.3h0M1120.4 757.2h0M1642.2 702.2h0M1017.9 898.6h0M884.4 1082.3h0M741.2 909.5h0M716.3 1101.7h0M1213.1 1033.6h0M741.3 1006.1h0M921.4 814.0h0M1185.5 967.7h0M887.9 1043.8h0M1065.9 981.6h0M696.9 1054.6h0M1060.5 1008.1h0M757.3 1089.1h0M758.0 954.2h0M704.3 947.9h0M776.7 912.6h0M1000.5 922.3h0M1110.6 1121.5h0M1016.3 798.2h0M1077.9 942.6h0M1200.7 783.2h0M883.4 791.3h0M731.5 962.7h0M1121.4 777.8h0M1126.5 1061.7h0M1001.3 1060.6h0M1218.2 1004.6h0M1137.9 971.0h0M872.5 1179.2h0M1209.3 758.1h0M770.9 994.4h0M1014.9 1156.2h0M1239.3 536.8h0M725.7 1085.3h0M1171.5 834.3h0M1187.4 842.5h0M736.9 1033.4h0M1017.9 1197.0h0M1012.8 898.2h0M1221.6 1003.3h0M1080.8 956.9h0M866.5 827.3h0M940.3 1166.4h0M963.5 1169.7h0M976.5 1215.9h0M1150.2 984.7h0M1203.5 426.0h0M895.7 823.8h0M878.8 1092.1h0M628.8 560.0h0M1003.7 758.3h0M1182.4 1053.4h0M891.0 725.3h0M1075.2 860.2h0M986.9 958.8h0M1015.8 795.9h0M1279.2 461.1h0M1275.8 361.2h0M710.9 1084.7h0M706.6 989.8h0M927.2 1187.1h0M997.0 886.2h0M866.5 807.2h0M959.0 1139.6h0M1015.1 1045.3h0M1026.1 812.7h0M1066.8 944.8h0M1103.6 1132.5h0M1161.6 845.2h0M1220.9 754.2h0M847.7 1031.5h0M794.4 888.5h0M794.5 911.2h0M1024.6 903.1h0M911.7 1017.0h0M1245.5 691.0h0M978.1 945.2h0M746.5 990.7h0M767.0 885.9h0M1101.8 915.1h0M1164.1 1000.0h0M969.0 738.2h0M894.2 714.8h0M956.7 855.5h0M1018.5 996.3h0M1168.9 1060.5h0M1228.5 313.6h0M963.7 729.8h0M1090.1 916.5h0M872.8 1009.6h0M1058.9 965.2h0M894.3 1091.6h0M884.3 915.8h0M827.0 1097.6h0M1064.0 1018.5h0M934.4 897.6h0M1190.8 945.9h0M1113.7 906.9h0M1005.3 1008.1h0M1173.0 847.4h0M1159.0 852.8h0M1001.3 830.0h0M1068.2 1171.1h0M1291.0 432.2h0M1073.1 918.3h0M873.6 1097.9h0M864.7 1181.7h0M1208.1 942.6h0M925.2 1223.2h0M863.3 907.9h0M813.7 874.7h0M1084.9 875.8h0M1077.0 889.4h0M730.2 1045.7h0M922.9 940.6h0M1164.4 808.6h0M636.0 512.0h0M1136.7 865.2h0M1149.7 1062.0h0M897.7 1037.2h0M1213.5 837.7h0M1024.8 813.2h0M1207.6 726.4h0M796.5 886.6h0M927.6 1230.9h0M1244.0 568.0h0M858.4 1123.4h0M1704.0 900.0h0M997.3 983.0h0M1128.7 330.0h0M891.6 1099.8h0M909.7 793.9h0M1501.6 577.8h0M753.2 1008.6h0M925.7 1089.0h0M966.7 796.3h0M1211.3 379.4h0M963.2 1190.3h0M626.4 505.6h0M960.5 1079.6h0M778.3 992.1h0M1165.7 990.8h0M1171.9 845.4h0M967.1 1125.1h0M832.4 795.2h0M890.6 821.3h0M882.5 1115.3h0M1104.5 913.5h0M968.9 1083.0h0M773.7 884.2h0M1232.0 783.0h0M929.4 1006.3h0M1148.7 386.2h0M886.2 740.1h0M857.0 1098.5h0M1185.8 461.4h0M1501.6 589.0h0M943.3 810.9h0M1153.8 736.9h0M746.4 1041.2h0M914.0 1220.2h0M937.8 769.8h0M1019.9 1070.6h0M691.8 1015.1h0M929.2 1113.5h0M1130.7 1051.7h0M830.6 1064.0h0M875.4 1168.2h0M1616.0 672.8h0M1105.4 922.6h0M1010.2 827.1h0M821.4 801.7h0M901.7 1019.7h0M1208.7 1008.9h0M1046.4 1102.8h0M972.0 1150.4h0M810.1 905.8h0M1055.8 900.3h0M992.3 728.4h0M1103.8 869.2h0M1116.1 825.2h0M708.0 1040.6h0M953.0 1095.1h0M1207.5 771.5h0M998.7 1098.7h0M707.8 1075.4h0M1025.4 1190.4h0M993.7 943.1h0M1159.9 1080.9h0M1029.7 1007.4h0M1015.2 1198.2h0M932.4 1106.4h0M887.2 1217.8h0M904.9 915.4h0M1034.1 1165.2h0M1235.5 320.7h0M991.1 1059.2h0M816.8 1116.9h0M1224.5 675.2h0M822.4 867.6h0M1034.5 972.2h0M812.4 842.7h0M995.4 824.7h0M980.3 1230.5h0M799.4 932.1h0M949.0 930.8h0M896.6 1189.6h0M966.7 981.7h0M1012.8 1072.3h0M1031.0 880.1h0M1058.8 983.5h0M1234.6 965.3h0M1223.6 745.6h0M691.7 1017.6h0M766.8 910.7h0M942.4 804.0h0M1128.9 1081.8h0M1239.2 539.0h0M995.6 982.0h0M1014.1 1120.6h0M938.0 799.7h0M864.5 1099.0h0M1588.9 649.9h0M1029.9 849.7h0M1200.7 1027.1h0M768.0 1011.6h0M1021.2 815.1h0M712.7 1009.8h0M1239.9 653.6h0M1024.3 867.0h0M1224.8 954.7h0M835.3 1114.7h0M751.6 991.9h0M1041.3 946.2h0M1140.6 974.5h0M998.1 1168.5h0M942.0 1225.4h0M1113.9 877.3h0M912.1 1220.6h0M956.9 1159.8h0M932.2 1208.5h0M837.5 848.3h0M743.2 966.9h0M1175.7 781.4h0M1537.1 518.9h0M876.7 1101.6h0M736.5 945.8h0M1271.7 440.3h0M1009.3 1079.9h0M1074.8 990.3h0M891.6 1133.0h0M1009.7 1229.6h0M1198.2 957.3h0M914.1 1018.3h0M1199.5 813.0h0M703.5 1045.4h0M846.8 809.4h0M922.8 972.7h0M894.1 1046.2h0M732.3 1039.0h0M1040.4 986.7h0M806.8 1072.6h0M1141.4 787.3h0M1119.0 887.7h0M914.0 1035.5h0M1493.7 520.7h0M869.0 1101.2h0M855.0 1038.2h0M820.7 1154.1h0M1244.8 517.3h0M869.3 1093.8h0M730.6 978.2h0M907.9 1025.8h0M861.4 1023.2h0M1104.1 792.7h0M1028.3 840.0h0M802.6 952.8h0M1037.9 1056.0h0M1070.8 812.0h0M1058.4 1061.2h0M952.6 1094.7h0M823.3 911.1h0M709.2 967.7h0M741.4 1034.8h0M967.1 1165.8h0M974.1 1201.6h0M1046.8 941.4h0M698.0 1033.6h0M857.9 753.1h0M710.9 1097.7h0M1045.8 957.8h0M994.0 1097.2h0M893.2 1196.1h0M964.0 1034.0h0M1248.5 746.3h0M1138.6 983.1h0M1063.3 812.5h0M1211.4 1000.6h0M939.1 919.7h0M1192.7 1016.0h0M901.3 1110.3h0M1137.5 793.7h0M962.7 1062.6h0M1025.2 802.6h0M1000.7 948.0h0M1025.1 970.7h0M1080.0 904.2h0M1221.1 790.1h0M872.0 955.6h0M843.8 981.3h0M823.5 1122.2h0M733.0 975.4h0M969.0 730.3h0M1216.9 958.5h0M983.3 1051.7h0M1168.0 1072.3h0M1107.1 1087.5h0M1086.2 940.8h0M1638.4 704.0h0M1148.0 739.0h0M1111.1 889.4h0M977.5 1198.0h0M1142.0 826.0h0M1037.1 1066.9h0M1088.8 950.9h0M940.4 991.4h0M747.8 1000.2h0M1170.4 847.3h0M966.2 1170.1h0M905.1 1118.3h0M855.5 758.6h0M769.8 998.3h0M1613.2 719.9h0M797.0 1091.7h0M940.7 1064.3h0M1102.2 801.6h0M878.1 1192.1h0M1094.1 907.9h0M729.7 952.7h0M833.7 863.3h0M1036.6 937.7h0M1011.8 906.6h0M862.3 845.3h0M788.3 964.5h0M806.3 892.0h0M963.1 1201.4h0M956.8 1110.3h0M887.8 1105.8h0M1012.3 870.5h0M1183.8 1057.2h0M1201.0 951.4h0M586.4 540.8h0M936.9 724.4h0M1217.1 1020.6h0M1020.7 865.8h0M933.1 1082.4h0M986.9 1104.3h0M1032.3 1187.8h0M977.3 1137.8h0M918.1 1019.6h0M1221.8 949.8h0M995.0 1037.9h0M979.4 1111.0h0M741.7 953.1h0M877.1 1163.7h0M1190.6 1056.0h0M753.9 902.5h0M1015.5 1003.9h0M1016.6 1171.2h0M1069.7 854.2h0M767.8 887.9h0M1171.2 444.1h0M931.4 1044.8h0M1165.8 364.2h0M899.9 941.6h0M961.6 1047.6h0M1010.1 1153.5h0M1061.3 1016.3h0M909.0 736.7h0M999.0 1094.7h0M753.2 1036.9h0M877.5 975.6h0M1137.4 969.7h0M996.1 1116.2h0M925.7 1126.1h0M1173.3 456.0h0M945.5 1164.1h0M622.4 524.8h0M732.8 957.0h0M782.2 940.4h0M863.3 1186.1h0M1154.4 846.3h0M743.1 895.6h0M701.7 1042.1h0M1053.1 870.6h0M1257.0 737.6h0M1111.7 790.5h0M1022.1 955.0h0M958.5 1092.5h0M815.0 814.8h0M1205.3 996.8h0M1059.1 1025.5h0M1219.9 450.4h0M723.4 920.9h0M1170.2 700.4h0M697.3 1006.1h0M1212.9 797.2h0M1223.0 948.7h0M863.0 808.9h0M871.9 1141.8h0M1007.8 958.9h0M909.8 1164.3h0M1022.1 954.1h0M704.2 1019.5h0M1164.5 971.8h0M971.9 1231.9h0M1138.7 764.0h0M720.0 1087.9h0M1020.4 825.6h0M893.0 939.2h0M886.9 746.5h0M924.0 846.7h0M776.3 991.0h0M846.5 962.7h0M1066.7 1155.0h0M1062.3 1044.4h0M1062.4 804.9h0M764.1 1009.6h0M696.8 984.3h0M1125.8 1100.7h0M759.3 974.1h0M1198.9 1053.9h0M844.7 1129.5h0M956.8 862.2h0M1178.8 458.3h0M730.6 978.9h0M1080.3 912.6h0M933.9 1137.0h0M757.7 1069.5h0M687.1 994.7h0M945.0 716.8h0M979.2 726.6h0M1169.1 1079.9h0M798.4 1064.4h0M691.9 1058.1h0M984.5 1104.7h0M1005.7 966.1h0M1098.3 888.2h0M912.3 1097.1h0M1058.0 942.9h0M876.2 1148.9h0M1096.2 889.6h0M1063.0 1012.0h0M1162.0 860.9h0M1648.7 715.2h0M710.0 1014.9h0M1018.4 938.5h0M880.8 1178.4h0M993.5 944.3h0M951.4 801.7h0M734.7 1069.2h0M718.3 1068.4h0M1219.1 799.0h0M1025.1 1116.0h0M739.0 935.5h0M808.5 1099.3h0M998.8 952.4h0M746.7 956.1h0M1014.0 1148.1h0M697.9 954.0h0M937.3 1110.8h0M1191.5 825.5h0M1011.4 1111.3h0M1020.9 1209.5h0M974.0 1212.2h0M706.1 1092.0h0M800.9 1020.8h0M1012.4 1137.2h0M933.6 1211.1h0M1014.3 1086.6h0M1218.4 791.1h0M980.7 1159.9h0M1206.4 780.2h0M971.0 1086.8h0M1157.9 982.5h0M642.4 566.4h0M1028.4 1108.3h0M1184.4 333.0h0M1043.7 1071.5h0M885.4 843.2h0M940.7 1136.2h0M751.5 943.2h0M1009.2 1229.3h0M799.6 845.8h0M917.3 1054.8h0M945.4 1233.9h0M989.1 1091.8h0M722.1 1091.5h0M852.0 810.1h0M1050.7 803.2h0M1032.0 1116.9h0M719.2 1054.8h0M1059.0 909.2h0M1048.9 984.7h0M744.7 987.7h0M1155.3 310.4h0M901.5 813.1h0M888.9 733.6h0M878.6 1005.9h0M834.8 1050.7h0M963.4 788.0h0M904.3 731.4h0M926.2 1106.9h0M1006.3 991.2h0M1116.5 880.7h0M947.2 1069.1h0M1184.9 759.3h0M1235.9 959.0h0M1234.9 772.4h0M1033.8 812.9h0M730.6 954.7h0M1159.4 470.1h0M899.0 815.7h0M1089.0 918.9h0M1014.3 1058.8h0M1055.2 1020.3h0M804.0 940.1h0M730.6 998.0h0M895.1 983.1h0M995.3 825.8h0M713.3 1027.3h0M1214.9 849.1h0M961.7 794.7h0M825.8 1078.2h0M971.4 1091.1h0M1114.5 876.1h0M1180.2 981.0h0M1091.8 943.2h0M977.0 929.8h0M1238.8 377.8h0M806.8 1091.1h0M967.6 1155.9h0M923.1 966.6h0M1054.8 901.6h0M911.0 1199.6h0M822.6 787.7h0M788.9 886.6h0M1128.3 1026.0h0M722.5 1089.2h0M1035.0 839.0h0M837.5 813.9h0M1017.7 812.0h0M1060.7 898.1h0M1094.1 910.2h0M1277.7 970.4h0M933.6 1189.5h0M865.4 954.9h0M1053.3 1001.3h0M827.0 1099.8h0M965.0 714.3h0M1001.1 1201.1h0M934.0 956.8h0M1116.9 1098.5h0M771.2 1015.6h0M1154.3 814.9h0M1181.6 841.4h0M1023.8 997.4h0M930.1 801.2h0M867.2 1005.7h0M1140.5 815.2h0M1000.1 759.7h0M865.7 827.5h0M1076.8 969.6h0M991.2 1126.7h0M983.5 1162.0h0M856.7 821.4h0M918.3 1003.6h0M1028.4 1163.6h0M903.7 811.5h0M902.3 730.3h0M869.1 741.2h0M1243.0 748.5h0M762.8 987.7h0M876.3 1061.3h0M1215.6 410.6h0M986.2 924.4h0M746.0 1096.3h0M785.1 1119.6h0M1083.6 976.1h0M888.4 987.9h0M1226.0 953.8h0M946.2 1076.3h0M1038.4 801.0h0M1005.9 754.2h0M1011.8 994.0h0M1206.0 699.2h0M912.8 1168.7h0M875.6 1152.6h0M1175.2 1018.7h0M1218.3 980.3h0M758.8 1054.5h0M1245.5 531.1h0M1273.8 320.7h0M917.6 1018.9h0M878.0 741.8h0M1080.5 934.7h0M1028.6 860.5h0M1161.6 834.8h0M1134.0 776.3h0M1049.7 858.9h0M1182.5 991.4h0M970.6 848.7h0M1236.7 693.1h0M1065.1 995.2h0M743.2 1059.0h0M1197.1 380.1h0M1070.5 862.3h0M750.7 930.1h0M1505.4 527.3h0M1189.4 828.3h0M982.3 946.5h0M851.9 1153.5h0M1020.4 945.6h0M934.5 955.8h0M1213.4 1039.7h0M1166.2 829.4h0M1033.6 920.5h0M857.1 999.1h0M1119.2 311.7h0M795.6 952.2h0M941.2 1176.3h0M1125.7 316.4h0M702.5 994.2h0M942.5 1215.7h0M868.6 1094.2h0M997.9 1099.7h0M972.6 1228.5h0M738.8 969.7h0M1698.0 818.5h0M933.0 977.8h0M788.8 976.9h0M1200.7 443.6h0M1171.8 1062.8h0M915.8 1008.6h0M1735.0 827.0h0M1123.4 1104.1h0M1017.1 1145.4h0M1153.5 984.3h0M898.8 1173.6h0M1048.8 1182.1h0M855.1 808.4h0M955.2 1194.6h0M967.0 1125.7h0M1165.1 977.5h0M956.3 980.3h0M1073.8 876.8h0M1162.3 464.7h0M1173.8 981.8h0M990.2 1072.5h0M963.2 922.3h0M753.2 886.5h0M1173.6 980.1h0M859.7 843.7h0M1019.3 848.2h0M1088.3 905.0h0M1011.9 794.7h0M908.0 1165.9h0M1094.4 882.8h0M1141.8 325.9h0M1007.7 790.8h0M738.8 940.1h0M617.6 511.2h0M839.8 903.8h0M1119.2 800.4h0M1132.4 776.5h0M950.2 1185.0h0M1054.9 1061.1h0M947.5 1172.8h0M745.2 914.4h0M986.8 1207.6h0M931.6 1139.9h0M1177.7 1043.4h0M1009.8 1117.0h0M956.9 820.2h0M1224.7 786.5h0M1153.3 1086.8h0M1113.5 820.3h0M943.4 1187.8h0M1185.8 658.9h0M857.1 834.6h0M994.6 973.0h0M968.5 812.0h0M971.6 1204.3h0M1011.8 936.2h0M961.2 1151.7h0M1246.0 707.2h0M793.3 963.4h0M692.3 1055.5h0M1007.9 792.0h0M988.5 1107.0h0M767.2 946.7h0M787.1 1051.6h0M957.8 1121.2h0M716.8 944.3h0M1169.6 730.1h0M1041.6 935.4h0M808.8 1075.1h0M793.0 825.3h0M1036.3 1125.2h0M800.8 943.6h0M987.5 923.0h0M865.8 909.7h0M957.4 733.2h0M986.7 991.3h0M1051.1 1040.3h0M750.2 1060.2h0M1182.8 812.3h0M1146.8 819.1h0M765.8 1078.1h0M752.6 990.6h0M1105.1 859.2h0M934.7 1135.6h0M955.1 1073.9h0M808.3 1079.0h0M1003.0 1219.3h0M918.3 735.5h0M926.5 918.7h0M838.5 1140.6h0M1112.7 802.2h0M816.8 840.3h0M1206.0 654.4h0M714.0 1024.3h0M1003.3 918.3h0M997.7 746.9h0M788.8 945.0h0M1184.8 747.0h0M1070.8 948.1h0M1254.6 718.0h0M976.6 1116.3h0M787.1 900.3h0M695.1 1016.1h0M724.5 1005.0h0M977.0 1202.9h0M777.9 1005.7h0M964.8 1063.1h0M1107.0 771.6h0M859.6 1063.5h0M980.4 1061.2h0M1018.4 1096.9h0M1030.6 1005.4h0M1190.3 850.4h0M929.2 1097.0h0M767.7 893.7h0M1188.9 738.4h0M841.6 1131.8h0M1051.1 832.0h0M1106.2 768.2h0M1012.5 1190.6h0M806.3 808.6h0M875.1 819.0h0M726.4 1003.3h0M854.1 1133.7h0M962.5 1171.7h0M917.3 1146.8h0M749.8 1044.1h0M698.8 974.6h0M1110.3 767.1h0M1066.1 987.8h0M918.5 722.1h0M1052.8 990.3h0M904.9 1081.2h0M1191.0 1001.4h0M1210.9 828.8h0M993.7 789.4h0M1105.3 767.5h0M1138.1 839.3h0M813.2 1053.5h0M861.1 1136.1h0M889.0 1122.2h0M994.4 1064.1h0M812.0 953.3h0M817.5 805.6h0M914.3 880.6h0M1085.3 945.4h0M1166.6 822.5h0M864.9 1148.9h0M739.1 935.3h0M921.0 1132.4h0M1021.4 969.8h0M1633.8 735.8h0M904.8 793.2h0M1028.6 870.7h0M765.6 1076.9h0M997.9 1212.8h0M1181.2 736.0h0M877.0 753.7h0M967.9 1107.1h0M1039.7 964.5h0M744.3 1081.8h0M1160.3 1070.3h0M776.9 1004.9h0M1065.5 889.0h0M890.4 1089.7h0M1596.4 677.9h0M977.6 948.6h0M1098.8 902.4h0M1189.0 303.0h0M1192.0 834.0h0M1024.4 945.5h0M1004.6 998.9h0M1238.8 546.9h0M1009.7 796.0h0M987.3 1024.9h0M1072.0 1017.5h0M811.9 808.1h0M1193.8 442.5h0M1166.8 840.8h0M982.4 1077.4h0M969.1 1087.1h0M755.3 1034.0h0M717.3 943.1h0M802.3 902.8h0M1061.2 969.7h0M1231.4 461.5h0M1065.6 939.0h0M599.2 530.4h0M1244.7 478.3h0M941.2 1119.2h0M948.1 723.5h0M877.3 1095.1h0M886.2 1187.8h0M912.1 1164.0h0M986.6 1064.7h0M970.6 797.8h0M987.0 1085.4h0M699.6 948.9h0M1061.4 988.0h0M924.2 1105.4h0M751.5 935.5h0M781.5 917.2h0M995.6 1019.6h0M740.4 1088.4h0M887.1 715.0h0M974.2 890.5h0M1196.9 1064.1h0M967.4 1167.4h0M870.2 1146.9h0M1008.2 1221.9h0M969.7 864.5h0M1062.1 873.5h0M1254.6 954.5h0M1032.9 958.6h0M1115.5 774.9h0M943.4 802.3h0M1195.5 855.2h0M805.2 856.6h0M1015.4 1141.1h0M1229.6 758.9h0M927.2 1216.0h0M920.7 1165.0h0M1206.6 996.6h0M896.6 1123.3h0M951.7 1143.0h0M983.0 1099.1h0M817.1 926.4h0M756.4 1062.0h0M1024.2 817.6h0M782.4 940.7h0M885.6 728.4h0M1166.0 1016.3h0M1185.1 847.8h0M843.4 1158.2h0M1044.5 836.6h0M1208.6 1054.6h0M1025.3 791.7h0M1183.2 429.5h0M895.0 1218.3h0M1059.8 1049.9h0M1025.6 859.6h0M1044.3 1167.4h0M1122.5 323.3h0M978.4 950.1h0M950.5 1162.5h0M1185.3 808.3h0M929.3 975.5h0M931.1 906.0h0M913.3 977.1h0M1207.6 1052.1h0M1118.2 1118.6h0M1051.2 1116.8h0M809.1 954.4h0M1040.1 813.5h0M619.2 524.8h0M938.6 821.2h0M1100.5 890.1h0M927.3 918.5h0M902.6 1057.4h0M1708.0 909.0h0M1248.7 793.2h0M1186.6 753.4h0M794.3 830.6h0M1038.6 851.1h0M812.4 875.2h0M986.5 1211.8h0M727.8 946.7h0M854.7 747.1h0M758.1 909.3h0M970.5 1176.8h0M1230.1 775.5h0M733.7 1039.0h0M960.3 1129.4h0M716.2 968.9h0M1214.2 442.1h0M1021.4 904.4h0M1126.6 777.3h0M919.3 1050.8h0M994.2 1157.0h0M1072.5 833.4h0M937.1 800.0h0M1216.8 1046.2h0M1019.0 986.4h0M875.9 1094.9h0M1255.0 700.8h0M820.9 989.1h0M712.6 1009.1h0M862.9 895.9h0M1027.6 940.7h0M1021.3 938.9h0M1208.8 1056.9h0M712.5 1105.4h0M981.0 1056.4h0M951.1 821.7h0M1591.3 514.3h0M754.1 1085.3h0M983.2 934.0h0M1223.9 987.7h0M1262.3 447.3h0M713.4 1099.7h0M847.3 749.3h0M728.6 1111.1h0M629.6 504.8h0M901.7 743.2h0M1150.6 322.6h0M724.5 1008.0h0M1017.9 830.3h0M1103.7 838.6h0M722.7 1080.6h0M1113.4 820.0h0M700.7 1017.2h0M779.0 1064.6h0M754.8 1108.9h0M1304.3 350.8h0M1137.7 1028.3h0M735.7 1035.1h0M808.6 951.5h0M1096.0 899.3h0M1161.5 1085.0h0M792.1 936.7h0M878.7 1176.4h0M1218.2 966.3h0M1209.4 675.5h0M937.4 813.9h0M1017.3 1094.8h0M1208.2 1004.5h0M1100.3 998.0h0M911.2 1215.3h0M1143.3 812.7h0M1131.7 747.2h0M1499.8 601.1h0M1000.7 963.2h0M751.6 1081.1h0M1212.2 1029.7h0M1031.7 1122.2h0M1010.1 947.8h0M828.6 996.9h0M810.8 960.7h0M1028.5 910.2h0M1204.1 669.9h0M1248.4 691.7h0M922.6 937.2h0M900.5 1180.5h0M1244.6 700.1h0M905.0 1059.2h0M1077.4 919.3h0M1712.0 873.0h0M1029.9 832.0h0M686.9 1038.6h0M705.8 950.3h0M1035.7 1082.7h0M792.8 854.1h0M789.7 838.4h0M1059.3 1021.4h0M1078.6 953.1h0M997.8 987.8h0M991.9 1212.1h0M747.0 923.2h0M1188.2 997.9h0M1024.0 821.5h0M904.6 1041.8h0M1199.1 955.1h0M1505.4 545.1h0M1238.3 650.6h0M747.3 886.5h0M1563.2 532.0h0M944.7 1079.2h0M1122.1 768.6h0M975.2 1055.9h0M1578.2 521.7h0M1142.6 733.9h0M996.2 1005.4h0M1494.2 553.5h0M975.1 1176.6h0M893.7 801.4h0M943.8 816.6h0M866.7 1098.1h0M999.7 1225.1h0M862.3 817.1h0M966.1 1156.9h0M947.0 1159.8h0M1111.0 859.9h0M882.8 1130.2h0M1126.9 1116.3h0M620.8 551.2h0M721.1 996.4h0M1057.1 968.9h0M1038.5 995.3h0M962.0 866.0h0M809.9 1006.4h0M880.6 1107.3h0M1121.3 756.4h0M991.6 1077.9h0M1190.9 762.3h0M1053.0 1044.0h0M855.6 1000.1h0M886.7 1085.1h0M968.8 811.9h0M1203.9 995.9h0M726.0 932.1h0M853.0 850.0h0M1091.6 914.9h0M878.5 723.3h0M893.9 1011.9h0M886.6 1181.2h0M953.1 946.1h0M881.6 1169.5h0M1023.3 911.3h0M1142.2 738.3h0M1159.5 474.0h0M995.5 1223.9h0M722.5 947.8h0M1162.9 473.6h0M724.7 919.8h0M936.0 950.4h0M711.9 1077.3h0M989.9 1233.2h0M1070.8 808.8h0M1051.3 1004.0h0M986.5 1018.9h0M897.9 916.0h0M829.4 794.9h0M793.3 850.3h0M926.2 724.9h0M862.6 1170.7h0M922.4 711.0h0M1054.6 1058.8h0M1152.5 789.7h0M916.0 1171.6h0M923.1 1094.5h0M983.2 745.6h0M747.5 955.8h0M1012.5 1066.8h0M1108.0 867.8h0M909.0 1043.2h0M733.0 966.3h0M1214.2 1001.7h0M1022.4 1197.5h0M1239.0 566.0h0M1139.3 819.2h0M740.3 1008.6h0M829.2 867.4h0M778.1 1096.9h0M1022.1 1041.9h0M1107.9 825.4h0M718.9 992.2h0M1218.3 403.6h0M1191.5 969.7h0M1250.0 740.1h0M1191.1 974.2h0M864.0 1129.8h0M685.1 981.8h0M910.1 1194.1h0M927.7 732.1h0M1170.6 831.4h0M715.1 946.2h0M1106.1 920.2h0M1014.9 987.9h0M724.0 940.8h0M928.2 1155.6h0M912.9 1174.7h0M1013.5 1078.1h0M1087.2 893.2h0M1223.6 388.3h0M770.2 968.3h0M979.9 1117.7h0M862.1 755.2h0M867.2 817.1h0M1250.2 711.0h0M1223.1 401.2h0M1077.1 933.0h0M827.4 1148.0h0M1605.8 676.0h0M1071.0 908.8h0M1177.4 459.3h0M871.3 1170.9h0M944.7 801.9h0M1201.9 367.2h0M1112.9 1136.2h0M1204.0 828.5h0M1068.8 1011.4h0M748.0 1030.3h0M1071.6 833.2h0M1073.2 967.5h0M981.1 1006.2h0M941.7 1082.8h0M1241.3 762.0h0M919.9 977.2h0M1243.1 503.4h0M1065.6 1042.6h0M918.5 1004.3h0M1068.9 842.2h0M1014.7 809.2h0M1026.1 847.2h0M1156.0 849.6h0M781.2 1004.5h0M1253.5 798.2h0M1175.2 826.3h0M1041.9 908.7h0M1097.2 915.5h0M1165.2 1088.8h0M927.7 701.5h0M720.0 1063.4h0M1617.0 656.4h0M1102.6 919.4h0M1503.5 506.8h0M1241.0 459.0h0M957.9 946.4h0M1034.8 959.5h0M1078.7 978.5h0M1035.7 891.3h0M951.0 1114.1h0M914.5 1020.5h0M1029.8 887.2h0M773.5 987.5h0M1039.4 870.1h0M989.5 1209.9h0M743.1 940.8h0M1176.0 1034.3h0M1006.9 931.3h0M985.6 1203.0h0M826.2 1152.5h0M890.8 1129.5h0M1071.1 976.6h0M880.4 1159.6h0M825.1 804.7h0M901.8 1014.9h0M916.6 1190.6h0M873.4 1092.0h0M1024.0 1048.9h0M1002.1 1214.1h0M921.9 1100.0h0M1058.4 944.5h0M1000.9 797.8h0M1082.5 946.9h0M860.1 1156.6h0M891.1 1076.4h0M923.9 1121.6h0M1144.7 778.1h0M1077.2 987.3h0M1173.0 846.1h0M860.5 808.1h0M1074.3 865.0h0M1144.7 1026.0h0M1164.0 474.1h0M836.7 1123.1h0M1185.3 668.4h0M1214.0 736.0h0M854.2 1153.2h0M1106.8 774.7h0M1182.8 1035.7h0M1715.0 834.0h0M1201.6 1060.0h0M993.6 1005.5h0M746.6 1105.6h0M1116.3 1113.7h0M1088.2 865.1h0M1178.2 684.3h0M808.5 893.0h0M982.5 920.9h0M1128.5 827.7h0M802.0 956.0h0M1217.3 429.2h0M634.4 505.6h0M1261.9 406.0h0M892.4 806.7h0M738.2 1054.5h0M1062.3 836.7h0M1024.4 1197.1h0M780.6 938.4h0M1122.1 862.7h0M999.4 835.2h0M1065.2 888.3h0M969.8 1015.9h0M1179.2 988.3h0M1211.7 847.8h0M797.8 828.5h0M799.6 941.7h0M1286.2 386.0h0M1226.6 397.2h0M972.4 1146.4h0M1151.3 993.2h0M1009.3 1053.1h0M1207.1 446.0h0M1077.7 912.5h0M723.2 954.9h0M1229.5 397.5h0M911.8 954.2h0M735.7 927.6h0M1049.4 954.3h0M987.2 1000.0h0M769.7 1074.1h0M1121.5 826.5h0M1077.0 834.0h0M924.0 927.8h0M847.4 1134.8h0M1048.8 1034.1h0M882.1 819.0h0M730.3 936.7h0M616.0 540.8h0M1194.9 733.6h0M1056.7 933.2h0M1043.0 1075.9h0M807.7 1119.6h0M828.3 1015.0h0M823.5 1021.1h0M1003.9 1140.6h0M997.6 1104.5h0M1158.6 1101.0h0M831.5 1144.5h0M1253.9 800.9h0M1163.3 1076.1h0M827.2 860.1h0M857.0 742.7h0M969.4 1143.6h0M712.7 1065.1h0M861.8 756.4h0M780.7 1120.6h0M734.0 1018.4h0M1052.3 900.0h0M885.4 1078.7h0M997.7 1116.7h0M838.7 870.5h0M881.7 1002.7h0M1037.6 1117.9h0M935.4 866.3h0M703.3 956.0h0M948.2 1219.9h0M1170.0 1079.9h0M1011.7 908.9h0M1000.0 832.9h0M807.1 940.1h0M914.8 965.7h0M1031.2 1061.4h0M1184.0 991.5h0M1223.4 422.6h0M1002.9 1033.4h0M876.4 946.1h0M892.6 1215.7h0M999.1 970.7h0M700.4 964.5h0M907.3 1134.0h0M833.2 956.5h0M1202.8 399.0h0M1130.9 975.1h0M1043.3 871.7h0M1215.6 1045.2h0M1100.3 1133.5h0M925.7 706.3h0M716.6 1092.8h0M940.5 1173.9h0M716.1 1003.1h0M1129.9 817.9h0M1483.9 567.5h0M700.6 1026.2h0M1010.1 939.9h0M945.7 919.3h0M887.6 1012.3h0M1100.5 922.6h0M1039.2 1070.9h0M998.4 1233.2h0M998.0 766.0h0M818.3 902.2h0M816.3 922.6h0M1018.4 1083.5h0M496.5 229.5h0M1163.0 1082.5h0M1039.5 946.6h0M1020.2 840.8h0M981.7 744.4h0M1094.8 922.4h0M1119.7 1005.5h0M1038.6 1155.7h0M1135.8 759.7h0M928.7 1070.5h0M1620.7 666.7h0M1195.6 955.8h0M934.7 1196.6h0M1002.6 1168.3h0M982.7 1022.7h0M878.5 1075.6h0M1191.8 1051.5h0M1006.2 1061.9h0M864.6 954.2h0M979.0 1174.1h0M766.6 1070.6h0M895.3 1166.6h0M1192.8 1017.7h0M1221.1 414.6h0M907.9 732.5h0M1179.7 444.6h0M908.6 733.7h0M1006.9 756.5h0M1009.4 948.7h0M909.7 1028.9h0M1006.9 910.1h0M985.8 1002.2h0M800.6 1095.0h0M1169.6 1055.7h0M1164.0 988.2h0M721.4 970.1h0M979.8 1168.2h0M1030.9 914.9h0M991.1 1085.0h0M888.4 713.2h0M755.5 1092.1h0M733.2 983.8h0M911.5 793.9h0M893.9 1038.7h0M813.7 943.5h0M1218.8 1007.9h0M1208.8 764.9h0M1076.9 983.8h0M1087.5 931.1h0M614.4 519.2h0M1239.7 663.5h0M986.7 1217.3h0M1166.7 1098.0h0M912.5 910.3h0M976.3 1197.3h0M1100.3 1121.7h0M937.9 825.4h0M986.8 1211.3h0M739.3 938.1h0M1066.5 958.6h0M958.7 827.6h0M1182.4 846.3h0M934.6 1086.7h0M956.0 1134.6h0M1145.9 1096.7h0M855.6 1098.8h0M1170.9 430.3h0M955.6 1221.3h0M762.2 983.0h0M989.1 1205.0h0M996.9 1011.5h0M1601.1 678.8h0M1189.3 808.5h0M824.8 853.8h0M1022.7 1154.7h0M1113.3 763.6h0M984.6 1213.9h0M944.5 1176.3h0M841.4 832.4h0M1590.8 637.7h0M1053.7 935.1h0M705.3 1037.4h0M1195.0 347.4h0M1099.1 903.8h0M907.5 1187.4h0M1205.3 981.5h0M894.2 1014.9h0M1107.3 1063.3h0M788.0 1108.2h0M865.3 804.0h0M763.3 933.0h0M979.0 922.5h0M924.6 1061.6h0M845.2 1117.5h0M1041.7 1079.2h0M732.9 959.5h0M1223.5 406.7h0M860.8 1102.2h0M1048.2 987.2h0M1241.1 944.2h0M1258.5 731.6h0M1254.0 719.5h0M1243.0 515.0h0M724.0 974.0h0M1015.6 1219.3h0M1056.7 1192.8h0M859.0 1092.8h0M908.2 1028.7h0M1001.2 1150.2h0M1095.7 926.3h0M1105.9 855.2h0M825.2 1119.6h0M1103.6 876.5h0M1568.9 518.0h0M1139.9 796.1h0M1499.8 583.4h0M1074.0 920.1h0M997.0 1033.5h0M936.6 1067.7h0M884.4 738.3h0M1233.4 945.9h0M992.2 1115.0h0M742.2 1081.8h0M836.3 834.4h0M1029.2 1067.2h0M920.0 1160.4h0M687.1 1009.2h0M735.5 1002.0h0M1021.6 955.0h0M965.2 1145.3h0M1026.2 797.7h0M1162.7 865.1h0M915.1 1202.4h0M986.9 933.6h0M1121.9 795.3h0M878.8 1115.3h0M1245.6 749.0h0M938.3 991.5h0M1149.1 992.6h0M1280.7 469.3h0M959.7 945.8h0M887.3 1028.5h0M742.2 947.6h0M941.3 963.7h0M738.8 1036.5h0M926.3 1186.6h0M1002.5 980.6h0M1102.0 790.6h0M1084.3 961.0h0M862.1 1184.5h0M1204.6 971.1h0M710.6 992.9h0M834.3 1152.5h0M735.8 1110.6h0M1061.7 910.8h0M1182.2 973.0h0M820.9 824.2h0M1221.4 753.3h0M1090.3 1144.9h0M989.3 905.0h0M1013.1 813.4h0M1157.1 1088.3h0M991.7 727.7h0M1198.8 285.0h0M1554.8 527.3h0M1055.6 933.7h0M803.3 950.1h0M968.2 1045.0h0M849.8 777.4h0M1004.3 1107.0h0M693.8 1043.9h0M856.7 744.9h0M1103.7 860.1h0M961.3 1105.8h0M957.3 973.1h0M902.5 1056.9h0M956.0 898.1h0M932.9 1176.2h0M793.9 1120.5h0M794.6 1110.4h0M1112.7 1120.3h0M972.1 944.5h0M858.2 749.3h0M720.6 1103.9h0M1205.5 1014.9h0M924.2 1192.3h0M1127.4 826.4h0M937.0 1082.5h0M801.7 1075.6h0M965.6 1125.0h0M1071.0 1006.6h0M948.6 1026.1h0M1112.1 761.5h0M1255.7 723.4h0M1223.3 1040.9h0M1011.6 984.8h0M1167.2 814.4h0M989.8 1011.3h0M955.8 1002.5h0M1048.5 927.3h0M945.8 1208.9h0M949.7 810.1h0M721.0 1102.9h0M833.0 811.5h0M1193.8 369.7h0M1195.0 1061.6h0M765.2 1029.2h0M748.4 1069.3h0M905.3 802.3h0M937.4 1183.1h0M1174.6 964.2h0M1067.6 1008.6h0M1222.1 410.5h0M1065.4 1022.8h0M989.2 752.7h0M911.3 1055.2h0M1008.7 1114.2h0M934.2 825.3h0M1176.3 812.2h0M1169.5 467.2h0M976.0 1004.8h0M767.9 989.7h0M686.2 1039.2h0M1271.8 484.9h0M965.0 983.8h0M772.6 1028.1h0M846.4 866.8h0M1233.4 754.3h0M601.6 541.6h0M1250.8 730.2h0M722.4 1046.5h0M1146.8 1078.7h0M1114.8 783.3h0M687.7 980.4h0M1118.9 834.2h0M1238.5 767.0h0M850.7 1134.9h0M1296.9 358.0h0M615.2 534.4h0M1026.3 875.9h0M892.6 1040.8h0M1241.1 770.4h0M1018.9 1224.6h0M807.7 951.4h0M1021.9 1148.1h0M739.2 949.0h0M729.3 997.8h0M1143.8 769.8h0M1196.8 824.9h0M1032.2 1206.3h0M1188.7 817.2h0M796.9 896.5h0M1003.2 1185.8h0M1498.4 519.8h0M1022.7 904.9h0M1168.5 969.1h0M866.6 1089.3h0M1495.0 509.9h0M993.1 887.8h0M980.3 1167.5h0M751.1 944.5h0M1012.4 905.9h0M737.9 1002.7h0M1110.4 834.1h0M1155.7 733.0h0M1024.9 1043.5h0M866.9 757.8h0M951.9 723.7h0M897.2 1191.5h0M1262.5 335.3h0M864.2 1161.1h0M740.4 993.1h0M1025.3 1079.5h0M886.7 1140.9h0M1027.0 817.2h0M1210.7 674.1h0M1238.8 956.4h0M1041.9 1036.4h0M936.1 714.3h0M1039.9 824.7h0M1020.9 960.9h0M710.6 1101.2h0M987.1 1010.6h0M1153.4 984.6h0M860.8 887.5h0M1059.2 803.8h0M1035.0 1098.7h0M1046.5 947.9h0M1001.1 1208.8h0M1115.0 894.6h0M1114.3 1114.2h0M972.0 1197.1h0M1019.0 1090.9h0M990.8 1129.3h0M1010.2 895.1h0M1157.0 851.3h0M914.3 1069.6h0M696.4 1012.7h0M899.8 1116.2h0M1044.8 1148.9h0M795.2 895.2h0M909.6 1174.5h0M942.4 1100.8h0M1286.2 684.8h0M734.3 960.1h0M870.5 1149.7h0M1125.7 1110.2h0M910.2 956.8h0M968.3 1160.5h0M915.0 1036.0h0M1008.1 943.5h0M934.5 1007.1h0M890.9 713.5h0M945.3 1044.3h0M1063.9 1159.4h0M853.2 1017.2h0M1179.5 1049.3h0M872.6 1162.5h0M991.7 1034.8h0M717.4 1003.8h0M1029.2 1214.4h0M976.3 1149.0h0M1030.7 909.3h0"/><path stroke="#601880" stroke-width="6.6" stroke-linecap="round" fill="none" d="M1288.7 329.5h0M851.3 839.0h0M1298.2 363.0h0M1263.0 483.0h0M910.6 797.4h0M294.5 982.8h0M1508.6 508.5h0M1172.2 706.9h0M895.2 836.0h0M861.8 860.4h0M796.6 1003.8h0M1297.2 360.3h0M1519.8 572.8h0M1257.6 485.3h0M893.3 1198.3h0M380.7 495.0h0M1107.5 1006.9h0M728.6 946.7h0M1113.6 802.3h0M972.6 1142.1h0M1256.6 374.1h0M1152.5 374.8h0M1026.6 830.7h0M946.9 795.1h0M1011.2 795.9h0M700.2 1021.3h0M1143.8 782.3h0M727.8 925.3h0M1497.5 527.7h0M892.2 1029.3h0M983.6 861.4h0M1017.2 846.4h0M852.0 872.2h0M1245.8 481.0h0M1146.0 410.0h0M1249.6 346.5h0"/><path stroke="#59157e" stroke-width="6.6" stroke-linecap="round" fill="none" d="M1123.7 996.8h0M1245.2 374.6h0M1513.8 513.3h0M625.6 512.4h0M656.0 560.0h0M885.9 822.1h0M1624.4 661.1h0M1005.8 1032.3h0M1500.7 540.9h0M1610.4 712.4h0M648.0 519.2h0M1658.0 729.2h0M1594.5 639.6h0M1238.0 649.6h0M1711.0 877.5h0M1607.6 642.4h0M1704.5 834.5h0M881.9 830.4h0M1265.4 354.4h0M632.0 568.0h0M1507.2 572.2h0M1636.6 721.8h0M1520.3 517.1h0M1539.0 584.3h0M803.6 824.8h0M1612.3 699.4h0M789.8 846.7h0M980.6 787.9h0M1527.8 529.2h0M661.6 563.2h0M1239.6 507.8h0M1583.8 515.2h0M744.1 971.1h0M993.8 899.2h0M1511.0 557.2h0M1620.7 649.9h0M960.2 878.8h0M1712.0 908.0h0M1130.7 1079.7h0M1575.4 519.9h0M1626.3 678.8h0M1574.5 525.5h0M803.1 809.2h0M1507.2 520.8h0M620.8 513.6h0M841.1 861.7h0M946.1 917.4h0M594.4 536.8h0M1617.9 705.9h0M487.5 219.8h0M1160.8 965.6h0M1715.0 903.0h0M1715.0 906.0h0M1623.5 683.5h0M1653.4 719.9h0M927.3 985.5h0M1764.0 808.5h0M1710.0 846.0h0M1628.2 662.0h0M1592.7 696.6h0M1730.0 830.0h0M907.5 1001.1h0M961.5 1053.3h0M999.0 871.2h0M1131.9 1118.0h0M622.4 544.8h0M1018.5 822.8h0M632.0 509.6h0M893.8 1201.5h0M1628.2 668.6h0M1252.7 501.9h0M641.6 561.6h0M1710.0 857.5h0M1159.3 1081.8h0M887.7 838.8h0M1510.0 543.2h0M1652.4 713.4h0M878.5 796.7h0M1152.1 973.6h0M1600.1 641.5h0"/><path stroke="#641a80" stroke-width="6.6" stroke-linecap="round" fill="none" d="M886.2 815.9h0M985.6 828.3h0M794.2 990.9h0M874.8 732.8h0M829.3 867.2h0M1487.7 512.7h0M1254.4 397.3h0M853.1 846.1h0M1221.8 956.7h0M1154.8 1065.3h0M826.0 1103.2h0M1199.1 435.2h0M1231.6 804.4h0M844.2 1163.1h0M791.8 973.0h0M1256.0 382.7h0M851.7 840.8h0M1211.7 334.3h0M1232.3 753.8h0"/><path stroke="#21114e" stroke-width="6.6" stroke-linecap="round" fill="none" d="M1151.9 310.4h0M832.6 827.0h0M1042.4 1173.2h0M1049.8 1014.2h0M1070.4 952.0h0M1061.9 920.5h0M1045.8 968.5h0M1035.8 916.4h0M1070.5 845.5h0M1031.0 944.0h0M915.0 1200.7h0M1008.3 1193.1h0M922.3 1125.2h0M892.0 839.0h0M871.9 836.7h0M870.8 795.1h0M1111.0 921.8h0M849.9 1110.7h0M1107.1 884.4h0M901.8 807.2h0M1036.9 1088.3h0M820.2 1123.1h0"/><path stroke="#671b80" stroke-width="6.6" stroke-linecap="round" fill="none" d="M858.4 757.8h0M1188.4 818.1h0M808.7 958.0h0M960.1 851.5h0M1532.1 561.3h0M965.9 1099.1h0M715.3 1098.0h0M1173.0 441.7h0M820.5 860.0h0M898.8 793.9h0M878.3 816.6h0M1243.8 778.0h0M936.8 723.3h0M944.3 977.2h0M1195.7 728.9h0M921.7 899.8h0M1143.1 374.6h0M1289.9 458.4h0M1229.9 829.6h0M920.2 809.6h0M742.2 912.4h0M1209.3 781.0h0M1006.9 820.3h0M903.9 808.1h0M1524.8 556.9h0M831.5 795.2h0M982.2 777.7h0M1134.5 335.8h0M939.8 1208.4h0M843.6 850.5h0M1530.9 567.1h0M864.8 819.7h0M1154.4 850.4h0M886.2 814.3h0M951.2 1124.8h0"/><path stroke="#38106c" stroke-width="6.6" stroke-linecap="round" fill="none" d="M1024.5 1140.1h0M873.1 1170.3h0M1484.9 527.1h0M980.8 1085.5h0M1007.2 772.3h0M1039.5 859.8h0M1049.6 1053.2h0M1006.5 978.3h0M908.8 710.2h0M991.5 893.5h0M1013.6 871.9h0M1287.0 356.0h0M1131.8 331.3h0M1204.6 953.7h0M1242.2 325.4h0M1014.1 974.8h0M1288.4 461.7h0M1005.3 764.6h0M1205.5 976.5h0M825.1 822.6h0M877.4 828.6h0M880.4 754.0h0M1049.2 1127.3h0M776.3 1031.9h0M1145.1 307.9h0M888.3 791.6h0M1020.6 1167.8h0M937.3 1082.0h0M1254.5 375.4h0M1054.1 821.2h0M920.2 803.6h0M841.2 822.6h0M822.5 807.7h0M1154.9 1079.1h0M1271.3 350.6h0M1108.4 870.0h0M1137.5 340.4h0M767.3 1091.7h0M1011.7 1172.4h0M972.1 827.5h0M1202.4 970.3h0M1289.8 320.9h0M976.7 1134.7h0M815.6 799.5h0M922.1 1152.6h0"/><path stroke="#241253" stroke-width="6.6" stroke-linecap="round" fill="none" d="M1157.7 993.1h0M1067.3 957.9h0M900.8 708.5h0M1004.5 940.3h0M1021.7 850.5h0M1066.5 997.2h0M865.2 789.0h0M1012.8 857.3h0M1011.4 1199.2h0M983.4 1141.7h0M825.3 1149.1h0M848.9 818.1h0M1044.9 850.8h0M1050.8 820.5h0M1091.2 905.6h0M1037.0 916.7h0M1066.3 854.2h0M1079.7 986.9h0M1030.7 865.9h0M1049.1 979.5h0M1187.7 990.1h0"/><path stroke="#782281" stroke-width="6.6" stroke-linecap="round" fill="none" d="M1296.9 459.0h0M747.6 959.2h0M700.7 982.5h0M1290.1 460.5h0M1265.6 387.1h0M1025.8 842.2h0M916.1 800.0h0M1166.2 447.7h0M1224.7 380.1h0M1302.5 358.2h0M898.0 809.7h0M1279.9 459.9h0M1196.3 744.4h0M1132.9 1001.6h0"/><path stroke="#130d34" stroke-width="6.6" stroke-linecap="round" fill="none" d="M1044.8 1024.6h0M1109.7 911.1h0M1013.5 907.0h0M1052.4 889.5h0M1059.4 924.9h0M1028.6 873.4h0M1071.8 959.1h0M1048.3 937.7h0"/><path stroke="#29115a" stroke-width="6.6" stroke-linecap="round" fill="none" d="M1617.9 701.2h0M1647.8 729.2h0M1616.0 720.8h0M1616.0 646.1h0M1223.7 990.5h0M1037.2 1063.0h0M1212.3 939.4h0M1585.2 637.7h0M1178.1 977.6h0M1604.8 697.5h0M1539.9 547.9h0M1713.0 897.0h0M1557.6 516.1h0M1109.7 1040.0h0M1253.0 362.4h0M1006.2 865.3h0M1236.3 384.9h0M1707.0 897.0h0M973.3 921.9h0M812.0 813.8h0M1564.2 515.2h0M1706.0 895.0h0M1612.3 646.1h0M1628.2 732.0h0M1287.5 360.8h0M1574.5 511.5h0M1102.7 1044.7h0M1512.8 550.7h0M1039.3 989.4h0M1566.1 525.5h0M1644.0 735.8h0M833.1 845.4h0M1622.6 697.5h0M1619.8 720.8h0M1520.3 524.5h0M1547.4 523.6h0M1603.9 648.9h0M1617.9 696.6h0M1071.3 979.2h0M1082.7 977.8h0M1616.0 650.8h0M1762.0 810.0h0M1642.2 714.3h0M1121.3 1056.3h0M894.7 827.5h0M1613.2 643.3h0M1625.4 694.7h0M1605.8 640.5h0M1062.0 1170.3h0M1073.9 997.9h0M1167.5 1072.4h0M1624.4 654.5h0M1135.3 1063.3h0M1101.9 1132.1h0M1149.3 1061.0h0M1608.6 705.9h0M1614.2 685.4h0M1706.0 830.0h0M1116.7 998.0h0M1701.0 823.0h0M1623.5 657.3h0M1503.5 535.8h0M1709.0 898.0h0M1071.6 859.6h0M1052.3 922.0h0M629.6 539.2h0M1587.1 700.3h0M1582.4 634.0h0M1118.4 879.7h0M1731.0 832.0h0M1710.0 900.0h0M1629.1 709.6h0M979.4 811.5h0M1037.9 1162.1h0M876.8 750.6h0M1702.0 832.0h0M1593.1 505.9h0M1631.0 730.2h0M1123.7 1068.0h0M1114.3 1098.3h0M1609.5 650.8h0M1631.9 714.3h0M1661.8 742.3h0M1619.8 652.7h0M1512.8 535.8h0M1552.0 521.7h0M1102.7 892.3h0M1137.5 319.4h0M1572.6 513.3h0M1095.7 956.4h0M1533.4 517.1h0M1644.0 710.6h0M1029.9 1116.4h0M947.5 1231.0h0M1109.7 1035.3h0M1544.6 520.8h0M1027.3 1160.8h0M1056.5 920.1h0M1251.3 340.8h0M1550.2 518.9h0M1632.8 726.4h0M1112.0 1114.7h0M632.0 548.4h0M900.5 1041.5h0M901.2 702.5h0M1628.2 694.7h0M1116.7 1037.7h0M1612.3 694.7h0"/><path stroke="#f1605d" stroke-width="6.6" stroke-linecap="round" fill="none" d="M1184.6 365.9h0M1133.9 403.6h0M1196.3 275.0h0"/><path stroke="#e55064" stroke-width="6.6" stroke-linecap="round" fill="none" d="M1138.7 378.9h0M1107.0 415.2h0M1126.1 408.4h0"/><path stroke="#2d1161" stroke-width="6.6" stroke-linecap="round" fill="none" d="M1256.5 325.4h0M974.4 725.8h0M914.6 844.2h0M1031.7 931.1h0M865.8 735.1h0M1111.3 1118.1h0M890.3 1068.7h0M1170.1 1064.0h0M1059.8 803.6h0M996.9 796.3h0M1062.8 933.1h0M1074.4 1008.7h0M1026.7 935.2h0M1487.3 527.3h0M1526.8 561.3h0M1053.8 860.5h0M902.9 1195.0h0M1245.5 514.5h0M1145.3 308.9h0M824.6 851.4h0M768.0 1036.7h0M845.6 799.7h0M1108.4 873.4h0M1071.5 935.5h0M1072.5 998.7h0M1144.7 323.1h0M1061.0 932.8h0M1024.3 862.7h0M1107.8 890.1h0M863.3 823.0h0M1177.8 1057.9h0M1049.1 996.5h0M932.0 967.3h0M1040.5 1198.4h0M1026.8 991.0h0M1028.6 921.0h0"/><path stroke="#440f76" stroke-width="6.6" stroke-linecap="round" fill="none" d="M1004.2 813.9h0M847.0 815.9h0M1069.8 1032.5h0M998.7 938.5h0M835.1 854.0h0M852.2 1167.9h0M804.8 870.2h0M1246.9 310.4h0M988.4 738.6h0M821.6 853.1h0M1201.7 1013.7h0M802.3 854.4h0M1002.2 802.9h0M1276.5 343.3h0M1229.6 312.2h0M1025.6 928.3h0M1052.6 813.4h0M858.5 1178.2h0M1032.9 919.1h0M937.6 791.2h0M1243.5 390.1h0M1311.3 363.7h0M945.2 797.9h0M1220.8 1002.3h0M1214.8 932.1h0M734.7 1026.5h0M988.9 1148.1h0M921.7 739.2h0M882.1 1208.5h0M999.7 1110.1h0M984.0 1026.1h0M895.1 723.3h0M1123.0 334.4h0M1295.4 381.9h0M902.1 965.2h0M1171.8 1090.3h0M854.1 818.5h0M851.0 1151.4h0M902.5 702.6h0M972.3 1005.3h0M767.2 887.4h0M1084.0 911.3h0M1039.4 1008.1h0M1230.5 495.6h0M889.6 1066.5h0M932.9 1066.4h0M806.0 807.9h0M1242.6 376.8h0M1083.6 857.2h0M1236.6 496.7h0"/><path stroke="#1e1149" stroke-width="6.6" stroke-linecap="round" fill="none" d="M1000.1 1089.7h0M1006.2 860.8h0M1012.9 1068.9h0M1291.5 351.0h0M971.8 726.4h0M1062.1 814.9h0M1504.9 510.1h0M1042.7 948.1h0M1011.4 851.3h0M1092.8 864.8h0M812.1 811.9h0M919.1 999.9h0M835.4 866.2h0M979.8 742.4h0M1051.8 929.3h0M1294.7 396.2h0M1037.5 1036.4h0M1034.3 927.8h0M978.5 929.7h0M1011.4 1144.6h0M1290.2 400.2h0M971.0 1166.8h0"/><path stroke="#491078" stroke-width="6.6" stroke-linecap="round" fill="none" d="M1156.6 374.3h0M897.2 809.8h0M997.6 790.8h0M1136.4 1116.2h0M971.6 1210.2h0M847.0 1124.5h0M1153.3 967.8h0M1045.4 1086.0h0M971.5 730.3h0M1003.5 911.8h0M1140.5 975.4h0M901.5 1034.7h0M1212.6 968.2h0M987.7 1146.3h0M978.3 728.5h0M913.3 794.3h0M1253.8 473.8h0M977.2 1145.2h0M893.2 1147.8h0M709.0 1098.2h0M700.1 1086.1h0M1225.8 317.8h0M1271.5 355.7h0M903.7 989.3h0M1252.2 319.0h0M955.7 801.2h0M1129.8 975.9h0M1025.1 825.1h0M982.1 1161.9h0M1156.1 1094.7h0M1040.4 845.0h0M1218.3 1020.2h0M1215.1 943.3h0M1122.2 324.0h0M951.4 1016.6h0M1496.5 524.2h0M1250.5 955.1h0M919.9 1109.4h0"/><path stroke="#4c117a" stroke-width="6.6" stroke-linecap="round" fill="none" d="M942.0 1108.9h0M1290.6 345.7h0M975.4 934.4h0M1002.4 909.1h0M871.6 1177.9h0M1135.0 342.7h0M861.4 1100.5h0M1262.9 479.2h0M842.4 796.9h0M995.3 1103.1h0M988.3 942.3h0M946.3 800.4h0M1002.4 1220.2h0M1025.5 794.5h0M1269.5 351.4h0M1179.5 831.5h0M996.2 1067.8h0M810.9 866.1h0M827.4 805.7h0M814.0 870.4h0M1278.5 328.2h0M1108.7 1129.6h0M836.7 853.9h0M806.4 842.1h0M1026.6 794.5h0M1264.5 337.3h0M689.6 1037.3h0M906.8 1210.4h0M868.6 736.2h0M936.5 1056.0h0M1152.9 323.1h0M888.0 1130.9h0M1173.3 1028.7h0M1251.5 489.8h0M872.2 752.9h0M1281.5 398.3h0M923.0 915.8h0M879.0 738.8h0M998.2 813.4h0M1227.8 323.6h0M966.5 727.2h0M816.0 839.6h0M1001.7 800.4h0M1178.6 453.4h0M1253.5 326.2h0M824.7 838.5h0M805.5 850.7h0M1244.0 490.4h0M1210.4 1047.6h0"/><path stroke="#762181" stroke-width="6.6" stroke-linecap="round" fill="none" d="M686.4 1003.9h0M1251.8 315.5h0M1117.4 807.7h0M1273.8 969.5h0M1223.3 429.4h0M1114.9 777.3h0M875.4 797.6h0M1140.4 794.3h0M1185.5 327.9h0M749.8 950.7h0M1140.5 323.5h0M1110.7 1006.9h0M1012.9 843.6h0"/><path stroke="#471078" stroke-width="6.6" stroke-linecap="round" fill="none" d="M1007.2 830.0h0M1054.9 1001.0h0M1282.2 377.5h0M1197.4 389.5h0M1256.4 344.9h0M794.8 829.9h0M908.2 797.7h0M1499.7 518.4h0M869.3 819.0h0M1163.5 1017.4h0M877.1 806.9h0M1273.6 476.3h0M1260.9 483.6h0M1182.0 1061.5h0M910.8 844.3h0M976.8 867.0h0M1163.9 313.8h0M975.6 871.8h0M778.5 931.4h0M1297.6 399.4h0M1269.3 405.7h0M1177.9 968.4h0M888.7 1090.1h0M1223.6 315.7h0M1059.8 1165.9h0M1169.6 1067.6h0M1144.2 839.6h0M1022.6 826.1h0M1226.0 311.7h0M1074.6 1154.4h0M888.8 715.8h0M1019.3 1062.7h0M1239.2 316.1h0M1032.0 838.9h0M1257.1 349.9h0M855.1 1115.1h0M796.0 851.5h0M1006.0 1165.0h0M1093.1 958.7h0M1083.2 863.5h0"/><path stroke="#57157e" stroke-width="6.6" stroke-linecap="round" fill="none" d="M806.1 815.4h0M770.2 921.6h0M859.8 858.9h0M1483.4 516.3h0M772.0 1035.9h0M938.1 974.7h0M1521.3 573.6h0M1522.3 566.6h0M754.3 1005.8h0M1105.3 1131.7h0M961.1 817.0h0M953.8 811.8h0M996.8 1003.1h0M1272.3 336.5h0M754.3 1069.0h0M1273.5 401.3h0M922.4 960.1h0M997.3 1139.4h0M875.5 816.9h0M1250.7 357.0h0M1530.5 564.8h0M823.7 805.2h0M1275.2 464.8h0"/><path stroke="#3f0f72" stroke-width="6.6" stroke-linecap="round" fill="none" d="M900.5 1120.6h0M1013.2 1164.8h0M957.7 727.0h0M1190.2 1070.8h0M1068.2 990.2h0M887.0 1143.9h0M943.1 1184.9h0M1007.1 1121.3h0M848.3 1106.2h0M1058.7 1028.0h0M881.7 1144.8h0M1015.0 996.8h0M1005.5 843.0h0M931.2 1096.2h0M1003.2 898.7h0M820.7 1124.4h0M924.4 1094.5h0M946.0 804.7h0M981.6 863.5h0M1260.0 354.1h0M1178.3 1044.1h0M1186.7 1057.6h0M855.6 773.3h0M1065.2 1047.7h0M1268.0 399.0h0M897.9 745.5h0M850.6 847.3h0M1045.9 1087.0h0M881.8 1005.9h0M1187.4 976.9h0M931.5 1005.7h0M963.8 1086.4h0M913.3 1061.8h0M880.8 1066.0h0M962.0 718.1h0M880.7 826.8h0M1171.8 1012.4h0M1237.6 316.9h0M1185.6 393.8h0M890.9 815.6h0M943.0 1234.7h0M904.5 1119.5h0M867.6 1164.8h0M951.4 1000.3h0M1038.8 879.5h0M1106.7 1133.5h0M809.4 854.6h0"/><path stroke="#e85362" stroke-width="6.6" stroke-linecap="round" fill="none" d="M1343.3 649.5h0M489.5 222.5h0M1114.3 413.3h0M1103.8 421.4h0M1195.2 412.1h0"/><path stroke="#451077" stroke-width="6.6" stroke-linecap="round" fill="none" d="M1234.7 327.8h0M1174.0 320.7h0M920.1 959.1h0M815.6 806.7h0M1028.8 1140.9h0M721.5 1091.4h0M1018.4 880.6h0M1186.3 1024.6h0M855.2 824.1h0M862.8 854.4h0M915.1 1002.1h0M788.8 1091.9h0M870.4 1149.5h0M882.9 821.8h0M1072.0 831.0h0M1502.2 507.5h0M1173.5 955.1h0M888.2 724.7h0M1228.6 950.2h0M834.7 835.3h0M1088.2 868.4h0M1250.7 450.6h0M960.1 729.5h0M1256.6 352.7h0M790.3 832.6h0M1029.7 1048.5h0M1242.0 522.0h0M1118.7 317.8h0M1190.5 456.1h0M904.7 1004.6h0M983.1 741.4h0M1026.3 811.6h0M925.3 711.6h0M870.8 752.9h0"/><path stroke="#902a81" stroke-width="6.6" stroke-linecap="round" fill="none" d="M1203.4 388.5h0M1245.5 333.7h0M1250.7 496.5h0M1304.9 357.6h0M1194.1 276.4h0M1266.8 482.6h0M704.2 1081.3h0"/><path stroke="#271258" stroke-width="6.6" stroke-linecap="round" fill="none" d="M1094.3 902.4h0M1052.7 934.0h0M984.9 890.6h0M1139.7 976.1h0M1200.5 1051.9h0M1030.5 911.4h0M905.3 736.5h0M991.9 796.6h0M1171.5 974.8h0M1093.2 919.4h0M1008.0 837.7h0M801.9 796.6h0M1109.8 868.3h0M1208.8 992.5h0M1092.7 874.1h0M891.5 1048.0h0M1245.4 332.4h0M964.6 1154.1h0M1060.0 1010.7h0M1091.7 877.6h0M1020.9 1119.4h0M1048.7 855.6h0M883.2 1135.1h0M1088.3 902.0h0M904.2 1076.1h0M906.1 795.2h0M855.5 1167.1h0M1026.8 984.9h0M1239.6 331.3h0M1071.7 917.1h0M833.3 798.2h0M895.3 806.6h0M805.0 875.1h0M1077.1 876.3h0M1097.7 912.5h0M1234.7 321.1h0M1063.3 968.4h0M1034.0 1153.0h0M1110.0 859.3h0M1259.7 328.8h0M1054.9 1189.0h0M1250.3 746.5h0M964.4 1198.6h0M1529.7 572.4h0M1281.2 352.5h0"/><path stroke="#651a80" stroke-width="6.6" stroke-linecap="round" fill="none" d="M1224.1 676.1h0M801.2 803.5h0M1235.8 321.4h0M840.7 854.9h0M865.1 756.2h0M870.7 827.3h0M910.1 1123.3h0M1214.7 832.9h0M1255.4 483.3h0M978.2 803.0h0M801.1 928.2h0M844.6 856.0h0M1118.5 1018.6h0M1233.0 319.0h0M1280.4 375.8h0M1239.7 755.9h0M1138.3 830.3h0M720.4 1005.2h0M801.5 850.9h0M895.9 805.3h0M804.4 838.6h0M1189.6 847.0h0M1306.4 345.0h0"/><path stroke="#20114b" stroke-width="6.6" stroke-linecap="round" fill="none" d="M1086.9 977.6h0M1052.1 846.0h0M940.8 1103.6h0M1027.1 988.0h0M1286.7 328.9h0M901.7 736.6h0M1144.7 338.3h0M1050.2 1180.8h0M1268.7 402.3h0M1027.4 910.5h0M1049.0 1041.0h0M1052.2 863.5h0M1141.7 1090.3h0M1268.3 329.9h0M923.9 825.4h0M1027.3 838.4h0M839.9 833.9h0M1028.5 1175.4h0M1057.0 959.1h0M1038.6 1127.8h0M1038.4 801.4h0"/><path stroke="#b0357b" stroke-width="6.6" stroke-linecap="round" fill="none" d="M1170.7 449.3h0M1276.8 472.5h0M1191.0 672.7h0M1184.0 381.5h0"/><path stroke="#fd9a6a" stroke-width="6.6" stroke-linecap="round" fill="none" d="M1332.9 658.1h0M649.6 568.0h0M668.8 563.2h0M657.6 574.4h0M1720.0 841.0h0M652.0 569.6h0M646.4 549.6h0"/><path stroke="#b3367a" stroke-width="6.6" stroke-linecap="round" fill="none" d="M1152.3 378.3h0M1293.6 340.1h0M1250.5 501.1h0M1286.9 340.8h0"/><path stroke="#3d0f71" stroke-width="6.6" stroke-linecap="round" fill="none" d="M862.0 737.4h0M1018.5 838.3h0M1184.7 946.8h0M854.7 824.0h0M1010.2 812.9h0M968.2 1088.1h0M1244.0 387.7h0M833.8 823.1h0M1168.2 776.7h0M920.2 1129.2h0M906.0 722.0h0M1027.0 1196.5h0M1067.5 966.7h0M870.0 1182.6h0M1057.5 980.5h0M902.5 700.7h0M1156.6 1077.6h0M1191.7 325.2h0M1125.3 335.4h0M1034.2 830.3h0M1521.9 558.7h0M1039.1 1210.9h0M1192.7 1052.2h0M1227.9 936.2h0M993.8 1039.6h0M1224.3 769.0h0M841.3 863.8h0M877.4 1205.7h0M953.7 718.2h0M1245.1 330.7h0M1288.7 397.2h0M1211.2 1028.2h0M922.6 1159.7h0M1236.6 330.9h0M960.8 1142.1h0M1090.8 924.2h0M1126.9 963.4h0M1174.0 834.9h0M1100.6 1140.2h0M1227.3 323.2h0M1257.7 350.3h0M1128.2 754.6h0"/><path stroke="#2c115f" stroke-width="6.6" stroke-linecap="round" fill="none" d="M866.5 836.3h0M943.7 1128.6h0M823.2 793.3h0M947.4 718.5h0M874.0 806.6h0M1056.5 817.0h0M1086.8 887.2h0M1057.3 869.1h0M914.3 717.7h0M1221.5 439.5h0M1144.2 1094.8h0M1193.1 1012.0h0M1286.7 388.2h0M1168.4 1064.8h0M816.4 1138.1h0M1032.4 917.7h0M991.7 1016.5h0M994.7 920.6h0M1295.0 354.5h0M1024.8 1000.6h0M829.9 790.4h0M1042.7 996.7h0M946.2 1107.5h0M1050.4 899.2h0M1003.6 1214.0h0M1044.9 822.2h0M1030.6 818.7h0M891.0 1199.3h0M1044.9 1132.1h0M857.8 796.0h0M1138.4 987.3h0M1011.4 943.9h0"/><path stroke="#36106b" stroke-width="6.6" stroke-linecap="round" fill="none" d="M802.0 830.2h0M1054.7 961.5h0M1191.4 735.9h0M1105.3 912.6h0M880.1 724.1h0M820.3 1149.7h0M960.1 1214.3h0M763.9 917.3h0M1183.8 964.5h0M965.5 807.2h0M977.4 1143.8h0M845.0 856.3h0M1056.7 1058.7h0M966.4 810.8h0M1055.3 856.3h0M812.7 1027.7h0M989.4 1050.5h0M914.9 734.3h0M850.7 818.5h0M957.3 809.9h0M1179.3 1040.6h0M1191.5 1035.9h0M1060.3 994.8h0M1143.5 314.6h0M1087.4 867.6h0M958.5 1139.5h0M819.8 843.5h0M1056.1 869.8h0M1519.8 565.2h0M1185.3 953.2h0M858.8 760.0h0M825.5 787.6h0M1153.6 866.3h0M1084.5 930.1h0M1061.2 945.7h0"/><path stroke="#e34e65" stroke-width="6.6" stroke-linecap="round" fill="none" d="M1211.2 402.4h0M1178.9 381.7h0M1204.1 433.4h0"/><path stroke="#140e36" stroke-width="6.6" stroke-linecap="round" fill="none" d="M1045.0 1176.0h0M1006.8 921.4h0M1027.8 877.6h0M1020.2 828.6h0M1260.6 375.4h0M820.8 1144.1h0M1066.2 808.1h0M1255.7 385.2h0M1029.2 1035.2h0M1098.4 958.5h0"/><path stroke="#9e2f7f" stroke-width="6.6" stroke-linecap="round" fill="none" d="M1262.5 461.3h0M1247.1 323.8h0M1262.0 407.1h0M1204.5 335.4h0M1294.0 326.7h0"/><path stroke="#6b1d81" stroke-width="6.6" stroke-linecap="round" fill="none" d="M1203.3 330.7h0M709.9 946.1h0M997.0 749.3h0M1014.1 810.4h0M1271.2 471.0h0M1287.9 466.6h0M1231.7 383.9h0M1195.7 747.1h0M832.7 794.7h0M703.3 945.2h0M968.7 1082.5h0M741.3 942.6h0M976.6 800.6h0M970.9 722.6h0M886.9 727.6h0M1486.0 521.0h0M1294.8 461.5h0M1254.1 377.6h0M1157.3 466.1h0M814.6 839.3h0M1267.9 488.3h0M1158.1 320.1h0M1206.5 943.7h0M1170.0 710.3h0M1117.8 313.1h0M867.7 1098.5h0M945.6 1064.8h0M812.8 793.9h0M991.9 733.0h0M703.1 1081.2h0M1286.3 333.3h0"/><path stroke="#2f1163" stroke-width="6.6" stroke-linecap="round" fill="none" d="M884.8 1173.0h0M1061.6 946.6h0M1032.7 837.0h0M1127.3 1103.3h0M1041.8 909.6h0M940.1 1073.4h0M1023.1 944.8h0M1246.6 479.9h0M822.7 807.2h0M805.6 856.4h0M1027.1 1203.0h0M1217.4 441.0h0M999.4 962.3h0M1078.5 829.7h0M1131.2 325.5h0M1146.8 834.9h0M797.7 854.5h0M851.2 752.5h0M888.5 791.8h0M1030.3 1021.7h0M1045.3 1038.2h0M909.7 734.4h0M870.9 807.9h0M1088.7 958.6h0M1190.0 1058.4h0M1025.5 1131.5h0M1019.8 937.8h0M1195.0 736.8h0M1082.0 934.2h0M851.1 862.2h0M1162.4 317.1h0M1013.6 1222.2h0M1080.0 885.5h0M1044.2 1075.7h0M1139.4 314.6h0M997.2 826.8h0M1170.4 1083.7h0M1076.5 958.6h0"/><path stroke="#e04c67" stroke-width="6.6" stroke-linecap="round" fill="none" d="M1112.1 413.8h0M1152.8 386.2h0M491.0 224.0h0M1191.4 338.6h0M1113.3 410.3h0M1168.4 361.0h0M1110.5 413.3h0"/><path stroke="#a6317d" stroke-width="6.6" stroke-linecap="round" fill="none" d="M1294.8 370.6h0M1299.5 466.0h0M1197.2 328.4h0M1296.8 339.5h0M1115.0 415.1h0M1187.3 354.6h0M1179.9 361.2h0M1261.9 372.4h0M1226.0 313.1h0"/><path stroke="#4e117b" stroke-width="6.6" stroke-linecap="round" fill="none" d="M896.5 748.5h0M1285.6 341.8h0M1150.8 1100.5h0M896.7 1034.5h0M952.9 826.6h0M1014.1 939.1h0M791.0 842.8h0M700.2 1065.7h0M1184.4 982.9h0M1175.7 981.0h0M977.3 731.0h0M1007.5 789.7h0M878.9 1155.6h0M1146.7 338.6h0M831.6 794.8h0M1304.6 350.6h0M1261.6 391.5h0M801.1 828.8h0M823.4 859.1h0M919.7 709.9h0M1144.6 338.4h0M800.1 863.0h0M883.6 810.9h0M1163.2 318.7h0M963.2 902.5h0M1218.2 465.5h0M909.6 816.4h0M1216.0 945.6h0M1242.9 698.2h0M1275.0 473.7h0M854.4 846.0h0M1150.5 380.0h0M891.8 1035.5h0M1285.4 359.1h0M1111.7 776.1h0M1297.6 363.6h0M821.3 805.8h0"/><path stroke="#b5367a" stroke-width="6.6" stroke-linecap="round" fill="none" d="M1173.2 395.5h0M1192.4 390.6h0M1235.3 484.1h0M1270.9 335.3h0M1154.1 382.3h0M1258.0 382.1h0"/><path stroke="#932b80" stroke-width="6.6" stroke-linecap="round" fill="none" d="M1271.9 475.8h0M1282.8 458.1h0M1265.4 327.9h0M1219.7 360.8h0M1262.5 396.8h0M1267.1 468.6h0M1265.4 383.9h0M1256.2 497.1h0M824.3 916.4h0"/><path stroke="#5a167e" stroke-width="6.6" stroke-linecap="round" fill="none" d="M824.9 789.8h0M1258.6 369.2h0M855.4 825.8h0M830.2 856.9h0M1262.4 397.3h0M1183.5 956.8h0M1497.5 532.5h0M717.2 1062.7h0M902.0 717.0h0M1287.3 319.7h0M866.0 802.7h0M1247.9 493.7h0M1261.7 333.3h0M1145.9 986.6h0M816.1 827.3h0M1023.5 823.3h0M1290.0 364.7h0M1493.8 535.0h0M933.9 795.9h0M1181.0 678.7h0M966.5 727.8h0"/><path stroke="#160f3b" stroke-width="6.6" stroke-linecap="round" fill="none" d="M1019.5 1226.8h0M1024.9 798.7h0M1035.0 1121.0h0M976.4 956.1h0M1174.7 974.7h0M1079.4 863.3h0M1060.0 826.6h0M1021.1 1064.1h0M1035.8 890.9h0M1264.7 361.8h0M1027.5 1070.3h0M1025.2 802.9h0M1234.7 942.4h0M1099.3 871.9h0M1043.2 1140.4h0M1017.1 1039.7h0"/><path stroke="#5f187f" stroke-width="6.6" stroke-linecap="round" fill="none" d="M988.1 1132.6h0M878.2 838.0h0M1186.9 852.4h0M758.4 889.4h0M907.9 701.0h0M1496.8 522.2h0M1162.4 442.1h0M891.2 813.1h0M966.9 793.9h0M910.7 715.1h0M1263.3 338.9h0M834.2 1146.4h0M1125.7 1108.1h0M990.5 982.5h0M1236.5 309.0h0M987.2 804.7h0M947.2 794.8h0M856.8 810.7h0M1310.6 347.2h0M910.8 802.6h0M1210.2 1009.6h0M828.8 853.8h0M1497.1 532.8h0M1308.0 361.4h0M705.3 992.4h0M828.6 1045.7h0"/><path stroke="#2a115c" stroke-width="6.6" stroke-linecap="round" fill="none" d="M837.6 822.2h0M1498.5 521.8h0M1181.7 1041.8h0M885.0 903.2h0M1032.8 964.2h0M1191.9 999.8h0M1189.3 1007.8h0M1035.0 1169.3h0M1189.5 990.9h0M1043.5 1132.1h0M997.6 793.8h0M986.5 921.1h0M1016.2 815.5h0M965.1 716.3h0M1079.0 900.2h0M1222.0 1043.9h0M1100.7 904.5h0M910.4 1223.3h0M868.9 1184.1h0M1123.5 317.6h0M1053.0 1010.4h0M1016.2 1209.0h0M991.1 1148.6h0M1240.8 478.7h0M1212.9 1040.9h0M1006.9 941.2h0"/><path stroke="#120d31" stroke-width="6.6" stroke-linecap="round" fill="none" d="M1050.8 882.7h0M1094.8 875.7h0M1010.1 1045.5h0M1072.7 887.3h0M1095.4 882.3h0M1023.3 1210.6h0M1053.5 991.1h0M1023.8 1148.8h0M1079.4 943.7h0M1079.1 943.8h0M1012.9 1105.7h0M1046.9 906.2h0"/><path stroke="#390f6e" stroke-width="6.6" stroke-linecap="round" fill="none" d="M1047.2 940.5h0M1025.0 957.2h0M1238.6 493.3h0M1293.6 341.3h0M996.2 1171.9h0M1012.9 1225.2h0M971.3 898.4h0M1011.5 923.3h0M854.4 751.7h0M1261.1 473.6h0M871.3 846.0h0M959.0 1064.2h0M934.1 799.8h0M1253.5 323.4h0M1235.2 384.4h0M931.9 799.5h0M1021.9 1125.3h0M943.3 1072.8h0M1048.4 844.0h0M1258.6 471.3h0M1240.9 387.3h0M761.7 1012.2h0M898.8 1057.4h0M1020.3 1022.0h0M1034.6 847.4h0M709.9 968.3h0M1230.9 958.9h0M918.3 714.3h0M960.0 977.0h0M1275.5 373.7h0M942.5 921.5h0M1495.1 506.8h0"/><path stroke="#621980" stroke-width="6.6" stroke-linecap="round" fill="none" d="M979.2 815.1h0M1268.0 480.5h0M1276.9 360.9h0M902.1 801.5h0M1243.0 692.9h0M970.4 902.9h0M991.7 754.3h0M895.1 1147.6h0M1259.2 489.5h0M1185.1 1029.1h0M1191.5 345.1h0M1526.4 563.3h0M935.9 818.9h0M1483.9 522.2h0M990.7 981.0h0M1249.8 498.3h0M1268.1 480.9h0M1130.5 309.5h0M1212.5 996.9h0M1130.4 817.2h0"/><path stroke="#311165" stroke-width="6.6" stroke-linecap="round" fill="none" d="M899.6 1134.2h0M1061.1 1031.5h0M745.8 1069.9h0M814.8 839.5h0M917.6 1217.4h0M989.2 852.2h0M1010.8 954.1h0M1035.6 928.6h0M1170.0 998.3h0M1495.0 518.8h0M1243.5 395.9h0M1144.3 320.8h0M968.5 1202.0h0M1103.6 927.3h0M827.4 820.8h0M1198.0 1023.7h0M1087.2 876.7h0M742.4 973.0h0M1267.8 332.0h0M1016.3 938.9h0M837.0 1125.9h0M908.5 1176.6h0M1107.9 913.2h0M799.9 831.0h0M1017.8 828.6h0M1066.8 856.0h0M864.2 896.2h0M1034.1 1201.6h0M1012.6 1137.3h0M934.9 717.0h0M1018.5 919.9h0M1050.2 1072.1h0"/><path stroke="#9c2e7f" stroke-width="6.6" stroke-linecap="round" fill="none" d="M1193.9 272.2h0M1237.3 311.1h0M1243.0 503.0h0M1274.7 375.6h0M1244.5 485.8h0M1193.9 667.2h0M1284.0 453.9h0"/><path stroke="#792282" stroke-width="6.6" stroke-linecap="round" fill="none" d="M986.9 749.0h0M1273.2 351.7h0M1289.5 329.7h0M1271.8 471.8h0M1235.8 651.8h0M1208.5 335.7h0M780.3 988.4h0M1288.1 353.9h0M717.4 1097.1h0M1488.9 519.3h0M1509.5 510.2h0M799.4 919.6h0M1219.5 414.4h0M1525.0 567.8h0"/><path stroke="#a8327d" stroke-width="6.6" stroke-linecap="round" fill="none" d="M1192.3 276.5h0M1226.2 396.6h0M1274.7 363.5h0"/><path stroke="#341069" stroke-width="6.6" stroke-linecap="round" fill="none" d="M899.7 794.5h0M1064.3 943.0h0M987.1 804.9h0M903.7 955.0h0M1196.9 964.2h0M1220.6 957.5h0M1009.8 837.5h0M1203.1 963.7h0M950.2 1204.4h0M1130.8 1117.4h0M1278.0 371.9h0M1065.9 938.5h0M874.0 1138.0h0M927.0 720.7h0M1052.6 952.0h0M1183.2 1034.6h0M897.4 808.8h0M957.7 1163.2h0M1272.2 334.6h0M1293.8 391.3h0M945.6 1165.6h0M1219.1 961.1h0M1163.7 1073.1h0M957.5 951.6h0M1176.3 455.9h0M1292.6 350.1h0M1118.4 890.0h0M1066.8 982.4h0M1225.0 759.4h0M951.8 1233.9h0M850.1 845.3h0M1251.1 396.4h0M1264.4 394.1h0M945.3 1142.5h0M971.3 955.1h0M964.4 1178.5h0M942.3 1215.6h0M1074.4 845.9h0M949.5 948.8h0M1295.4 329.8h0M1161.5 435.4h0M1215.7 1002.9h0M1212.9 1059.1h0"/><path stroke="#c73d73" stroke-width="6.6" stroke-linecap="round" fill="none" d="M1193.0 269.2h0M1211.1 443.1h0M1138.2 376.4h0M1180.2 337.9h0M1225.2 347.3h0"/><path stroke="#56147d" stroke-width="6.6" stroke-linecap="round" fill="none" d="M1493.0 514.7h0M1256.1 496.8h0M1287.7 373.1h0M1138.5 307.7h0M883.7 1015.9h0M1237.0 345.9h0M1178.1 948.2h0M916.6 894.5h0M998.4 1133.5h0M983.0 771.1h0M1494.3 529.3h0M954.3 727.7h0M1240.9 322.0h0M1304.6 357.2h0M1241.9 959.6h0M993.2 832.5h0M1008.8 815.3h0M1523.4 563.3h0M945.4 887.9h0M1522.7 566.6h0M791.8 852.1h0M975.2 792.3h0M1526.9 572.6h0M1275.6 318.8h0M918.7 741.6h0M1126.5 374.2h0M1271.4 367.6h0M1245.9 330.6h0M1142.2 1096.5h0M799.8 856.1h0M1017.1 933.5h0M1233.4 769.2h0M855.5 1151.5h0M1282.5 355.0h0M1493.0 510.2h0M897.6 822.5h0M1288.8 470.7h0M971.7 796.6h0M1505.6 513.9h0"/><path stroke="#721f81" stroke-width="6.6" stroke-linecap="round" fill="none" d="M1281.1 331.2h0M1284.6 380.4h0M828.5 838.4h0M947.6 1046.9h0M995.4 816.2h0M1120.7 1086.8h0M1225.0 380.3h0M1492.5 508.9h0M979.4 734.7h0M915.7 801.8h0M1269.1 405.2h0M1111.0 765.9h0M1299.8 449.2h0M856.8 799.9h0M1025.4 831.3h0M738.6 1107.2h0M792.5 1044.4h0M1181.6 357.7h0"/><path stroke="#a1307e" stroke-width="6.6" stroke-linecap="round" fill="none" d="M1639.4 737.6h0M1716.0 840.0h0M1181.5 378.5h0M1711.0 903.0h0M1335.2 653.8h0M1718.0 910.0h0M1329.5 657.1h0M618.4 517.2h0M495.0 228.0h0M642.4 514.4h0M1621.6 689.1h0M1339.0 651.4h0M658.4 576.8h0M1508.2 566.6h0M1766.0 806.5h0M640.0 506.0h0M629.6 571.2h0M1620.7 713.4h0M1589.4 509.6h0M1498.8 592.7h0M1558.6 522.7h0M1524.0 519.9h0M1210.1 427.7h0M493.0 226.5h0M1587.1 643.3h0M1718.0 846.0h0M1649.6 722.7h0M1221.0 321.0h0M1724.0 848.0h0M1490.4 571.2h0M1597.8 504.0h0M1121.3 1103.0h0"/><path stroke="#1d1147" stroke-width="6.6" stroke-linecap="round" fill="none" d="M1011.8 927.5h0M1086.0 898.8h0M1046.3 959.5h0M1071.6 1027.0h0M1041.6 980.7h0M1058.3 1038.7h0M1064.3 873.2h0M1070.6 865.0h0M993.3 1029.0h0M1255.3 335.7h0M1053.7 958.7h0M1040.2 978.1h0M994.3 940.6h0M1041.5 928.3h0M1170.4 1068.0h0M1158.7 1099.5h0M1095.8 919.3h0M1047.7 937.9h0M1041.0 825.8h0M876.8 748.9h0M1097.3 855.0h0M1048.9 1057.2h0M1222.2 956.9h0M933.4 702.1h0M1140.6 328.7h0"/><path stroke="#1c1044" stroke-width="6.6" stroke-linecap="round" fill="none" d="M928.6 1200.0h0M1036.8 924.1h0M1050.3 946.9h0M1056.3 828.8h0M1075.7 824.9h0M1057.5 884.9h0M1021.8 907.9h0M1142.8 324.5h0M1023.8 933.2h0M1046.0 960.8h0M1109.9 870.7h0M816.2 858.5h0M1202.1 1017.6h0M945.6 791.2h0M1054.6 1183.0h0M1049.2 1006.3h0M917.0 1122.3h0M1035.0 852.2h0M1014.3 1068.1h0M1002.3 801.2h0M966.7 1097.6h0"/><path stroke="#ed5a5f" stroke-width="6.6" stroke-linecap="round" fill="none" d="M1770.0 803.0h0M646.4 565.6h0M1638.4 733.9h0M666.4 572.8h0M658.4 557.6h0M663.2 566.4h0M652.0 566.4h0M648.0 523.6h0M1772.0 801.0h0M1659.0 726.4h0M1773.0 800.0h0M1768.0 805.0h0M664.8 558.4h0M1229.0 454.0h0M1723.0 845.0h0M1725.0 842.0h0M656.0 563.2h0M1653.4 725.5h0"/><path stroke="#ae347b" stroke-width="6.6" stroke-linecap="round" fill="none" d="M1240.6 485.3h0M1228.4 494.1h0M1199.3 287.9h0M1253.5 375.2h0"/><path stroke="#832681" stroke-width="6.6" stroke-linecap="round" fill="none" d="M1300.5 385.1h0M1283.3 369.1h0M1200.2 343.7h0M984.9 788.7h0M804.4 1099.2h0"/><path stroke="#6a1c81" stroke-width="6.6" stroke-linecap="round" fill="none" d="M925.2 901.8h0M1230.8 412.2h0M901.4 1066.6h0M1106.2 1087.6h0M709.8 1066.0h0M1288.1 362.7h0M890.9 810.2h0M920.3 730.9h0M1276.1 464.1h0M1235.1 752.9h0M703.2 937.4h0M1187.8 949.8h0M787.6 1003.5h0M1017.6 846.1h0M902.6 726.4h0M1289.1 326.5h0M1209.5 420.5h0M1301.7 358.0h0M931.4 1051.4h0M1250.1 492.0h0"/><path stroke="#7b2382" stroke-width="6.6" stroke-linecap="round" fill="none" d="M1169.8 372.3h0M866.6 821.6h0M997.3 828.0h0M766.0 1061.2h0M1132.3 313.2h0M795.4 844.9h0M1093.9 776.8h0M695.9 1074.6h0M987.6 725.6h0M1200.9 677.1h0M701.9 1090.0h0M820.5 821.3h0"/><path stroke="#7e2482" stroke-width="6.6" stroke-linecap="round" fill="none" d="M1297.4 463.3h0M1173.6 683.4h0M1256.3 445.4h0M1303.1 345.6h0M738.9 1048.6h0M1246.3 504.0h0M1215.9 834.2h0M1247.8 760.3h0M1204.9 476.0h0M1204.9 782.2h0M1519.8 557.3h0M830.4 1089.8h0"/><path stroke="#1a1042" stroke-width="6.6" stroke-linecap="round" fill="none" d="M1048.3 1047.8h0M859.6 755.3h0M1030.0 799.1h0M1022.7 886.9h0M1019.0 1069.8h0M1023.9 803.5h0M1030.2 1019.5h0M1062.1 865.8h0M854.3 802.3h0M1282.8 327.9h0M1050.2 1055.6h0M798.2 852.6h0M1064.9 1047.7h0M1031.3 916.1h0M955.0 873.7h0M1092.4 911.3h0"/><path stroke="#331067" stroke-width="6.6" stroke-linecap="round" fill="none" d="M1222.7 1031.1h0M973.3 1164.9h0M972.5 1056.2h0M902.5 1185.8h0M916.3 806.9h0M1006.7 1110.5h0M966.8 979.5h0M963.2 1111.2h0M813.2 787.0h0M972.3 1157.2h0M805.7 816.2h0M1061.3 1043.2h0M1010.8 1018.4h0M1068.1 907.1h0M1240.0 540.0h0M1206.4 968.2h0M992.2 822.5h0M974.8 1167.0h0M1244.0 393.1h0M1114.4 873.6h0M907.7 989.0h0M1050.9 903.8h0M926.0 814.9h0M998.1 833.8h0M1029.2 1184.3h0M955.5 1010.0h0M1140.0 411.0h0M1051.0 934.2h0M1138.0 317.4h0M1256.0 327.7h0M1264.7 381.2h0M991.5 879.6h0M850.0 841.3h0M1152.4 994.6h0M949.8 722.7h0M897.6 816.9h0"/><path stroke="#ab337c" stroke-width="6.6" stroke-linecap="round" fill="none" d="M1259.4 441.5h0M1229.0 377.6h0M1204.7 671.5h0"/><path stroke="#51127c" stroke-width="6.6" stroke-linecap="round" fill="none" d="M1246.0 341.6h0M924.0 800.2h0M1275.2 476.6h0M1236.0 544.3h0M963.3 812.8h0M913.3 1199.7h0M835.1 797.6h0M1026.2 906.7h0M924.9 894.0h0M758.4 1079.6h0M864.6 789.0h0M816.0 875.8h0M1027.6 890.0h0M837.9 817.1h0M1019.4 810.2h0M739.4 1020.1h0M1178.3 1013.5h0M938.8 1229.2h0M1145.2 1094.4h0M983.4 1145.4h0M1148.7 1084.7h0M755.5 1058.2h0M1209.1 1030.6h0M796.6 840.2h0M853.1 797.0h0M1136.4 337.4h0"/><path stroke="#3b0f70" stroke-width="6.6" stroke-linecap="round" fill="none" d="M699.6 1013.0h0M964.5 716.1h0M909.6 1212.2h0M704.2 1023.3h0M1126.7 324.9h0M982.7 958.5h0M1122.4 1107.6h0M1348.1 651.0h0M1040.2 1182.0h0M1084.2 876.5h0M713.2 1044.3h0M1230.3 945.2h0M997.6 1205.1h0M935.0 1112.1h0M1182.1 1042.8h0M722.4 956.3h0M1240.2 947.6h0M910.4 947.7h0M842.7 1136.2h0M1137.5 1090.4h0M1038.5 1035.2h0M1156.7 1083.2h0M826.3 798.1h0M986.0 960.6h0M1251.4 478.4h0M1006.8 932.6h0M808.3 812.8h0M879.1 1176.1h0M896.6 727.9h0M1047.7 1066.8h0M1277.3 333.5h0M898.2 1212.8h0M1486.9 516.2h0M931.8 1061.6h0M1143.6 337.0h0M1267.1 358.1h0M901.4 949.9h0M949.6 719.7h0M1092.4 939.3h0M1259.9 380.3h0M1205.3 1008.5h0"/><path stroke="#ea5661" stroke-width="6.6" stroke-linecap="round" fill="none" d="M1167.6 377.8h0"/><path stroke="#5d177f" stroke-width="6.6" stroke-linecap="round" fill="none" d="M864.5 801.6h0M834.9 796.1h0M985.5 729.7h0M1227.6 787.7h0M897.6 793.4h0M980.0 789.3h0M796.8 852.1h0M983.5 1078.9h0M1281.7 397.4h0M1242.9 308.2h0M1025.7 845.0h0M1154.1 328.9h0M878.9 745.9h0M1526.7 560.6h0M909.1 1081.8h0M1262.4 315.4h0M1236.8 350.7h0M1227.9 1024.1h0M942.7 1107.3h0M940.3 804.8h0M1232.0 481.3h0M747.7 1056.1h0M779.1 889.0h0M1187.7 828.7h0M1306.9 347.2h0M850.5 925.9h0M1214.9 849.3h0M1150.2 1078.6h0M950.3 811.2h0M846.5 1039.4h0M887.2 724.0h0M1293.1 387.5h0M1136.5 784.3h0M981.6 1220.7h0M932.2 1137.5h0M1129.8 371.8h0M1026.8 792.4h0"/><path stroke="#aa337d" stroke-width="6.6" stroke-linecap="round" fill="none" d="M1249.1 477.4h0M1200.6 412.8h0M1257.9 433.8h0M1274.1 327.5h0M1203.3 344.7h0"/><path stroke="#4a1079" stroke-width="6.6" stroke-linecap="round" fill="none" d="M1086.0 924.8h0M1258.5 394.0h0M859.3 741.6h0M921.9 733.4h0M1497.6 520.9h0M1100.4 861.2h0M923.7 700.4h0M1108.2 1127.0h0M799.9 838.5h0M1174.9 1035.8h0M1282.7 462.7h0M959.2 719.9h0M958.2 794.1h0M927.2 797.5h0M1183.3 1056.7h0M1027.5 1017.7h0M1009.8 997.9h0M1000.9 1040.5h0M1092.4 901.1h0M1122.5 325.3h0M1186.7 977.0h0M894.3 751.1h0M1296.3 341.4h0M1020.0 1049.1h0M1168.3 978.4h0M1096.5 908.1h0M876.5 808.8h0M1000.8 820.6h0M914.9 843.3h0"/><path stroke="#420f75" stroke-width="6.6" stroke-linecap="round" fill="none" d="M1283.7 355.5h0M888.0 734.0h0M984.7 1175.9h0M877.2 834.7h0M1038.8 933.6h0M1261.6 367.6h0M1136.7 1112.3h0M702.0 1022.8h0M803.1 840.2h0M785.3 1070.8h0M1082.9 879.2h0M1533.9 563.3h0M1262.8 374.8h0M1000.5 1125.1h0M1290.8 363.9h0M989.4 816.5h0M944.5 708.9h0M1009.6 802.4h0M943.4 721.3h0M1488.7 516.3h0M1211.5 938.9h0M971.1 1159.7h0M1143.4 311.0h0M1044.9 967.1h0M1211.2 999.4h0M1052.7 939.8h0M942.8 797.5h0M1076.5 932.3h0M1185.1 1056.1h0M1500.5 522.9h0M817.5 818.9h0M984.7 893.6h0M1055.3 951.7h0M903.8 826.0h0M752.3 986.1h0M934.0 1121.9h0M1118.7 1110.7h0M1281.4 356.7h0M1256.2 381.0h0M979.4 1075.8h0"/><path stroke="#110c2f" stroke-width="6.6" stroke-linecap="round" fill="none" d="M1015.5 972.1h0M1044.4 1200.1h0M1045.8 901.5h0M1025.0 1203.2h0"/><path stroke="#bf3a77" stroke-width="6.6" stroke-linecap="round" fill="none" d="M1257.7 367.5h0M1201.2 347.2h0M1109.3 412.1h0"/><path stroke="#4f127b" stroke-width="6.6" stroke-linecap="round" fill="none" d="M1267.7 369.2h0M1287.3 381.3h0M821.7 1128.8h0M979.2 950.7h0M809.7 789.4h0M876.1 840.1h0M793.8 896.5h0M791.0 833.0h0M1190.0 1032.7h0M964.1 1171.0h0M980.9 887.4h0M1145.8 978.0h0M768.9 1095.6h0M739.8 942.8h0M1125.2 320.4h0M898.5 720.6h0M1127.3 1105.2h0M911.1 994.0h0M993.9 921.8h0M809.7 852.8h0M836.4 1117.9h0M932.3 895.7h0M1232.9 316.8h0M868.1 970.6h0M870.8 815.7h0M885.7 718.9h0M794.8 954.1h0M1296.0 341.3h0M839.8 869.5h0M953.0 867.8h0M1204.7 971.3h0M1261.9 394.0h0M912.2 965.7h0M1300.5 392.8h0M1138.6 363.0h0"/><path stroke="#54137d" stroke-width="6.6" stroke-linecap="round" fill="none" d="M1266.5 355.7h0M932.6 975.9h0M1229.9 795.3h0M964.5 1117.6h0M1289.6 463.6h0M1105.1 1133.4h0M1182.3 1075.8h0M1273.7 398.9h0M963.9 1127.3h0M1139.3 976.2h0M1010.0 974.7h0M1277.6 466.3h0M813.3 1086.8h0M1290.7 327.4h0M1217.8 986.3h0M852.6 755.3h0M868.6 850.3h0M972.8 734.8h0M1013.1 833.5h0M899.5 811.2h0M853.9 800.1h0M1190.6 1053.6h0M1083.7 945.2h0M1229.7 836.4h0M927.0 795.4h0M1184.2 1061.8h0M1485.0 519.2h0M973.8 877.1h0M912.4 806.4h0M868.7 1130.3h0M972.7 962.8h0M1137.8 327.3h0M946.9 1203.3h0M882.5 1066.3h0M1273.6 350.8h0M1187.5 364.5h0M1183.6 1025.4h0M811.0 899.5h0M963.4 1139.6h0M818.0 866.5h0M1268.3 346.7h0M1245.7 311.5h0M1257.0 393.9h0"/><path stroke="#8c2981" stroke-width="6.6" stroke-linecap="round" fill="none" d="M1210.1 422.8h0M723.5 1040.5h0M745.1 1032.4h0M1134.2 371.5h0M1213.0 329.6h0M1215.8 322.7h0M1220.4 394.8h0"/><path stroke="#7c2382" stroke-width="6.6" stroke-linecap="round" fill="none" d="M1190.1 320.4h0M1294.0 390.2h0M1161.8 378.6h0M910.2 816.7h0M1144.5 370.4h0M1268.3 389.7h0M1247.5 955.0h0M1256.4 347.2h0M838.6 826.8h0M1279.2 334.4h0M995.3 798.6h0M1240.0 560.3h0M1231.5 481.7h0"/><path stroke="#150e38" stroke-width="6.6" stroke-linecap="round" fill="none" d="M1118.5 861.0h0M1174.4 959.4h0M1037.4 1097.5h0M913.0 1112.7h0M1052.9 972.0h0M975.3 816.0h0M1026.6 897.7h0"/><path stroke="#d9466b" stroke-width="6.6" stroke-linecap="round" fill="none" d="M1208.4 340.3h0M1259.7 495.6h0M1147.9 370.1h0M1194.0 440.9h0M1206.2 325.4h0M1183.4 395.2h0"/><path stroke="#812581" stroke-width="6.6" stroke-linecap="round" fill="none" d="M989.2 803.2h0M992.1 808.8h0M1199.6 756.7h0M1132.4 1062.2h0M1282.3 363.7h0M891.9 724.4h0M1195.7 280.9h0M1126.3 330.6h0M1277.6 328.8h0M1231.8 383.4h0M901.9 930.6h0"/><path stroke="#962c80" stroke-width="6.6" stroke-linecap="round" fill="none" d="M1249.6 385.6h0M1200.1 395.5h0M1193.1 354.8h0"/><path stroke="#c53c74" stroke-width="6.6" stroke-linecap="round" fill="none" d="M1196.4 273.2h0"/><path stroke="#bc3978" stroke-width="6.6" stroke-linecap="round" fill="none" d="M1218.0 346.2h0M1158.9 377.6h0M1154.1 362.3h0M1229.2 375.1h0"/><path stroke="#802582" stroke-width="6.6" stroke-linecap="round" fill="none" d="M1203.1 445.2h0M1159.0 387.0h0M1272.8 473.3h0M1125.4 373.1h0M940.9 813.3h0M1091.3 1143.3h0M1290.1 461.7h0M1269.8 324.7h0M1264.2 331.9h0M1209.2 372.8h0M828.4 873.6h0"/><path stroke="#ee5b5e" stroke-width="6.6" stroke-linecap="round" fill="none" d="M1105.6 417.3h0"/><path stroke="#d3436e" stroke-width="6.6" stroke-linecap="round" fill="none" d="M1233.8 500.1h0M1162.3 381.5h0"/><path stroke="#52137c" stroke-width="6.6" stroke-linecap="round" fill="none" d="M1208.1 762.9h0M1271.3 966.9h0M1167.7 954.0h0M852.6 808.9h0M968.2 1140.8h0M1142.0 802.2h0M1136.6 1096.6h0M1228.7 345.3h0M1222.9 992.3h0M946.8 1012.1h0M1004.0 859.3h0M1143.9 321.8h0M865.5 896.5h0M916.3 699.9h0M984.4 853.8h0M811.9 788.9h0M909.8 847.1h0M1275.7 457.6h0M934.4 1105.6h0M1180.3 1029.6h0M1264.1 384.3h0M937.4 719.9h0M949.8 780.1h0M1195.1 436.5h0M887.4 1039.7h0M1140.2 1080.4h0M1247.1 518.2h0"/><path stroke="#5c167f" stroke-width="6.6" stroke-linecap="round" fill="none" d="M971.1 875.5h0M723.7 945.6h0M845.8 833.8h0M1169.9 988.8h0M1127.5 1091.8h0M914.5 805.7h0M990.8 1039.1h0M894.7 797.2h0M855.0 762.2h0M1006.9 805.3h0M906.7 1096.1h0M1263.5 396.7h0M818.3 1129.6h0M1239.2 388.0h0M896.2 717.7h0M1274.0 329.5h0M1265.2 348.4h0M974.6 819.5h0M994.4 845.9h0M979.0 808.2h0M767.6 959.3h0M1144.1 1086.2h0M855.2 1062.0h0M1141.9 733.2h0M931.4 984.5h0M907.4 891.3h0M824.5 872.8h0M1256.3 397.7h0M953.5 965.4h0M1214.9 1007.8h0M704.0 942.1h0M804.6 850.4h0M869.5 1155.5h0M1254.6 357.3h0"/><path stroke="#251255" stroke-width="6.6" stroke-linecap="round" fill="none" d="M994.1 1143.4h0M810.8 850.5h0M1034.8 938.9h0M1026.1 887.7h0M1498.7 526.9h0M971.3 923.2h0M1010.2 1000.1h0M1067.5 983.2h0M920.4 955.5h0M861.8 816.6h0M1056.9 1036.6h0M1265.6 337.8h0M880.5 762.1h0M1037.6 1082.0h0M954.1 893.3h0M1017.4 814.3h0M1254.4 397.3h0M1057.4 840.1h0M1067.3 929.4h0M1208.3 1059.5h0M1063.1 884.1h0M915.4 1172.3h0M917.2 1022.9h0M1068.7 821.5h0M943.6 1007.2h0M883.0 1213.3h0M1049.3 1169.3h0"/><path stroke="#d0416f" stroke-width="6.6" stroke-linecap="round" fill="none" d="M1092.1 420.9h0M1179.7 362.9h0M1194.1 320.0h0M1233.9 443.8h0"/><path stroke="#fde3a5" stroke-width="6.6" stroke-linecap="round" fill="none" d="M653.6 572.8h0M669.6 568.0h0M662.4 572.0h0"/><path stroke="#221150" stroke-width="6.6" stroke-linecap="round" fill="none" d="M1017.1 940.5h0M931.7 1202.6h0M1126.2 1114.2h0M1018.8 934.1h0M1155.0 985.3h0M1083.6 958.9h0M857.4 761.5h0M1274.1 362.9h0M1035.9 945.4h0M1073.2 813.1h0M1061.8 838.2h0M1119.4 867.9h0M1035.7 1200.6h0M1047.4 1112.2h0M907.9 794.5h0M1232.7 489.1h0M1024.1 930.1h0M952.6 720.3h0M822.3 799.0h0M1007.1 799.8h0M825.3 860.1h0M1023.7 814.2h0M1069.7 937.1h0M809.5 861.7h0M1187.3 1043.7h0"/><path stroke="#400f74" stroke-width="6.6" stroke-linecap="round" fill="none" d="M824.1 807.3h0M923.4 704.6h0M926.7 1118.4h0M887.7 1086.6h0M971.5 867.7h0M1292.5 367.8h0M1140.7 987.6h0M918.0 719.5h0M978.4 1173.3h0M952.7 724.8h0M1044.1 1128.6h0M850.8 1175.8h0M1030.6 906.2h0M847.4 815.2h0M955.1 977.0h0M1111.2 1128.8h0M898.3 792.6h0M1491.4 524.4h0M1075.2 815.2h0M1054.6 907.8h0M992.4 798.5h0M1173.2 953.5h0M933.6 1127.1h0M1177.9 1000.0h0M1256.3 397.4h0M906.1 1121.6h0M917.5 1145.1h0M1174.5 978.6h0M1281.6 369.0h0M1037.4 1179.3h0M1065.8 1036.8h0M1183.4 1032.6h0M1048.1 916.6h0M1244.5 949.6h0M1023.6 859.2h0M1126.0 829.4h0M907.8 1104.8h0M1030.5 905.8h0M923.8 1096.3h0M1093.5 915.8h0M922.9 1069.2h0M1275.7 355.2h0M837.3 840.9h0M1013.1 841.5h0M1241.6 491.8h0M890.7 748.1h0"/><path stroke="#862781" stroke-width="6.6" stroke-linecap="round" fill="none" d="M1286.9 340.1h0M767.2 894.5h0M1247.2 397.6h0M1233.8 492.5h0M1230.7 319.6h0M1117.2 797.7h0M1291.0 384.3h0M1195.6 278.6h0M803.8 1118.2h0M1267.7 375.6h0M1238.4 387.5h0"/><path stroke="#842681" stroke-width="6.6" stroke-linecap="round" fill="none" d="M386.0 500.3h0M1261.6 396.4h0M1240.1 479.2h0M1230.0 790.3h0M1260.6 377.7h0M1233.0 490.4h0"/><path stroke="#8e2a81" stroke-width="6.6" stroke-linecap="round" fill="none" d="M1142.1 382.4h0M1181.9 339.3h0M1294.5 383.6h0M1199.0 330.6h0M1166.0 327.0h0M1284.1 477.1h0M1256.9 372.2h0M1307.0 349.4h0M1189.3 333.7h0"/><path stroke="#681c81" stroke-width="6.6" stroke-linecap="round" fill="none" d="M1267.6 358.8h0M1524.7 568.0h0M1283.6 430.3h0M1306.3 362.4h0M974.9 1235.4h0M731.4 1058.6h0M838.6 829.7h0M982.5 873.1h0M1216.8 1022.6h0M827.4 846.4h0M890.0 727.4h0M1146.6 309.2h0M1290.2 357.8h0M1252.1 340.6h0M998.2 750.2h0M814.8 862.3h0M1213.8 853.3h0M811.1 855.0h0M1268.2 467.2h0"/><path stroke="#bd3977" stroke-width="6.6" stroke-linecap="round" fill="none" d="M1203.4 320.8h0M382.7 496.7h0M1227.5 385.4h0"/><path stroke="#180f3d" stroke-width="6.6" stroke-linecap="round" fill="none" d="M1046.7 922.8h0M1198.7 1034.1h0M1032.8 1164.3h0M1258.4 398.1h0M1067.5 1035.2h0M1039.0 980.0h0M1094.9 940.4h0M1061.4 832.9h0M1018.2 1162.3h0M1007.8 829.6h0M1075.6 879.3h0M1142.5 322.1h0M1053.9 828.7h0M1208.0 949.8h0"/><path stroke="#752181" stroke-width="6.6" stroke-linecap="round" fill="none" d="M1239.1 503.2h0M1134.1 323.4h0M981.3 724.6h0M796.8 1080.9h0M1225.8 777.3h0M1075.3 1149.3h0M1229.0 491.2h0M1137.8 338.6h0M869.6 806.4h0M1142.8 781.9h0M859.2 993.4h0M748.3 948.3h0M922.0 714.9h0"/><path stroke="#c43c75" stroke-width="6.6" stroke-linecap="round" fill="none" d="M1180.1 362.8h0M1278.8 457.1h0"/><path stroke="#f97b5d" stroke-width="6.6" stroke-linecap="round" fill="none" d="M1185.0 379.4h0M1197.2 276.1h0"/><path stroke="#f7725c" stroke-width="6.6" stroke-linecap="round" fill="none" d="M1198.7 443.9h0"/><path stroke="#c23b75" stroke-width="6.6" stroke-linecap="round" fill="none" d="M1263.4 467.2h0M1210.2 338.6h0M1247.9 454.9h0M1200.6 432.0h0M1190.2 334.6h0M1271.9 460.2h0"/><path stroke="#b73779" stroke-width="6.6" stroke-linecap="round" fill="none" d="M1264.8 363.9h0M1169.7 359.6h0M1206.0 385.8h0"/><path stroke="#8b2981" stroke-width="6.6" stroke-linecap="round" fill="none" d="M1267.6 469.4h0M837.6 822.9h0M1212.6 424.6h0M1209.5 333.8h0M1272.2 462.5h0M1267.7 339.4h0M1287.7 338.4h0M1264.8 348.0h0M1229.7 323.2h0M1227.4 491.0h0M1284.0 384.8h0"/><path stroke="#732081" stroke-width="6.6" stroke-linecap="round" fill="none" d="M697.5 1089.9h0M1240.8 454.2h0M1161.0 368.9h0M1158.2 763.9h0M887.6 809.1h0M1134.1 321.0h0M1303.3 361.4h0M863.5 840.5h0M1252.9 481.4h0M1017.3 835.3h0M941.5 790.1h0M1263.0 470.7h0M1144.3 373.0h0M1308.0 348.7h0M1274.1 374.7h0M1156.0 328.0h0M1112.0 791.6h0M1507.0 521.1h0M295.5 983.8h0M1286.9 330.0h0M878.1 790.1h0M1269.0 433.3h0M794.9 842.0h0"/><path stroke="#6e1e81" stroke-width="6.6" stroke-linecap="round" fill="none" d="M1198.5 824.5h0M1268.7 380.1h0M716.2 935.4h0M839.1 792.5h0M740.4 1089.3h0M949.5 718.4h0M892.2 828.4h0M742.2 1108.4h0M867.0 812.5h0M897.6 833.4h0M1528.4 557.8h0M1200.6 425.4h0M1193.1 442.0h0M971.5 817.8h0"/><path stroke="#100b2d" stroke-width="6.6" stroke-linecap="round" fill="none" d="M1039.5 960.5h0M1013.8 848.9h0M1017.4 1130.4h0"/><path stroke="#e75263" stroke-width="6.6" stroke-linecap="round" fill="none" d="M1107.0 418.7h0M1188.4 431.4h0M1189.5 325.2h0"/><path stroke="#6d1d81" stroke-width="6.6" stroke-linecap="round" fill="none" d="M1001.3 838.4h0M851.2 752.7h0M737.0 1072.5h0M1239.8 308.3h0M1222.7 794.1h0M1120.2 314.0h0M702.5 954.2h0M1234.9 647.8h0M1249.0 339.1h0M1273.3 376.0h0M954.1 1174.3h0M850.5 796.1h0M1280.0 455.1h0M1281.8 318.2h0"/><path stroke="#f9785d" stroke-width="6.6" stroke-linecap="round" fill="none" d="M1194.8 442.3h0"/><path stroke="#ef5d5e" stroke-width="6.6" stroke-linecap="round" fill="none" d="M1176.2 373.5h0"/><path stroke="#f4695c" stroke-width="6.6" stroke-linecap="round" fill="none" d="M1202.7 431.3h0M1163.7 383.9h0"/><path stroke="#882781" stroke-width="6.6" stroke-linecap="round" fill="none" d="M1275.4 324.0h0M1242.8 763.2h0M1263.1 477.4h0M1211.6 384.8h0M1210.7 369.1h0M1255.8 476.5h0M806.2 902.8h0M1285.8 324.0h0M1309.8 363.8h0"/><path stroke="#19103f" stroke-width="6.6" stroke-linecap="round" fill="none" d="M1016.0 824.1h0M1010.8 1106.4h0M934.4 1156.0h0M1074.2 826.5h0M1034.2 953.7h0M1017.6 868.0h0M926.4 1150.7h0M1016.1 932.0h0M1059.3 971.3h0M1038.8 954.0h0M883.1 787.2h0M1027.8 1164.8h0M1043.5 1165.3h0M1023.9 986.6h0M1055.9 948.9h0M981.6 799.5h0M1021.8 1154.3h0"/><path stroke="#fcf9bb" stroke-width="6.6" stroke-linecap="round" fill="none" d="M660.8 569.6h0M1152.0 382.0h0"/><path stroke="#892881" stroke-width="6.6" stroke-linecap="round" fill="none" d="M1226.1 794.9h0M1265.3 363.9h0M1258.5 346.0h0M1282.0 459.8h0M1272.9 336.5h0"/><path stroke="#df4a68" stroke-width="6.6" stroke-linecap="round" fill="none" d="M1207.3 430.5h0M1198.4 349.6h0M1166.9 368.1h0"/><path stroke="#fea16e" stroke-width="6.6" stroke-linecap="round" fill="none" d="M1199.9 425.3h0"/><path stroke="#dc4869" stroke-width="6.6" stroke-linecap="round" fill="none" d="M1163.0 378.5h0M1107.2 417.3h0M1131.0 408.1h0M1202.5 445.1h0M1102.1 417.8h0"/><path stroke="#d2426f" stroke-width="6.6" stroke-linecap="round" fill="none" d="M1117.3 414.0h0M1250.9 496.4h0M1254.9 497.2h0M1266.9 489.4h0M1204.0 433.0h0"/><path stroke="#992d80" stroke-width="6.6" stroke-linecap="round" fill="none" d="M1280.7 438.4h0M1288.7 462.7h0M1279.5 461.6h0M1264.2 358.1h0"/><path stroke="#a02f7f" stroke-width="6.6" stroke-linecap="round" fill="none" d="M1267.5 471.1h0M1180.8 396.0h0"/><path stroke="#f2645c" stroke-width="6.6" stroke-linecap="round" fill="none" d="M1242.7 965.3h0M1220.4 466.0h0M1113.9 414.9h0M1253.2 974.7h0"/><path stroke="#701f81" stroke-width="6.6" stroke-linecap="round" fill="none" d="M1187.1 667.8h0M1255.3 317.1h0M841.6 848.5h0M927.7 798.8h0M747.0 972.6h0M1287.9 366.5h0M726.3 1049.4h0M687.6 1056.4h0M1299.8 367.3h0M956.6 728.0h0M1258.3 327.7h0M1143.2 317.3h0M806.9 1080.5h0"/><path stroke="#a5317e" stroke-width="6.6" stroke-linecap="round" fill="none" d="M1209.6 428.3h0M1236.8 503.8h0"/><path stroke="#f56b5c" stroke-width="6.6" stroke-linecap="round" fill="none" d="M1125.1 368.9h0M1150.6 374.7h0M1139.9 378.6h0"/><path stroke="#fec488" stroke-width="6.6" stroke-linecap="round" fill="none" d="M1146.7 385.0h0"/><path stroke="#fb8560" stroke-width="6.6" stroke-linecap="round" fill="none" d="M1113.4 411.6h0"/><path stroke="#c03a76" stroke-width="6.6" stroke-linecap="round" fill="none" d="M1231.1 483.7h0M1157.2 372.8h0"/><path stroke="#b2357b" stroke-width="6.6" stroke-linecap="round" fill="none" d="M1210.8 324.3h0M1271.4 439.2h0M1152.0 357.5h0"/><path stroke="#ba3878" stroke-width="6.6" stroke-linecap="round" fill="none" d="M1175.1 386.4h0"/><path stroke="#982d80" stroke-width="6.6" stroke-linecap="round" fill="none" d="M1246.0 384.6h0M1249.9 482.3h0M1174.0 391.1h0M1191.5 264.7h0M1227.1 374.3h0M1196.8 434.6h0M1263.1 327.4h0"/><path stroke="#e44f64" stroke-width="6.6" stroke-linecap="round" fill="none" d="M1150.9 383.8h0"/><path stroke="#942c80" stroke-width="6.6" stroke-linecap="round" fill="none" d="M1085.8 1144.3h0M1295.2 370.7h0M1188.2 672.4h0"/><path stroke="#f8745c" stroke-width="6.6" stroke-linecap="round" fill="none" d="M1209.6 443.6h0M1156.7 378.3h0"/><path stroke="#b83779" stroke-width="6.6" stroke-linecap="round" fill="none" d="M1112.4 413.5h0M1254.3 498.8h0M1285.4 456.4h0"/><path stroke="#a3307e" stroke-width="6.6" stroke-linecap="round" fill="none" d="M1154.9 389.6h0M1261.3 334.9h0M1192.1 345.4h0M1218.1 404.1h0M1257.6 324.8h0"/><path stroke="#ad347c" stroke-width="6.6" stroke-linecap="round" fill="none" d="M1151.5 364.0h0M1227.5 429.8h0"/><path stroke="#fa7d5e" stroke-width="6.6" stroke-linecap="round" fill="none" d="M1101.2 417.8h0M1188.2 374.3h0"/><path stroke="#cc3f71" stroke-width="6.6" stroke-linecap="round" fill="none" d="M1201.1 292.8h0M1147.0 382.0h0"/><path stroke="#f2625d" stroke-width="6.6" stroke-linecap="round" fill="none" d="M1199.7 286.9h0M1211.4 436.9h0"/><path stroke="#f05f5e" stroke-width="6.6" stroke-linecap="round" fill="none" d="M1198.1 349.3h0"/><path stroke="#912b81" stroke-width="6.6" stroke-linecap="round" fill="none" d="M1218.6 366.3h0M1297.6 390.4h0M1207.1 343.0h0M1154.9 373.9h0"/><path stroke="#d8456c" stroke-width="6.6" stroke-linecap="round" fill="none" d="M1184.5 356.5h0"/><path stroke="#fd9266" stroke-width="6.6" stroke-linecap="round" fill="none" d="M1091.5 424.1h0"/><path stroke="#fb835f" stroke-width="6.6" stroke-linecap="round" fill="none" d="M1233.3 991.0h0M1178.0 379.0h0M1216.8 462.4h0"/><path stroke="#eb5760" stroke-width="6.6" stroke-linecap="round" fill="none" d="M1157.0 380.9h0M1151.3 371.7h0"/><path stroke="#e95462" stroke-width="6.6" stroke-linecap="round" fill="none" d="M1134.6 370.6h0"/><path stroke="#c83e73" stroke-width="6.6" stroke-linecap="round" fill="none" d="M1190.4 374.3h0"/><path stroke="#cd4071" stroke-width="6.6" stroke-linecap="round" fill="none" d="M1134.1 406.2h0M1214.4 428.9h0"/><path stroke="#f9795d" stroke-width="6.6" stroke-linecap="round" fill="none" d="M1184.0 395.0h0"/><path stroke="#fc8e64" stroke-width="6.6" stroke-linecap="round" fill="none" d="M1168.0 384.0h0M1202.7 293.4h0"/><path stroke="#9b2e7f" stroke-width="6.6" stroke-linecap="round" fill="none" d="M1225.1 342.6h0M1240.8 316.1h0"/><path stroke="#fea571" stroke-width="6.6" stroke-linecap="round" fill="none" d="M1159.0 384.0h0"/><path stroke="#ca3e72" stroke-width="6.6" stroke-linecap="round" fill="none" d="M1191.5 336.1h0M1199.6 283.0h0"/><path stroke="#fd9668" stroke-width="6.6" stroke-linecap="round" fill="none" d="M1134.3 376.6h0"/><path stroke="#e24d66" stroke-width="6.6" stroke-linecap="round" fill="none" d="M1196.9 436.6h0"/><path stroke="#db476a" stroke-width="6.6" stroke-linecap="round" fill="none" d="M1221.7 417.5h0"/><path stroke="#0b0924" stroke-width="6.6" stroke-linecap="round" fill="none" d="M1056.4 1046.4h0"/><path stroke="#cf4070" stroke-width="6.6" stroke-linecap="round" fill="none" d="M1188.4 353.5h0M1236.0 989.0h0M1295.7 470.0h0"/><path stroke="#f7705c" stroke-width="6.6" stroke-linecap="round" fill="none" d="M1179.6 368.6h0"/><path stroke="#0d0a29" stroke-width="6.6" stroke-linecap="round" fill="none" d="M1056.9 956.1h0"/>
</svg></body></html>
